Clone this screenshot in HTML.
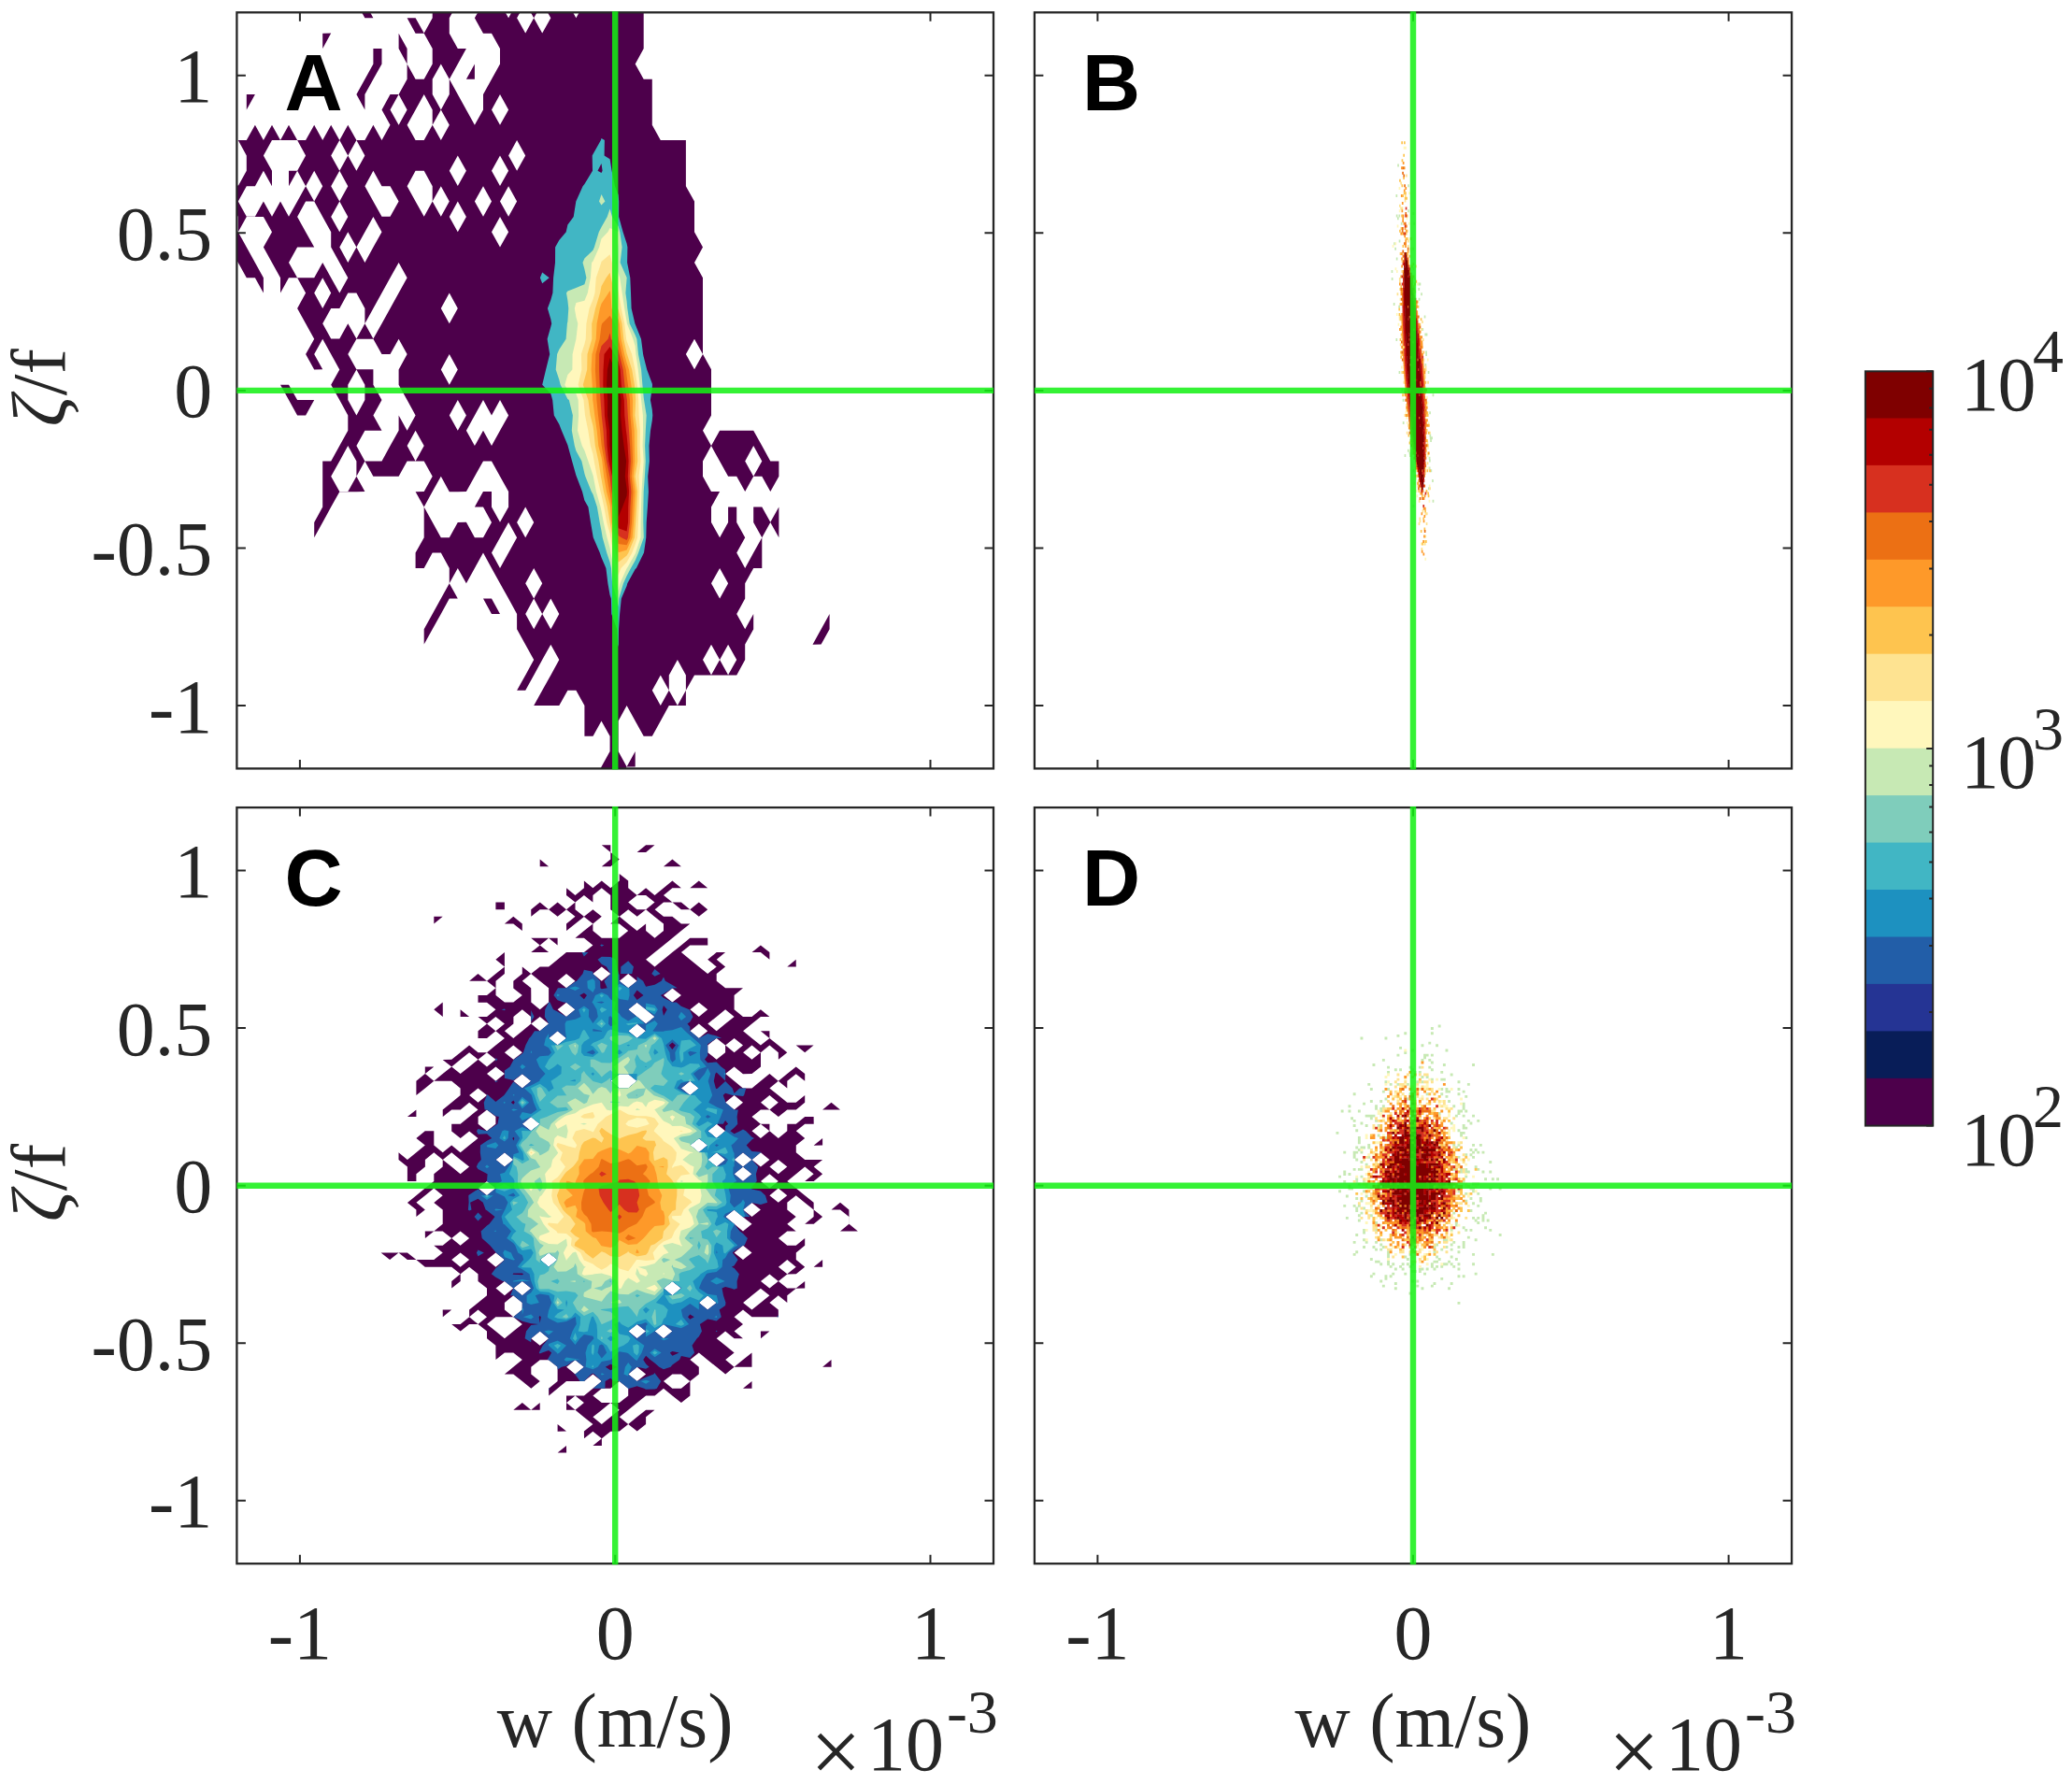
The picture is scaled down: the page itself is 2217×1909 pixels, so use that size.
<!DOCTYPE html>
<html lang="en"><head><meta charset="utf-8"><title>Joint PDF of vertical velocity and vorticity</title>
<style>html,body{margin:0;padding:0;background:#fff}body{width:2217px;height:1909px;overflow:hidden}svg{display:block}text{font-family:"Liberation Serif","DejaVu Serif",serif;fill:#262626}.lab{font-size:82px}.sup{font-size:66px}.pl{font-family:"Liberation Sans","DejaVu Sans",sans-serif;font-weight:bold;font-size:86px;fill:#000}</style></head><body>
<svg width="2217" height="1909" viewBox="0 0 2217 1909">
<rect width="2217" height="1909" fill="#fff"/>
<defs>
<clipPath id="clipA"><rect x="253.4" y="13.3" width="809.6" height="809.1"/></clipPath>
<clipPath id="clipB"><rect x="1106.9" y="13.3" width="810.2" height="809.1"/></clipPath>
<clipPath id="clipC"><rect x="253.4" y="864.1" width="809.6" height="809.1"/></clipPath>
<clipPath id="clipD"><rect x="1106.9" y="864.1" width="810.2" height="809.1"/></clipPath>
</defs>
<g id="panelA">
<g clip-path="url(#clipA)">
<path fill="#4d004b" fill-rule="evenodd" d="M381.4,2.9 390.4,2.9 399.4,19.3 390.4,19.3ZM462.7,-13.4 471.8,-13.4 480.8,-13.4 489.8,-13.4 498.9,-13.4 507.9,-13.4 517,-13.4 526,-13.4 535,-13.4 544.1,-13.4 553.1,-13.4 562.2,-13.4 571.2,-13.4 580.2,-13.4 589.3,2.9 598.3,-13.4 607.4,-13.4 616.4,-13.4 625.4,-13.4 634.5,-13.4 643.5,-13.4 652.6,-13.4 661.6,-13.4 670.6,-13.4 679.7,-13.4 688.7,2.9 688.7,19.3 688.7,35.7 688.7,52 679.7,68.4 688.7,84.7 697.8,84.7 697.8,101 697.8,117.4 697.8,133.8 706.8,150.1 715.8,150.1 724.9,150.1 733.9,150.1 733.9,166.5 733.9,182.8 733.9,199.2 743,215.5 743,231.9 743,248.2 752,264.5 743,280.9 752,297.2 752,313.6 752,330 752,346.3 752,362.7 752,379 761,395.3 761,411.7 761,428.1 761,444.4 752,460.8 761,477.1 770.1,460.8 779.1,460.7 788.2,460.7 797.2,460.7 806.2,460.7 815.3,477.1 824.3,493.4 833.4,493.4 833.4,509.8 824.3,526.1 815.3,509.8 806.2,509.8 797.2,526.1 788.2,509.8 779.1,509.8 770.1,493.5 761,477.1 752,493.5 752,509.8 761,526.1 770.1,526.1 761,542.5 761,558.9 770.1,575.2 779.1,558.9 779.1,542.5 788.2,542.5 788.2,558.9 797.2,575.2 788.2,591.5 797.2,607.9 806.2,591.5 815.3,575.2 806.2,558.9 806.2,542.5 815.3,542.5 824.3,558.8 833.4,542.5 833.4,558.9 833.4,575.2 824.3,558.9 815.3,575.2 815.3,591.5 815.3,607.9 806.2,607.9 797.2,624.2 797.2,640.6 788.2,657 797.2,673.3 806.2,657 806.2,673.3 797.2,689.6 797.2,706 788.2,722.4 779.1,722.4 770.1,722.4 761,722.4 752,722.4 743,722.4 733.9,738.7 733.9,755.1 724.9,755.1 715.8,755.1 706.8,771.4 697.8,787.8 688.7,787.8 679.7,771.4 670.6,755.1 661.6,771.4 661.6,787.8 661.6,804.1 670.6,820.4 679.7,804.1 679.7,820.5 670.6,820.5 661.6,836.8 652.6,853.1 643.5,836.8 634.5,836.8 643.5,820.5 652.6,804.1 652.6,787.8 643.5,771.4 634.5,787.8 625.4,787.8 625.4,771.4 625.4,755.1 616.4,738.7 607.4,738.7 598.3,755.1 589.3,755.1 580.2,755.1 571.2,755.1 580.2,738.7 589.3,722.4 598.3,706 589.3,689.7 580.2,706 571.2,722.4 562.2,738.7 553.1,738.7 562.2,722.4 571.2,706 562.2,689.7 553.1,673.3 553.1,657 544.1,640.6 535,624.3 526,607.9 517,591.6 507.9,607.9 498.9,624.2 489.8,607.9 480.8,624.2 489.8,640.6 480.8,640.6 471.8,657 462.7,673.3 453.7,689.6 453.7,673.3 462.7,657 471.8,640.6 480.8,624.2 480.8,607.9 471.8,591.6 462.7,591.6 453.7,607.9 444.6,607.9 444.6,591.5 453.7,575.2 453.7,558.9 453.7,542.5 444.6,526.2 453.7,526.1 462.7,509.8 453.7,493.5 444.6,493.5 435.6,493.5 426.6,509.8 417.5,509.8 408.5,509.8 399.4,509.8 390.4,493.5 381.4,509.8 390.4,526.1 381.4,526.2 372.3,526.2 363.3,526.2 354.2,542.5 345.2,558.9 336.2,575.2 336.2,558.9 345.2,542.5 345.2,526.1 345.2,509.8 345.2,493.5 354.2,493.4 363.3,477.1 372.3,460.8 372.3,444.4 363.3,428.1 354.2,411.7 363.3,395.4 354.2,379 345.2,362.7 336.2,379 345.2,395.3 336.2,395.4 327.1,379 336.2,362.7 327.1,346.3 318.1,330 327.1,313.6 318.1,297.3 309,297.3 300,313.6 300,297.3 291,280.9 281.9,264.6 291,248.2 281.9,231.9 272.9,231.9 263.8,231.9 254.8,248.2 263.8,264.5 272.9,280.9 281.9,297.2 281.9,313.6 272.9,297.3 263.8,297.3 254.8,280.9 245.8,264.6 254.8,248.2 254.8,231.9 245.8,215.5 236.7,231.9 236.7,215.5 236.7,199.2 245.8,182.8 254.8,199.1 263.8,182.8 263.8,166.5 254.8,150.1 245.8,150.1 236.7,166.5 236.7,150.1 245.8,150.1 254.8,150.1 263.8,150.1 272.9,133.8 281.9,150.1 291,133.8 300,150.1 309,133.8 318.1,150.1 327.1,150.1 336.2,133.8 345.2,150.1 354.2,133.8 363.3,150.1 372.3,133.8 381.4,150.1 390.4,150.1 399.4,133.8 408.5,150.1 417.5,133.8 408.5,117.4 417.5,101 426.6,101 435.6,84.7 435.6,68.4 426.6,52 426.6,35.7 435.6,52 435.6,68.4 444.6,84.7 453.7,84.7 462.7,68.4 462.7,52 453.7,35.7 444.6,35.7 435.6,19.3 444.6,19.3 453.7,35.6 462.7,19.3 462.7,2.9ZM471.8,68.4 462.7,84.7 462.7,101 471.8,117.4 480.8,101 480.8,84.7ZM480.8,313.6 471.8,330 480.8,346.3 489.8,330ZM507.9,-13.4 498.9,2.9 489.8,3 480.8,19.3 480.8,35.7 489.8,52 498.9,52 489.8,68.4 480.8,84.7 489.8,101 498.9,117.4 507.9,133.7 517,117.4 517,101 526,84.7 535,68.4 535,52 526,35.7 517,35.7 507.9,19.3 517,2.9ZM535,101.1 526,117.4 535,133.7 544.1,117.4ZM544.1,-13.4 535,2.9 544.1,19.3 553.1,2.9ZM553.1,150.1 544.1,166.5 553.1,182.8 562.2,166.5ZM562.2,3 553.1,19.3 562.2,35.6 571.2,19.3ZM571.2,607.9 562.2,624.2 571.2,640.6 580.2,624.2ZM580.2,3 571.2,19.3 580.2,35.6 589.3,19.3ZM589.3,640.6 580.2,657 589.3,673.3 598.3,657ZM616.4,-13.4 607.4,2.9 616.4,19.3 625.4,2.9ZM706.8,722.4 697.8,738.7 706.8,755 715.8,738.7ZM724.9,706 715.8,722.4 715.8,738.7 724.9,755 733.9,738.7 733.9,722.4ZM743,362.7 733.9,379 743,395.3 752,379ZM806.2,477.1 797.2,493.5 806.2,509.8 815.3,493.5ZM761,689.7 752,706 761,722.3 770.1,706ZM770.1,607.9 761,624.2 770.1,640.6 779.1,624.2ZM779.1,689.7 770.1,706 779.1,722.3 788.2,706ZM291,150.1 281.9,166.5 291,182.8 291,199.2 281.9,182.8 272.9,199.2 263.8,199.2 254.8,215.5 263.8,231.8 272.9,231.8 281.9,215.5 291,231.8 300,215.5 309,231.8 318.1,215.5 327.1,199.2 318.1,182.8 309,199.2 309,182.8 318.1,182.8 327.1,166.5 318.1,150.1 309,150.1 300,150.1ZM327.1,215.5 318.1,231.9 327.1,248.2 336.2,264.5 327.1,264.6 318.1,264.6 309,280.9 318.1,297.2 327.1,297.2 336.2,297.2 345.2,280.9 354.2,297.2 363.3,313.6 372.3,297.3 363.3,280.9 354.2,264.6 354.2,248.2 345.2,231.9 336.2,215.5ZM336.2,182.8 327.1,199.2 336.2,215.5 345.2,199.2ZM363.3,150.1 354.2,166.5 363.3,182.8 372.3,166.5ZM372.3,248.2 363.3,264.6 372.3,280.9 381.4,264.6ZM381.4,150.1 372.3,166.5 381.4,182.8 390.4,166.5ZM399.4,182.8 390.4,199.2 399.4,215.5 408.5,231.8 417.5,231.8 426.6,215.5 417.5,199.2 408.5,199.2ZM426.6,101.1 417.5,117.4 426.6,133.7 435.6,117.4ZM453.7,101.1 444.6,117.4 435.6,133.8 444.6,150.1 453.7,150.1 462.7,133.8 462.7,117.4ZM471.8,117.4 462.7,133.8 471.8,150.1 480.8,133.8ZM480.8,379 471.8,395.4 480.8,411.7 489.8,395.4ZM489.8,166.5 480.8,182.8 489.8,199.1 498.9,182.8ZM517,199.2 507.9,215.5 517,231.8 526,215.5ZM535,166.5 526,182.8 535,199.1 544.1,182.8ZM544.1,199.2 535,215.5 544.1,231.8 553.1,215.5ZM562.2,542.5 553.1,558.9 562.2,575.2 571.2,558.9ZM571.2,640.6 562.2,657 571.2,673.3 580.2,657ZM345.2,297.3 336.2,313.6 345.2,329.9 354.2,313.6ZM363.3,182.8 354.2,199.2 363.3,215.5 372.3,199.2ZM372.3,313.6 363.3,330 354.2,330 345.2,346.3 354.2,362.6 363.3,362.6 372.3,346.3 381.4,362.6 390.4,346.3 390.4,330 381.4,313.6ZM399.4,231.9 390.4,248.2 381.4,264.6 390.4,280.9 399.4,264.6 408.5,248.2ZM426.6,280.9 417.5,297.3 408.5,313.6 399.4,330 390.4,346.3 399.4,362.6 408.5,346.3 417.5,330 426.6,313.6 435.6,297.3ZM444.6,182.8 435.6,199.2 444.6,215.5 453.7,231.8 462.7,215.5 462.7,199.2 453.7,182.8ZM471.8,199.2 462.7,215.5 471.8,231.8 480.8,215.5ZM489.8,215.5 480.8,231.9 489.8,248.2 498.9,231.9ZM517,428.1 507.9,444.4 498.9,460.8 507.9,477.1 517,460.8 526,477.1 535,460.8 544.1,444.4 535,428.1 526,444.4ZM535,231.9 526,248.2 535,264.5 544.1,248.2ZM544.1,558.9 535,575.2 526,591.5 535,607.9 544.1,591.5 553.1,575.2ZM363.3,215.5 354.2,231.9 363.3,248.2 372.3,231.9ZM372.3,477.1 363.3,493.5 354.2,509.8 363.3,526.1 372.3,526.1 381.4,509.8 381.4,493.5ZM381.4,362.7 372.3,379 381.4,395.3 390.4,395.3 399.4,395.3 399.4,411.7 408.5,428 399.4,444.4 408.5,460.7 399.4,460.8 390.4,460.8 381.4,477.1 390.4,493.4 399.4,493.4 408.5,493.4 417.5,477.1 426.6,460.8 426.6,444.4 435.6,460.7 444.6,444.4 435.6,428.1 426.6,411.7 426.6,395.4 435.6,379 426.6,362.7 417.5,379 408.5,379 399.4,362.7 390.4,362.7ZM444.6,460.8 435.6,477.1 444.6,493.4 453.7,477.1ZM489.8,428.1 480.8,444.4 489.8,460.7 498.9,444.4ZM517,493.5 507.9,509.8 498.9,526.1 489.8,526.2 480.8,526.2 471.8,509.8 462.7,526.1 453.7,542.5 462.7,558.8 471.8,575.2 480.8,575.2 489.8,558.9 498.9,558.8 507.9,575.2 517,575.2 526,558.9 517,542.5 507.9,542.5 517,526.1 526,526.1 526,542.5 535,558.8 544.1,542.5 544.1,526.1 535,509.8 526,493.5ZM381.4,395.4 372.3,411.7 372.3,428.1 381.4,444.4 390.4,428.1 390.4,411.7ZM345.2,35.7 354.2,35.6 345.2,52ZM399.4,52 408.5,52 408.5,68.4 399.4,84.7 390.4,101 390.4,117.4 381.4,101.1 390.4,84.7 399.4,68.4ZM507.9,68.4 507.9,84.7 498.9,84.7ZM263.8,101 272.9,101 263.8,117.4ZM300,411.7 309,411.7 318.1,428 327.1,428 336.2,428 327.1,444.4 318.1,444.4 309,428.1ZM517,640.6 526,640.6 535,656.9 526,657ZM887.6,657 887.6,673.3 878.6,689.6 869.5,689.7 878.6,673.3Z"/>
<path fill="#41b6c4" fill-rule="evenodd" d="M642.9,150.1 643.5,147.9 646.9,150.1 646.6,166.5 652.6,170.2 654.6,182.8 658,199.2 661.6,208.4 662.2,215.5 662.1,231.9 666.6,248.2 670.6,260.6 671.4,264.6 671.1,280.9 674.3,297.3 675,313.6 675.6,330 679.4,346.3 679.7,346.9 686,362.7 688.1,379 688.7,381.7 692.2,395.4 697.8,410.5 698,411.7 697.8,415.1 695.9,428.1 697.8,438.3 698.3,444.4 697.8,449.9 696,460.8 694.5,477.1 694.9,493.5 693.2,509.8 693.9,526.1 692.9,542.5 691.7,558.9 691.3,575.2 689,591.5 688.7,592 680.9,607.9 679.7,608.9 671.3,624.2 670.6,627.1 664.8,640.6 663.1,657 662,673.3 661.7,689.6 661.6,692.3 661,689.6 660.2,673.3 654.3,657 653.9,640.6 652.6,636.7 650.4,624.2 648.4,607.9 643.5,596.5 641.8,591.5 634.8,575.2 634.5,573.8 632,558.9 629.4,542.5 625.4,535.5 623,526.1 616.8,509.8 616.4,508.8 612.1,493.5 607.6,477.1 607.4,476.3 600.9,460.8 598.3,454 592.8,444.4 591.2,428.1 589.3,421.2 580.2,411.8 580.2,411.7 580.2,411.7 584.1,395.4 588.2,379 585.6,362.7 589.3,349.8 590.2,346.3 589.3,341.4 585.9,330 589.3,321.1 591.4,313.6 592.1,297.3 594,280.9 594.1,264.6 598.3,257 605.7,248.2 607.4,240.6 613.7,231.9 616.3,215.5 616.4,215.3 623.6,199.2 625.4,197.1 634,182.8 633.7,166.5 634.5,165ZM643.5,174.9 639.5,182.8 643.5,184.9 644.6,182.8ZM577.9,297.3 580.2,291.4 587.7,297.3 580.2,303.2Z"/>
<path fill="#c7e9b4" fill-rule="evenodd" d="M641,215.5 643.5,208.1 647.4,215.5 643.5,219.5ZM649.7,231.9 652.6,223.4 655,231.9 661.6,241.9 663.3,248.2 665.6,264.6 663.6,280.9 670.6,297.1 670.7,297.3 670.6,298.1 669.4,313.6 670.6,322.3 671.3,330 673.7,346.3 679.7,358.5 681.4,362.7 683,379 686.1,395.4 687.4,411.7 688.7,424.9 689.1,428.1 691.7,444.4 690.8,460.8 690.1,477.1 690.8,493.5 689.9,509.8 688.7,525.9 688.7,526.1 688.4,542.5 688.3,558.9 688.7,571.6 688.8,575.2 688.7,575.5 683.1,591.5 679.7,599.8 675,607.9 670.6,616.2 667,624.2 662.2,640.6 661.6,649.5 660,640.6 655.1,624.2 654,607.9 652.6,601.6 649.2,591.5 644.7,575.2 643.5,568 641.7,558.9 638.9,542.5 634.5,529.1 632.8,526.1 626.3,509.8 625.4,506.8 622.4,493.5 616.4,482.6 614.8,477.1 611.8,460.8 612.9,444.4 608.8,428.1 607.4,427 599.7,411.7 598.3,406.2 594.7,395.4 596.1,379 598.3,373.9 605.6,362.7 606.9,346.3 607.4,344 608.3,330 607.4,321.5 606,313.6 607.4,311.6 616.4,308.1 625.4,304.2 627.4,297.3 625.4,287.9 623.5,280.9 625.4,276.4 634.5,267.7 635.9,264.5 640.8,248.2 643.5,243.1Z"/>
<path fill="#fff7bc" fill-rule="evenodd" d="M650.4,248.2 652.6,244.1 661.6,247.9 661.7,248.2 661.6,259 661.1,264.6 659.3,280.9 661.6,292.4 663.2,297.3 665.7,313.6 668.2,330 670.6,344.3 670.9,346.3 677.4,362.7 679.7,370.6 680.4,379 682.8,395.4 684.6,411.7 686.1,428.1 687.9,444.4 688.1,460.8 687.6,477.1 688.7,493.5 687.5,509.8 686.5,526.1 686,542.5 685.6,558.9 685.5,575.2 680.1,591.5 679.7,592.6 670.9,607.9 670.6,608.3 663.4,624.2 661.6,632.5 659.4,624.2 657.1,607.9 653.3,591.5 652.6,586.6 649.5,575.2 645.8,558.9 643.5,546.8 642.6,542.5 637.9,526.1 634.8,509.8 634.5,508.4 629.4,493.5 625.4,481.9 622.8,477.1 618,460.8 619.1,444.4 618.7,428.1 616.4,421.2 607.4,417.8 604.3,411.7 607.4,401 612.4,395.4 612.6,379 616.4,362.7 616.4,362.6 618.3,346.3 616.4,339.3 614.8,330 616.4,323.9 625.4,321.7 628.8,313.6 631.8,297.3 633.1,280.9 634.5,279.5 641.1,264.6 643.5,255.5Z"/>
<path fill="#fee391" fill-rule="evenodd" d="M643.3,280.9 643.5,280.1 652.6,272.3 654.8,280.9 658.1,297.3 661.6,312 661.9,313.6 664.7,330 668.2,346.3 670.1,362.7 670.6,364.9 676.1,379 679.4,395.4 679.7,396.9 681.8,411.7 683.2,428.1 683.6,444.4 684.9,460.8 684.6,477.1 685.5,493.5 683.6,509.8 684.3,526.1 683.6,542.5 682.9,558.9 682.1,575.2 679.7,582.5 676.3,591.5 670.6,601.4 664.4,607.9 661.6,615.4 660.3,607.9 656.1,591.5 653.4,575.2 652.6,570.8 649.2,558.9 646.3,542.5 643.5,529.7 642.5,526.1 638.8,509.8 635.7,493.5 634.5,486 631.8,477.1 629.3,460.8 626,444.4 625.4,438.2 624.5,428.1 618.6,411.7 622.4,395.4 621.9,379 625.4,368.2 626.7,362.7 627.4,346.3 630.6,330 634.5,320.6 636.5,313.6 637.8,297.3Z"/>
<path fill="#fec44f" fill-rule="evenodd" d="M648.6,297.3 652.6,291.8 653.7,297.3 657.6,313.6 660.8,330 661.6,331.2 665.5,346.3 667.3,362.7 670.6,378 671,379 676.2,395.4 678.9,411.7 679.7,420.6 680.2,428.1 679.7,439 679.4,444.4 679.7,446.4 681.7,460.8 681.7,477.1 682.3,493.5 679.7,509.3 679.6,509.8 679.7,510.2 682.1,526.1 681.2,542.5 680.2,558.9 679.7,565 679,575.2 672.4,591.5 670.6,594.6 661.6,601.8 658.9,591.5 655.6,575.2 652.6,558.9 652.6,558.8 649.9,542.5 645.9,526.1 643.5,512.6 642.9,509.8 640.4,493.5 636.8,477.1 635.2,460.8 634.5,455.8 631.6,444.4 629.4,428.1 625.4,416.3 623.8,411.7 625.4,406.1 628.2,395.4 628.5,379 633.3,362.7 633.2,346.3 634.5,341.6 637.1,330 642.1,313.6 643.5,306.3Z"/>
<path fill="#fe9929" fill-rule="evenodd" d="M651.1,313.6 652.6,310.9 653.2,313.6 654.5,330 661.6,341.7 662.8,346.3 664.5,362.7 668.1,379 670.6,388.2 673,395.4 675.4,411.7 677.1,428.1 676.9,444.4 678.7,460.8 678.9,477.1 679.3,493.5 677.7,509.8 679.7,524.9 679.9,526.1 679.7,529.3 678.9,542.5 678,558.9 676.6,575.2 670.6,588.6 661.6,591.3 657.8,575.2 654.4,558.9 653.1,542.5 652.6,539.6 649,526.1 646.1,509.8 644.3,493.5 643.5,489.3 640.3,477.1 638.7,460.8 636.3,444.4 634.5,429.7 634.2,428.1 633.7,411.7 632.6,395.4 633.4,379 634.5,375.6 637.7,362.7 638.6,346.3 641.9,330 643.5,324.9Z"/>
<path fill="#ec7014" fill-rule="evenodd" d="M644.2,346.3 652.6,337.7 657.8,346.3 661.6,361.8 661.7,362.7 665.3,379 669.8,395.4 670.6,402.5 671.9,411.7 674,428.1 674.4,444.4 675.8,460.8 676.5,477.1 677.1,493.5 675.7,509.8 677.6,526.2 676.7,542.5 676,558.9 674.3,575.2 670.6,583.3 661.6,581.9 660,575.2 656.3,558.9 655,542.5 652.6,528.1 652.1,526.1 649.3,509.8 646.6,493.5 643.7,477.1 643.5,475.3 642.1,460.8 640,444.4 638.4,428.1 637.9,411.7 636.9,395.4 637.4,379 641.7,362.7 643.5,348.4Z"/>
<path fill="#d7301f" fill-rule="evenodd" d="M650.6,362.7 652.6,356.2 653.8,362.6 661.6,374.7 662.6,379 666.7,395.4 668.4,411.7 670.6,425.8 670.9,428.1 671.8,444.4 673,460.8 674.1,477.1 674.8,493.5 673.8,509.8 675.4,526.2 674.4,542.5 674,558.9 671.9,575.2 670.6,578 664.8,575.2 661.6,573 658.2,558.9 657,542.5 654.5,526.1 652.6,510.6 652.4,509.8 649,493.5 646.6,477.1 645.5,460.8 643.7,444.4 643.5,441.1 642.5,428.1 641.6,411.7 641.1,395.4 641.2,379 643.5,370.3Z"/>
<path fill="#b30000" fill-rule="evenodd" d="M646.5,379 652.6,371.1 657.6,379 661.6,387.1 663.7,395.4 664.8,411.7 667.8,428.1 668.3,444.4 669.9,460.8 670.6,465.8 671.6,477.1 672.6,493.5 671.8,509.8 673.1,526.1 672.2,542.5 672,558.9 670.6,568.4 661.6,565.3 660,558.9 659,542.5 656.8,526.1 655,509.8 652.6,499.2 651.3,493.5 649.5,477.1 648.9,460.8 646.9,444.4 646.4,428.1 645.3,411.7 645.5,395.4Z"/>
<path fill="#7f0000" fill-rule="evenodd" d="M649.9,395.4 652.6,383 658.4,395.4 660.8,411.7 661.6,413.1 664.6,428.1 664.1,444.4 665.5,460.8 667.6,477.1 670.1,493.4 668.8,509.8 670.6,522.8 670.9,526.1 670.6,530.4 666.1,542.5 661.6,553.2 661,542.5 659.1,526.1 657.5,509.8 654.5,493.5 652.6,478.6 652.4,477.1 652.2,460.8 650,444.4 650.2,428.1 649.1,411.7Z"/>
</g>
<rect x="253.4" y="13.3" width="809.6" height="809.1" fill="none" stroke="#262626" stroke-width="2.3"/>
<path d="M320.9,13.3v9.5M320.9,822.4v-9.5M658.2,13.3v9.5M658.2,822.4v-9.5M995.5,13.3v9.5M995.5,822.4v-9.5M253.4,755h9.5M1063,755h-9.5M253.4,586.4h9.5M1063,586.4h-9.5M253.4,417.9h9.5M1063,417.9h-9.5M253.4,249.3h9.5M1063,249.3h-9.5M253.4,80.7h9.5M1063,80.7h-9.5" stroke="#262626" stroke-width="2" fill="none"/>
<g stroke="#14f014" stroke-width="6.4" opacity="0.86"><path d="M253.4,417.9H1063"/><path d="M658.2,12.3V823.4"/></g>
<text class="pl" x="304.4" y="118.3">A</text>
</g>
<g id="panelB">
<g clip-path="url(#clipB)">
<path fill="#c7e9b4" d="M1495.2,175.6h1.7v3h-1.7zM1506.2,197.2h1.7v3h-1.7zM1493.5,208h1.7v3h-1.7zM1506.2,224.2h1.7v3h-1.7zM1511.5,226.9h1.7v3h-1.7zM1493.8,229.6h1.7v3h-1.7zM1496.5,229.6h1.7v3h-1.7zM1495,232.3h1.7v3h-1.7zM1498.8,237.7h1.7v3h-1.7zM1512.3,237.7h1.7v3h-1.7zM1496.7,256.6h1.7v3h-1.7zM1491.2,259.3h1.7v3h-1.7zM1492.3,264.7h1.7v3h-1.7zM1511.2,264.7h1.7v3h-1.7zM1493.8,275.5h1.7v3h-1.7zM1488.6,289h1.7v3h-1.7zM1488.8,297.1h1.7v3h-1.7zM1517.3,302.5h1.7v3h-1.7zM1518.6,302.5h1.7v3h-1.7zM1517.4,307.9h1.7v3h-1.7zM1520.2,313.3h1.7v3h-1.7zM1517.7,318.7h1.7v3h-1.7zM1490.8,324.1h1.7v3h-1.7zM1496.3,326.8h1.7v3h-1.7zM1523.7,337.6h1.7v3h-1.7zM1521.4,351.1h1.7v3h-1.7zM1524.4,356.5h1.7v3h-1.7zM1525.7,356.5h1.7v3h-1.7zM1493.5,361.9h1.7v3h-1.7zM1525.2,375.4h1.7v3h-1.7zM1525.3,378.1h1.7v3h-1.7zM1524.5,388.9h1.7v3h-1.7zM1496.6,397h1.7v3h-1.7zM1527.7,397h1.7v3h-1.7zM1499.6,415.9h1.7v3h-1.7zM1532.6,421.3h1.7v3h-1.7zM1500.7,426.7h1.7v3h-1.7zM1529.2,440.2h1.7v3h-1.7zM1500.8,451h1.7v3h-1.7zM1529.5,464.5h1.7v3h-1.7zM1529.8,467.2h1.7v3h-1.7zM1531.2,467.2h1.7v3h-1.7zM1530.2,469.9h1.7v3h-1.7zM1506,480.7h1.7v3h-1.7zM1507.7,483.4h1.7v3h-1.7zM1502.6,486.1h1.7v3h-1.7zM1508,486.1h1.7v3h-1.7zM1528.7,488.8h1.7v3h-1.7zM1529,491.5h1.7v3h-1.7zM1528.8,499.6h1.7v3h-1.7zM1511.6,502.3h1.7v3h-1.7zM1530.5,502.3h1.7v3h-1.7zM1532.1,513.1h1.7v3h-1.7zM1527.9,521.2h1.7v3h-1.7zM1532.6,534.7h1.7v3h-1.7zM1511.6,540.1h1.7v3h-1.7z"/>
<path fill="#fff7bc" d="M1501.7,156.7h1.7v3h-1.7zM1503.1,156.7h1.7v3h-1.7zM1496.6,199.9h1.7v3h-1.7zM1507.2,205.3h1.7v3h-1.7zM1496.8,224.2h1.7v3h-1.7zM1504.5,232.3h1.7v3h-1.7zM1506.9,237.7h1.7v3h-1.7zM1494.7,240.4h1.7v3h-1.7zM1507.6,253.9h1.7v3h-1.7zM1492.5,259.3h1.7v3h-1.7zM1489.7,262h1.7v3h-1.7zM1508.5,267.4h1.7v3h-1.7zM1499.2,278.2h1.7v3h-1.7zM1492.6,286.3h1.7v3h-1.7zM1494,289h1.7v3h-1.7zM1515.9,302.5h1.7v3h-1.7zM1497.4,318.7h1.7v3h-1.7zM1493.9,334.9h1.7v3h-1.7zM1495.6,345.7h1.7v3h-1.7zM1498.3,378.1h1.7v3h-1.7zM1522.9,383.5h1.7v3h-1.7zM1526.9,383.5h1.7v3h-1.7zM1499,391.6h1.7v3h-1.7zM1501.5,421.3h1.7v3h-1.7zM1526.1,424h1.7v3h-1.7zM1526.7,429.4h1.7v3h-1.7zM1503.6,440.2h1.7v3h-1.7zM1504.2,445.6h1.7v3h-1.7zM1504.9,451h1.7v3h-1.7zM1527.8,451h1.7v3h-1.7zM1527.2,478h1.7v3h-1.7zM1509.4,486.1h1.7v3h-1.7zM1526.9,486.1h1.7v3h-1.7zM1524.8,499.6h1.7v3h-1.7zM1527.5,499.6h1.7v3h-1.7zM1514.2,510.4h1.7v3h-1.7zM1512.2,515.8h1.7v3h-1.7zM1528.8,518.5h1.7v3h-1.7zM1514.8,523.9h1.7v3h-1.7zM1515.6,529.3h1.7v3h-1.7zM1528.6,534.7h1.7v3h-1.7zM1519.9,580.6h1.7v3h-1.7zM1522.6,580.6h1.7v3h-1.7zM1524.4,596.8h1.7v3h-1.7z"/>
<path fill="#fee391" d="M1504.1,186.4h1.7v3h-1.7zM1498.3,194.5h1.7v3h-1.7zM1503,208h1.7v3h-1.7zM1502.7,213.4h1.7v3h-1.7zM1497,218.8h1.7v3h-1.7zM1498.3,221.5h1.7v3h-1.7zM1499.6,221.5h1.7v3h-1.7zM1505.2,245.8h1.7v3h-1.7zM1506.1,256.6h1.7v3h-1.7zM1505.9,262h1.7v3h-1.7zM1508.5,264.7h1.7v3h-1.7zM1505.8,270.1h1.7v3h-1.7zM1514.2,283.6h1.7v3h-1.7zM1511.5,286.3h1.7v3h-1.7zM1499.4,289h1.7v3h-1.7zM1496.9,297.1h1.7v3h-1.7zM1513.1,297.1h1.7v3h-1.7zM1497,299.8h1.7v3h-1.7zM1497.2,307.9h1.7v3h-1.7zM1494.6,313.3h1.7v3h-1.7zM1516.4,321.4h1.7v3h-1.7zM1496.7,337.6h1.7v3h-1.7zM1496.8,340.3h1.7v3h-1.7zM1521.1,343h1.7v3h-1.7zM1520.1,351.1h1.7v3h-1.7zM1498.8,359.2h1.7v3h-1.7zM1521.9,361.9h1.7v3h-1.7zM1497.8,367.3h1.7v3h-1.7zM1500.6,370h1.7v3h-1.7zM1524.7,391.6h1.7v3h-1.7zM1524.8,394.3h1.7v3h-1.7zM1499.3,397h1.7v3h-1.7zM1523.8,399.7h1.7v3h-1.7zM1524,402.4h1.7v3h-1.7zM1501.5,407.8h1.7v3h-1.7zM1527.2,407.8h1.7v3h-1.7zM1504,432.1h1.7v3h-1.7zM1525.6,432.1h1.7v3h-1.7zM1502.5,442.9h1.7v3h-1.7zM1524.5,445.6h1.7v3h-1.7zM1526.1,459.1h1.7v3h-1.7zM1504.8,461.8h1.7v3h-1.7zM1529.1,461.8h1.7v3h-1.7zM1526.5,472.6h1.7v3h-1.7zM1508.7,480.7h1.7v3h-1.7zM1510.4,483.4h1.7v3h-1.7zM1526.6,483.4h1.7v3h-1.7zM1526.7,494.2h1.7v3h-1.7zM1524.2,505h1.7v3h-1.7zM1515.1,507.7h1.7v3h-1.7zM1529.2,521.2h1.7v3h-1.7zM1517.8,534.7h1.7v3h-1.7zM1521.6,545.5h1.7v3h-1.7zM1524.6,548.2h1.7v3h-1.7zM1525.9,548.2h1.7v3h-1.7zM1518.4,553.6h1.7v3h-1.7zM1518.6,556.3h1.7v3h-1.7zM1517.6,559h1.7v3h-1.7zM1525.7,559h1.7v3h-1.7zM1524.4,572.5h1.7v3h-1.7zM1523.6,577.9h1.7v3h-1.7zM1523.9,580.6h1.7v3h-1.7zM1520.5,586h1.7v3h-1.7z"/>
<path fill="#fec44f" d="M1499.3,151.3h1.7v3h-1.7zM1502,151.3h1.7v3h-1.7zM1501.3,164.8h1.7v3h-1.7zM1499.6,170.2h1.7v3h-1.7zM1501.2,189.1h1.7v3h-1.7zM1497.1,191.8h1.7v3h-1.7zM1499.5,197.2h1.7v3h-1.7zM1501.8,205.3h1.7v3h-1.7zM1503.1,205.3h1.7v3h-1.7zM1500.3,208h1.7v3h-1.7zM1502.8,210.7h1.7v3h-1.7zM1504.2,210.7h1.7v3h-1.7zM1499.2,229.6h1.7v3h-1.7zM1498.6,243.1h1.7v3h-1.7zM1497.1,245.8h1.7v3h-1.7zM1499.7,248.5h1.7v3h-1.7zM1503.8,248.5h1.7v3h-1.7zM1503.5,253.9h1.7v3h-1.7zM1504.9,253.9h1.7v3h-1.7zM1508.9,253.9h1.7v3h-1.7zM1500.5,262h1.7v3h-1.7zM1497.7,270.1h1.7v3h-1.7zM1507.2,272.8h1.7v3h-1.7zM1511.4,280.9h1.7v3h-1.7zM1507.4,283.6h1.7v3h-1.7zM1510.1,283.6h1.7v3h-1.7zM1498.2,294.4h1.7v3h-1.7zM1514.5,299.8h1.7v3h-1.7zM1498.4,305.2h1.7v3h-1.7zM1513.4,310.6h1.7v3h-1.7zM1497.6,324.1h1.7v3h-1.7zM1515.1,324.1h1.7v3h-1.7zM1516.6,326.8h1.7v3h-1.7zM1496.4,329.5h1.7v3h-1.7zM1496.6,334.9h1.7v3h-1.7zM1498,337.6h1.7v3h-1.7zM1498.1,340.3h1.7v3h-1.7zM1519.7,340.3h1.7v3h-1.7zM1518.5,345.7h1.7v3h-1.7zM1498.5,351.1h1.7v3h-1.7zM1498.7,356.5h1.7v3h-1.7zM1497.6,361.9h1.7v3h-1.7zM1502,370h1.7v3h-1.7zM1498.2,375.4h1.7v3h-1.7zM1522.5,375.4h1.7v3h-1.7zM1499.6,378.1h1.7v3h-1.7zM1498.4,380.8h1.7v3h-1.7zM1523.5,394.3h1.7v3h-1.7zM1500.7,397h1.7v3h-1.7zM1524.5,407.8h1.7v3h-1.7zM1500.2,421.3h1.7v3h-1.7zM1504.6,437.5h1.7v3h-1.7zM1526.5,440.2h1.7v3h-1.7zM1505.2,442.9h1.7v3h-1.7zM1525.5,442.9h1.7v3h-1.7zM1526.8,442.9h1.7v3h-1.7zM1506.5,453.7h1.7v3h-1.7zM1528.1,453.7h1.7v3h-1.7zM1527.8,461.8h1.7v3h-1.7zM1506.5,464.5h1.7v3h-1.7zM1508.6,469.9h1.7v3h-1.7zM1526.1,469.9h1.7v3h-1.7zM1507.6,472.6h1.7v3h-1.7zM1526.8,475.3h1.7v3h-1.7zM1514,499.6h1.7v3h-1.7zM1526.5,502.3h1.7v3h-1.7zM1529.2,502.3h1.7v3h-1.7zM1513.8,507.7h1.7v3h-1.7zM1517.2,513.1h1.7v3h-1.7zM1516.7,518.5h1.7v3h-1.7zM1517.5,523.9h1.7v3h-1.7zM1525.6,523.9h1.7v3h-1.7zM1519.2,526.6h1.7v3h-1.7zM1527.3,526.6h1.7v3h-1.7zM1521,529.3h1.7v3h-1.7zM1527.7,529.3h1.7v3h-1.7zM1524.3,545.5h1.7v3h-1.7zM1522.4,553.6h1.7v3h-1.7zM1523.5,564.4h1.7v3h-1.7zM1519.8,567.1h1.7v3h-1.7zM1525,577.9h1.7v3h-1.7zM1521.2,580.6h1.7v3h-1.7z"/>
<path fill="#fe9929" d="M1500.8,172.9h1.7v3h-1.7zM1499.1,178.3h1.7v3h-1.7zM1501.8,178.3h1.7v3h-1.7zM1503.4,199.9h1.7v3h-1.7zM1501.9,202.6h1.7v3h-1.7zM1498.9,208h1.7v3h-1.7zM1499.9,216.1h1.7v3h-1.7zM1499.5,224.2h1.7v3h-1.7zM1500.6,229.6h1.7v3h-1.7zM1504.6,229.6h1.7v3h-1.7zM1500.4,232.3h1.7v3h-1.7zM1500.3,235h1.7v3h-1.7zM1501.5,237.7h1.7v3h-1.7zM1504.1,240.4h1.7v3h-1.7zM1502.7,243.1h1.7v3h-1.7zM1503.9,245.8h1.7v3h-1.7zM1498.4,248.5h1.7v3h-1.7zM1502.3,251.2h1.7v3h-1.7zM1503.4,256.6h1.7v3h-1.7zM1503.3,259.3h1.7v3h-1.7zM1503.2,262h1.7v3h-1.7zM1505.8,267.4h1.7v3h-1.7zM1499.1,270.1h1.7v3h-1.7zM1504.5,270.1h1.7v3h-1.7zM1500.5,272.8h1.7v3h-1.7zM1499.2,275.5h1.7v3h-1.7zM1505.9,275.5h1.7v3h-1.7zM1506,278.2h1.7v3h-1.7zM1506,280.9h1.7v3h-1.7zM1499.3,283.6h1.7v3h-1.7zM1500.8,289h1.7v3h-1.7zM1510.3,294.4h1.7v3h-1.7zM1511.7,294.4h1.7v3h-1.7zM1497,302.5h1.7v3h-1.7zM1510.5,302.5h1.7v3h-1.7zM1513.2,302.5h1.7v3h-1.7zM1510.6,305.2h1.7v3h-1.7zM1511.9,305.2h1.7v3h-1.7zM1499.9,307.9h1.7v3h-1.7zM1498.6,310.6h1.7v3h-1.7zM1499.9,310.6h1.7v3h-1.7zM1512.1,310.6h1.7v3h-1.7zM1498.6,313.3h1.7v3h-1.7zM1512.1,313.3h1.7v3h-1.7zM1513.7,321.4h1.7v3h-1.7zM1498.9,324.1h1.7v3h-1.7zM1515.2,326.8h1.7v3h-1.7zM1515.4,332.2h1.7v3h-1.7zM1499.3,334.9h1.7v3h-1.7zM1515.5,334.9h1.7v3h-1.7zM1499.4,337.6h1.7v3h-1.7zM1499.5,340.3h1.7v3h-1.7zM1499.5,343h1.7v3h-1.7zM1499.6,345.7h1.7v3h-1.7zM1517.2,345.7h1.7v3h-1.7zM1498.4,348.4h1.7v3h-1.7zM1499.7,348.4h1.7v3h-1.7zM1517.3,348.4h1.7v3h-1.7zM1497.1,351.1h1.7v3h-1.7zM1499.8,351.1h1.7v3h-1.7zM1499.9,353.8h1.7v3h-1.7zM1518.8,353.8h1.7v3h-1.7zM1500.1,356.5h1.7v3h-1.7zM1500.2,359.2h1.7v3h-1.7zM1519.1,359.2h1.7v3h-1.7zM1520.4,359.2h1.7v3h-1.7zM1500.3,361.9h1.7v3h-1.7zM1519.2,361.9h1.7v3h-1.7zM1500.4,364.6h1.7v3h-1.7zM1519.3,364.6h1.7v3h-1.7zM1520.6,364.6h1.7v3h-1.7zM1500.5,367.3h1.7v3h-1.7zM1519.4,367.3h1.7v3h-1.7zM1520.7,367.3h1.7v3h-1.7zM1499.3,370h1.7v3h-1.7zM1518.2,370h1.7v3h-1.7zM1520.9,370h1.7v3h-1.7zM1500.7,372.7h1.7v3h-1.7zM1500.9,375.4h1.7v3h-1.7zM1501,378.1h1.7v3h-1.7zM1521.2,378.1h1.7v3h-1.7zM1501.1,380.8h1.7v3h-1.7zM1501.3,383.5h1.7v3h-1.7zM1501.4,386.2h1.7v3h-1.7zM1521.7,386.2h1.7v3h-1.7zM1501.6,388.9h1.7v3h-1.7zM1521.8,388.9h1.7v3h-1.7zM1501.7,391.6h1.7v3h-1.7zM1522,391.6h1.7v3h-1.7zM1501.9,394.3h1.7v3h-1.7zM1522.1,394.3h1.7v3h-1.7zM1502,397h1.7v3h-1.7zM1522.3,397h1.7v3h-1.7zM1523.6,397h1.7v3h-1.7zM1502.2,399.7h1.7v3h-1.7zM1522.5,399.7h1.7v3h-1.7zM1502.4,402.4h1.7v3h-1.7zM1522.7,402.4h1.7v3h-1.7zM1502.6,405.1h1.7v3h-1.7zM1522.9,405.1h1.7v3h-1.7zM1502.9,407.8h1.7v3h-1.7zM1523.1,407.8h1.7v3h-1.7zM1503.1,410.5h1.7v3h-1.7zM1523.4,410.5h1.7v3h-1.7zM1503.4,413.2h1.7v3h-1.7zM1523.6,413.2h1.7v3h-1.7zM1502.3,415.9h1.7v3h-1.7zM1524.2,418.6h1.7v3h-1.7zM1502.9,421.3h1.7v3h-1.7zM1504.2,421.3h1.7v3h-1.7zM1524,429.4h1.7v3h-1.7zM1525.3,429.4h1.7v3h-1.7zM1524.3,432.1h1.7v3h-1.7zM1504.3,434.8h1.7v3h-1.7zM1524.6,434.8h1.7v3h-1.7zM1525.9,434.8h1.7v3h-1.7zM1525.2,440.2h1.7v3h-1.7zM1503.9,442.9h1.7v3h-1.7zM1524.8,448.3h1.7v3h-1.7zM1526.1,448.3h1.7v3h-1.7zM1525.1,451h1.7v3h-1.7zM1525.4,453.7h1.7v3h-1.7zM1526.8,453.7h1.7v3h-1.7zM1506.9,456.4h1.7v3h-1.7zM1524.8,459.1h1.7v3h-1.7zM1525.1,461.8h1.7v3h-1.7zM1509.6,467.2h1.7v3h-1.7zM1509.9,469.9h1.7v3h-1.7zM1524.8,469.9h1.7v3h-1.7zM1510.3,472.6h1.7v3h-1.7zM1510.6,475.3h1.7v3h-1.7zM1511,478h1.7v3h-1.7zM1511.4,480.7h1.7v3h-1.7zM1524.9,480.7h1.7v3h-1.7zM1527.9,483.4h1.7v3h-1.7zM1515.7,502.3h1.7v3h-1.7zM1523.8,502.3h1.7v3h-1.7zM1516.5,507.7h1.7v3h-1.7zM1516.3,515.8h1.7v3h-1.7zM1519.8,521.2h1.7v3h-1.7zM1523.7,529.3h1.7v3h-1.7zM1522.7,532h1.7v3h-1.7zM1522.7,542.8h1.7v3h-1.7zM1524,542.8h1.7v3h-1.7zM1520.5,548.2h1.7v3h-1.7zM1523.5,550.9h1.7v3h-1.7zM1522.7,556.3h1.7v3h-1.7zM1523.1,572.5h1.7v3h-1.7zM1522.3,577.9h1.7v3h-1.7zM1520.8,588.7h1.7v3h-1.7zM1522.5,591.4h1.7v3h-1.7z"/>
<path fill="#ec7014" d="M1500.5,178.3h1.7v3h-1.7zM1500.2,183.7h1.7v3h-1.7zM1501.4,186.4h1.7v3h-1.7zM1502.2,197.2h1.7v3h-1.7zM1503.4,226.9h1.7v3h-1.7zM1502.9,237.7h1.7v3h-1.7zM1500,243.1h1.7v3h-1.7zM1499.8,245.8h1.7v3h-1.7zM1501.1,248.5h1.7v3h-1.7zM1502,259.3h1.7v3h-1.7zM1505.8,264.7h1.7v3h-1.7zM1500.4,267.4h1.7v3h-1.7zM1501.8,270.1h1.7v3h-1.7zM1504.5,272.8h1.7v3h-1.7zM1501.9,275.5h1.7v3h-1.7zM1500.6,278.2h1.7v3h-1.7zM1507.5,289h1.7v3h-1.7zM1500.8,291.7h1.7v3h-1.7zM1500.9,294.4h1.7v3h-1.7zM1509,294.4h1.7v3h-1.7zM1509.1,297.1h1.7v3h-1.7zM1510.4,297.1h1.7v3h-1.7zM1510.5,299.8h1.7v3h-1.7zM1498.5,307.9h1.7v3h-1.7zM1512,307.9h1.7v3h-1.7zM1500,313.3h1.7v3h-1.7zM1500.1,316h1.7v3h-1.7zM1512.2,316h1.7v3h-1.7zM1498.8,318.7h1.7v3h-1.7zM1500.1,318.7h1.7v3h-1.7zM1500.2,321.4h1.7v3h-1.7zM1515.1,321.4h1.7v3h-1.7zM1500.3,324.1h1.7v3h-1.7zM1513.8,324.1h1.7v3h-1.7zM1505.8,326.8h1.7v3h-1.7zM1513.9,326.8h1.7v3h-1.7zM1507.5,337.6h1.7v3h-1.7zM1515.6,337.6h1.7v3h-1.7zM1516.9,337.6h1.7v3h-1.7zM1515.7,340.3h1.7v3h-1.7zM1518.6,348.4h1.7v3h-1.7zM1512,351.1h1.7v3h-1.7zM1517.4,351.1h1.7v3h-1.7zM1517.5,353.8h1.7v3h-1.7zM1517.6,356.5h1.7v3h-1.7zM1517.7,359.2h1.7v3h-1.7zM1499,364.6h1.7v3h-1.7zM1519.5,370h1.7v3h-1.7zM1519.6,372.7h1.7v3h-1.7zM1499.5,375.4h1.7v3h-1.7zM1519.8,375.4h1.7v3h-1.7zM1519.9,378.1h1.7v3h-1.7zM1509.2,380.8h1.7v3h-1.7zM1520,380.8h1.7v3h-1.7zM1499.9,383.5h1.7v3h-1.7zM1516.1,383.5h1.7v3h-1.7zM1520.2,383.5h1.7v3h-1.7zM1521.5,383.5h1.7v3h-1.7zM1520.3,386.2h1.7v3h-1.7zM1508.3,388.9h1.7v3h-1.7zM1519.1,407.8h1.7v3h-1.7zM1519.3,410.5h1.7v3h-1.7zM1522.3,413.2h1.7v3h-1.7zM1503.7,415.9h1.7v3h-1.7zM1522.6,415.9h1.7v3h-1.7zM1525.3,415.9h1.7v3h-1.7zM1503.9,418.6h1.7v3h-1.7zM1522.8,418.6h1.7v3h-1.7zM1523.1,421.3h1.7v3h-1.7zM1504.5,424h1.7v3h-1.7zM1523.4,424h1.7v3h-1.7zM1503.4,426.7h1.7v3h-1.7zM1504.8,426.7h1.7v3h-1.7zM1523.7,426.7h1.7v3h-1.7zM1525,426.7h1.7v3h-1.7zM1505.1,429.4h1.7v3h-1.7zM1505.4,432.1h1.7v3h-1.7zM1505.7,434.8h1.7v3h-1.7zM1506,437.5h1.7v3h-1.7zM1523.5,437.5h1.7v3h-1.7zM1524.9,437.5h1.7v3h-1.7zM1506.3,440.2h1.7v3h-1.7zM1523.8,440.2h1.7v3h-1.7zM1506.6,442.9h1.7v3h-1.7zM1524.1,442.9h1.7v3h-1.7zM1506.9,445.6h1.7v3h-1.7zM1517.7,445.6h1.7v3h-1.7zM1507.2,448.3h1.7v3h-1.7zM1507.6,451h1.7v3h-1.7zM1507.9,453.7h1.7v3h-1.7zM1524.1,453.7h1.7v3h-1.7zM1508.2,456.4h1.7v3h-1.7zM1524.4,456.4h1.7v3h-1.7zM1508.6,459.1h1.7v3h-1.7zM1507.5,461.8h1.7v3h-1.7zM1508.9,461.8h1.7v3h-1.7zM1509.2,464.5h1.7v3h-1.7zM1524.1,464.5h1.7v3h-1.7zM1524.4,467.2h1.7v3h-1.7zM1509.3,475.3h1.7v3h-1.7zM1524.1,475.3h1.7v3h-1.7zM1525.5,475.3h1.7v3h-1.7zM1524.5,478h1.7v3h-1.7zM1512.7,480.7h1.7v3h-1.7zM1511.7,483.4h1.7v3h-1.7zM1524.2,486.1h1.7v3h-1.7zM1512.5,488.8h1.7v3h-1.7zM1524.6,488.8h1.7v3h-1.7zM1514.6,494.2h1.7v3h-1.7zM1524,494.2h1.7v3h-1.7zM1514.9,496.9h1.7v3h-1.7zM1524.4,496.9h1.7v3h-1.7zM1515.3,499.6h1.7v3h-1.7zM1523.4,499.6h1.7v3h-1.7zM1521.1,502.3h1.7v3h-1.7zM1523.2,507.7h1.7v3h-1.7zM1518,518.5h1.7v3h-1.7zM1523.4,518.5h1.7v3h-1.7zM1517.1,521.2h1.7v3h-1.7zM1521.5,523.9h1.7v3h-1.7zM1520.6,526.6h1.7v3h-1.7zM1518.7,532h1.7v3h-1.7zM1521.4,532h1.7v3h-1.7zM1523.8,567.1h1.7v3h-1.7z"/>
<path fill="#d7301f" d="M1503.7,221.5h1.7v3h-1.7zM1503.3,229.6h1.7v3h-1.7zM1502.8,240.4h1.7v3h-1.7zM1502.4,248.5h1.7v3h-1.7zM1501.8,272.8h1.7v3h-1.7zM1504.6,275.5h1.7v3h-1.7zM1501.9,278.2h1.7v3h-1.7zM1500.6,280.9h1.7v3h-1.7zM1506.1,283.6h1.7v3h-1.7zM1507.5,286.3h1.7v3h-1.7zM1507.6,291.7h1.7v3h-1.7zM1508.9,291.7h1.7v3h-1.7zM1499.5,294.4h1.7v3h-1.7zM1501,297.1h1.7v3h-1.7zM1501,299.8h1.7v3h-1.7zM1509.1,299.8h1.7v3h-1.7zM1499.7,302.5h1.7v3h-1.7zM1501.1,302.5h1.7v3h-1.7zM1501.1,305.2h1.7v3h-1.7zM1510.7,307.9h1.7v3h-1.7zM1510.7,310.6h1.7v3h-1.7zM1509.5,316h1.7v3h-1.7zM1512.3,318.7h1.7v3h-1.7zM1513.6,318.7h1.7v3h-1.7zM1512.4,321.4h1.7v3h-1.7zM1512.4,324.1h1.7v3h-1.7zM1500.4,326.8h1.7v3h-1.7zM1500.5,329.5h1.7v3h-1.7zM1514,329.5h1.7v3h-1.7zM1500.5,332.2h1.7v3h-1.7zM1514,332.2h1.7v3h-1.7zM1500.6,334.9h1.7v3h-1.7zM1514.1,334.9h1.7v3h-1.7zM1500.7,337.6h1.7v3h-1.7zM1514.2,337.6h1.7v3h-1.7zM1500.8,340.3h1.7v3h-1.7zM1500.9,343h1.7v3h-1.7zM1515.7,343h1.7v3h-1.7zM1501,345.7h1.7v3h-1.7zM1515.8,345.7h1.7v3h-1.7zM1501.1,348.4h1.7v3h-1.7zM1515.9,348.4h1.7v3h-1.7zM1501.2,351.1h1.7v3h-1.7zM1516,351.1h1.7v3h-1.7zM1501.3,353.8h1.7v3h-1.7zM1516.1,353.8h1.7v3h-1.7zM1501.4,356.5h1.7v3h-1.7zM1501.5,359.2h1.7v3h-1.7zM1501.6,361.9h1.7v3h-1.7zM1507,361.9h1.7v3h-1.7zM1517.8,361.9h1.7v3h-1.7zM1501.7,364.6h1.7v3h-1.7zM1511.2,364.6h1.7v3h-1.7zM1517.9,364.6h1.7v3h-1.7zM1501.8,367.3h1.7v3h-1.7zM1505.9,367.3h1.7v3h-1.7zM1518,367.3h1.7v3h-1.7zM1502.1,372.7h1.7v3h-1.7zM1518.3,372.7h1.7v3h-1.7zM1502.2,375.4h1.7v3h-1.7zM1518.4,375.4h1.7v3h-1.7zM1502.3,378.1h1.7v3h-1.7zM1518.5,378.1h1.7v3h-1.7zM1502.5,380.8h1.7v3h-1.7zM1518.7,380.8h1.7v3h-1.7zM1521.4,380.8h1.7v3h-1.7zM1502.6,383.5h1.7v3h-1.7zM1502.8,386.2h1.7v3h-1.7zM1502.9,388.9h1.7v3h-1.7zM1520.5,388.9h1.7v3h-1.7zM1503.1,391.6h1.7v3h-1.7zM1520.6,391.6h1.7v3h-1.7zM1503.2,394.3h1.7v3h-1.7zM1516.7,394.3h1.7v3h-1.7zM1520.8,394.3h1.7v3h-1.7zM1503.4,397h1.7v3h-1.7zM1520.9,397h1.7v3h-1.7zM1503.6,399.7h1.7v3h-1.7zM1521.1,399.7h1.7v3h-1.7zM1503.8,402.4h1.7v3h-1.7zM1521.3,402.4h1.7v3h-1.7zM1504,405.1h1.7v3h-1.7zM1513.4,405.1h1.7v3h-1.7zM1521.5,405.1h1.7v3h-1.7zM1504.2,407.8h1.7v3h-1.7zM1521.8,407.8h1.7v3h-1.7zM1504.5,410.5h1.7v3h-1.7zM1522,410.5h1.7v3h-1.7zM1504.7,413.2h1.7v3h-1.7zM1505,415.9h1.7v3h-1.7zM1507.7,415.9h1.7v3h-1.7zM1523.9,415.9h1.7v3h-1.7zM1502.6,418.6h1.7v3h-1.7zM1505.3,418.6h1.7v3h-1.7zM1521.5,418.6h1.7v3h-1.7zM1505.6,421.3h1.7v3h-1.7zM1517.7,421.3h1.7v3h-1.7zM1521.8,421.3h1.7v3h-1.7zM1505.8,424h1.7v3h-1.7zM1522,424h1.7v3h-1.7zM1506.1,426.7h1.7v3h-1.7zM1522.3,426.7h1.7v3h-1.7zM1506.4,429.4h1.7v3h-1.7zM1522.6,429.4h1.7v3h-1.7zM1506.7,432.1h1.7v3h-1.7zM1522.9,432.1h1.7v3h-1.7zM1507,434.8h1.7v3h-1.7zM1523.2,434.8h1.7v3h-1.7zM1507.3,437.5h1.7v3h-1.7zM1507.6,440.2h1.7v3h-1.7zM1522.5,440.2h1.7v3h-1.7zM1507.9,442.9h1.7v3h-1.7zM1513.3,442.9h1.7v3h-1.7zM1522.8,442.9h1.7v3h-1.7zM1508.3,445.6h1.7v3h-1.7zM1523.1,445.6h1.7v3h-1.7zM1508.6,448.3h1.7v3h-1.7zM1523.4,448.3h1.7v3h-1.7zM1508.9,451h1.7v3h-1.7zM1523.8,451h1.7v3h-1.7zM1509.2,453.7h1.7v3h-1.7zM1509.6,456.4h1.7v3h-1.7zM1523.1,456.4h1.7v3h-1.7zM1509.9,459.1h1.7v3h-1.7zM1523.4,459.1h1.7v3h-1.7zM1510.2,461.8h1.7v3h-1.7zM1523.7,461.8h1.7v3h-1.7zM1510.6,464.5h1.7v3h-1.7zM1510.9,467.2h1.7v3h-1.7zM1511.3,469.9h1.7v3h-1.7zM1523.4,469.9h1.7v3h-1.7zM1511.6,472.6h1.7v3h-1.7zM1522.4,472.6h1.7v3h-1.7zM1523.8,472.6h1.7v3h-1.7zM1512,475.3h1.7v3h-1.7zM1512.3,478h1.7v3h-1.7zM1521.8,478h1.7v3h-1.7zM1523.5,480.7h1.7v3h-1.7zM1513.1,483.4h1.7v3h-1.7zM1514.4,483.4h1.7v3h-1.7zM1523.9,483.4h1.7v3h-1.7zM1513.4,486.1h1.7v3h-1.7zM1513.8,488.8h1.7v3h-1.7zM1523.3,488.8h1.7v3h-1.7zM1514.2,491.5h1.7v3h-1.7zM1523.6,491.5h1.7v3h-1.7zM1523,496.9h1.7v3h-1.7zM1521.5,505h1.7v3h-1.7zM1522.8,505h1.7v3h-1.7zM1522.6,513.1h1.7v3h-1.7zM1519,515.8h1.7v3h-1.7zM1519.4,518.5h1.7v3h-1.7zM1520.2,523.9h1.7v3h-1.7zM1524.6,526.6h1.7v3h-1.7zM1522.4,540.1h1.7v3h-1.7z"/>
<path fill="#b30000" d="M1502,280.9h1.7v3h-1.7zM1502,283.6h1.7v3h-1.7zM1506.1,286.3h1.7v3h-1.7zM1506.3,294.4h1.7v3h-1.7zM1507.6,294.4h1.7v3h-1.7zM1509.2,302.5h1.7v3h-1.7zM1509.2,305.2h1.7v3h-1.7zM1501.2,307.9h1.7v3h-1.7zM1509.3,307.9h1.7v3h-1.7zM1501.3,310.6h1.7v3h-1.7zM1501.3,313.3h1.7v3h-1.7zM1510.8,313.3h1.7v3h-1.7zM1501.4,316h1.7v3h-1.7zM1510.9,316h1.7v3h-1.7zM1501.5,318.7h1.7v3h-1.7zM1510.9,318.7h1.7v3h-1.7zM1501.6,321.4h1.7v3h-1.7zM1501.6,324.1h1.7v3h-1.7zM1501.7,326.8h1.7v3h-1.7zM1512.5,326.8h1.7v3h-1.7zM1501.8,329.5h1.7v3h-1.7zM1512.6,329.5h1.7v3h-1.7zM1501.9,332.2h1.7v3h-1.7zM1512.7,332.2h1.7v3h-1.7zM1502,334.9h1.7v3h-1.7zM1512.8,334.9h1.7v3h-1.7zM1502.1,337.6h1.7v3h-1.7zM1502.2,340.3h1.7v3h-1.7zM1506.2,340.3h1.7v3h-1.7zM1514.3,340.3h1.7v3h-1.7zM1502.2,343h1.7v3h-1.7zM1514.4,343h1.7v3h-1.7zM1502.3,345.7h1.7v3h-1.7zM1514.5,345.7h1.7v3h-1.7zM1502.4,348.4h1.7v3h-1.7zM1514.6,348.4h1.7v3h-1.7zM1502.5,351.1h1.7v3h-1.7zM1514.7,351.1h1.7v3h-1.7zM1502.6,353.8h1.7v3h-1.7zM1502.8,356.5h1.7v3h-1.7zM1506.8,356.5h1.7v3h-1.7zM1516.3,356.5h1.7v3h-1.7zM1502.9,359.2h1.7v3h-1.7zM1516.4,359.2h1.7v3h-1.7zM1503,361.9h1.7v3h-1.7zM1516.5,361.9h1.7v3h-1.7zM1503.1,364.6h1.7v3h-1.7zM1516.6,364.6h1.7v3h-1.7zM1503.2,367.3h1.7v3h-1.7zM1516.7,367.3h1.7v3h-1.7zM1503.3,370h1.7v3h-1.7zM1516.8,370h1.7v3h-1.7zM1503.4,372.7h1.7v3h-1.7zM1516.9,372.7h1.7v3h-1.7zM1503.6,375.4h1.7v3h-1.7zM1517.1,375.4h1.7v3h-1.7zM1503.7,378.1h1.7v3h-1.7zM1517.2,378.1h1.7v3h-1.7zM1503.8,380.8h1.7v3h-1.7zM1507.9,380.8h1.7v3h-1.7zM1517.3,380.8h1.7v3h-1.7zM1504,383.5h1.7v3h-1.7zM1518.8,383.5h1.7v3h-1.7zM1504.1,386.2h1.7v3h-1.7zM1519,386.2h1.7v3h-1.7zM1504.3,388.9h1.7v3h-1.7zM1519.1,388.9h1.7v3h-1.7zM1504.4,391.6h1.7v3h-1.7zM1519.3,391.6h1.7v3h-1.7zM1504.6,394.3h1.7v3h-1.7zM1519.4,394.3h1.7v3h-1.7zM1504.7,397h1.7v3h-1.7zM1519.6,397h1.7v3h-1.7zM1504.9,399.7h1.7v3h-1.7zM1519.8,399.7h1.7v3h-1.7zM1505.1,402.4h1.7v3h-1.7zM1520,402.4h1.7v3h-1.7zM1505.3,405.1h1.7v3h-1.7zM1514.8,405.1h1.7v3h-1.7zM1520.2,405.1h1.7v3h-1.7zM1505.6,407.8h1.7v3h-1.7zM1520.4,407.8h1.7v3h-1.7zM1505.8,410.5h1.7v3h-1.7zM1520.7,410.5h1.7v3h-1.7zM1506.1,413.2h1.7v3h-1.7zM1508.8,413.2h1.7v3h-1.7zM1520.9,413.2h1.7v3h-1.7zM1506.4,415.9h1.7v3h-1.7zM1521.2,415.9h1.7v3h-1.7zM1506.6,418.6h1.7v3h-1.7zM1520.1,418.6h1.7v3h-1.7zM1506.9,421.3h1.7v3h-1.7zM1520.4,421.3h1.7v3h-1.7zM1507.2,424h1.7v3h-1.7zM1520.7,424h1.7v3h-1.7zM1507.5,426.7h1.7v3h-1.7zM1521,426.7h1.7v3h-1.7zM1507.8,429.4h1.7v3h-1.7zM1521.3,429.4h1.7v3h-1.7zM1508.1,432.1h1.7v3h-1.7zM1521.6,432.1h1.7v3h-1.7zM1508.4,434.8h1.7v3h-1.7zM1521.9,434.8h1.7v3h-1.7zM1508.7,437.5h1.7v3h-1.7zM1522.2,437.5h1.7v3h-1.7zM1509,440.2h1.7v3h-1.7zM1509.3,442.9h1.7v3h-1.7zM1521.4,442.9h1.7v3h-1.7zM1509.6,445.6h1.7v3h-1.7zM1521.8,445.6h1.7v3h-1.7zM1509.9,448.3h1.7v3h-1.7zM1522.1,448.3h1.7v3h-1.7zM1510.3,451h1.7v3h-1.7zM1522.4,451h1.7v3h-1.7zM1510.6,453.7h1.7v3h-1.7zM1518.7,453.7h1.7v3h-1.7zM1522.7,453.7h1.7v3h-1.7zM1522.1,459.1h1.7v3h-1.7zM1522.4,461.8h1.7v3h-1.7zM1522.7,464.5h1.7v3h-1.7zM1523.1,467.2h1.7v3h-1.7zM1522.8,475.3h1.7v3h-1.7zM1523.1,478h1.7v3h-1.7zM1522.5,483.4h1.7v3h-1.7zM1516.1,486.1h1.7v3h-1.7zM1522.9,486.1h1.7v3h-1.7zM1522.7,494.2h1.7v3h-1.7zM1516.7,499.6h1.7v3h-1.7zM1517,502.3h1.7v3h-1.7zM1522.4,502.3h1.7v3h-1.7zM1517.4,505h1.7v3h-1.7zM1517.8,507.7h1.7v3h-1.7zM1518.2,510.4h1.7v3h-1.7zM1522.3,510.4h1.7v3h-1.7zM1518.6,513.1h1.7v3h-1.7zM1522.1,518.5h1.7v3h-1.7z"/>
<path fill="#7f0000" d="M1503.1,270.1h1.7v3h-1.7zM1503.2,272.8h1.7v3h-1.7zM1503.2,275.5h1.7v3h-1.7zM1503.3,278.2h1.7v3h-1.7zM1504.6,278.2h1.7v3h-1.7zM1503.3,280.9h1.7v3h-1.7zM1504.7,280.9h1.7v3h-1.7zM1503.4,283.6h1.7v3h-1.7zM1504.7,283.6h1.7v3h-1.7zM1502.1,286.3h1.7v3h-1.7zM1503.4,286.3h1.7v3h-1.7zM1504.8,286.3h1.7v3h-1.7zM1502.1,289h1.7v3h-1.7zM1503.5,289h1.7v3h-1.7zM1504.8,289h1.7v3h-1.7zM1506.2,289h1.7v3h-1.7zM1502.2,291.7h1.7v3h-1.7zM1503.5,291.7h1.7v3h-1.7zM1504.9,291.7h1.7v3h-1.7zM1506.2,291.7h1.7v3h-1.7zM1502.2,294.4h1.7v3h-1.7zM1503.6,294.4h1.7v3h-1.7zM1504.9,294.4h1.7v3h-1.7zM1502.3,297.1h1.7v3h-1.7zM1503.7,297.1h1.7v3h-1.7zM1505,297.1h1.7v3h-1.7zM1506.4,297.1h1.7v3h-1.7zM1507.7,297.1h1.7v3h-1.7zM1502.4,299.8h1.7v3h-1.7zM1503.7,299.8h1.7v3h-1.7zM1505.1,299.8h1.7v3h-1.7zM1506.4,299.8h1.7v3h-1.7zM1507.8,299.8h1.7v3h-1.7zM1502.4,302.5h1.7v3h-1.7zM1503.8,302.5h1.7v3h-1.7zM1505.1,302.5h1.7v3h-1.7zM1506.5,302.5h1.7v3h-1.7zM1507.8,302.5h1.7v3h-1.7zM1502.5,305.2h1.7v3h-1.7zM1503.8,305.2h1.7v3h-1.7zM1505.2,305.2h1.7v3h-1.7zM1506.5,305.2h1.7v3h-1.7zM1507.9,305.2h1.7v3h-1.7zM1502.6,307.9h1.7v3h-1.7zM1503.9,307.9h1.7v3h-1.7zM1505.3,307.9h1.7v3h-1.7zM1506.6,307.9h1.7v3h-1.7zM1508,307.9h1.7v3h-1.7zM1502.6,310.6h1.7v3h-1.7zM1504,310.6h1.7v3h-1.7zM1505.3,310.6h1.7v3h-1.7zM1506.7,310.6h1.7v3h-1.7zM1508,310.6h1.7v3h-1.7zM1509.4,310.6h1.7v3h-1.7zM1502.7,313.3h1.7v3h-1.7zM1504,313.3h1.7v3h-1.7zM1505.4,313.3h1.7v3h-1.7zM1506.7,313.3h1.7v3h-1.7zM1508.1,313.3h1.7v3h-1.7zM1509.4,313.3h1.7v3h-1.7zM1502.8,316h1.7v3h-1.7zM1504.1,316h1.7v3h-1.7zM1505.5,316h1.7v3h-1.7zM1506.8,316h1.7v3h-1.7zM1508.2,316h1.7v3h-1.7zM1502.8,318.7h1.7v3h-1.7zM1504.2,318.7h1.7v3h-1.7zM1505.5,318.7h1.7v3h-1.7zM1506.9,318.7h1.7v3h-1.7zM1508.2,318.7h1.7v3h-1.7zM1509.6,318.7h1.7v3h-1.7zM1502.9,321.4h1.7v3h-1.7zM1504.3,321.4h1.7v3h-1.7zM1505.6,321.4h1.7v3h-1.7zM1507,321.4h1.7v3h-1.7zM1508.3,321.4h1.7v3h-1.7zM1509.7,321.4h1.7v3h-1.7zM1511,321.4h1.7v3h-1.7zM1503,324.1h1.7v3h-1.7zM1504.3,324.1h1.7v3h-1.7zM1505.7,324.1h1.7v3h-1.7zM1507,324.1h1.7v3h-1.7zM1508.4,324.1h1.7v3h-1.7zM1509.7,324.1h1.7v3h-1.7zM1511.1,324.1h1.7v3h-1.7zM1503.1,326.8h1.7v3h-1.7zM1504.4,326.8h1.7v3h-1.7zM1507.1,326.8h1.7v3h-1.7zM1508.5,326.8h1.7v3h-1.7zM1509.8,326.8h1.7v3h-1.7zM1511.2,326.8h1.7v3h-1.7zM1503.2,329.5h1.7v3h-1.7zM1504.5,329.5h1.7v3h-1.7zM1505.9,329.5h1.7v3h-1.7zM1507.2,329.5h1.7v3h-1.7zM1508.6,329.5h1.7v3h-1.7zM1509.9,329.5h1.7v3h-1.7zM1511.3,329.5h1.7v3h-1.7zM1503.2,332.2h1.7v3h-1.7zM1504.6,332.2h1.7v3h-1.7zM1505.9,332.2h1.7v3h-1.7zM1507.3,332.2h1.7v3h-1.7zM1508.6,332.2h1.7v3h-1.7zM1510,332.2h1.7v3h-1.7zM1511.3,332.2h1.7v3h-1.7zM1503.3,334.9h1.7v3h-1.7zM1504.7,334.9h1.7v3h-1.7zM1506,334.9h1.7v3h-1.7zM1507.4,334.9h1.7v3h-1.7zM1508.7,334.9h1.7v3h-1.7zM1510.1,334.9h1.7v3h-1.7zM1511.4,334.9h1.7v3h-1.7zM1503.4,337.6h1.7v3h-1.7zM1504.8,337.6h1.7v3h-1.7zM1506.1,337.6h1.7v3h-1.7zM1508.8,337.6h1.7v3h-1.7zM1510.2,337.6h1.7v3h-1.7zM1511.5,337.6h1.7v3h-1.7zM1512.9,337.6h1.7v3h-1.7zM1503.5,340.3h1.7v3h-1.7zM1504.9,340.3h1.7v3h-1.7zM1507.6,340.3h1.7v3h-1.7zM1508.9,340.3h1.7v3h-1.7zM1510.3,340.3h1.7v3h-1.7zM1511.6,340.3h1.7v3h-1.7zM1513,340.3h1.7v3h-1.7zM1503.6,343h1.7v3h-1.7zM1504.9,343h1.7v3h-1.7zM1506.3,343h1.7v3h-1.7zM1507.6,343h1.7v3h-1.7zM1509,343h1.7v3h-1.7zM1510.3,343h1.7v3h-1.7zM1511.7,343h1.7v3h-1.7zM1513,343h1.7v3h-1.7zM1503.7,345.7h1.7v3h-1.7zM1505,345.7h1.7v3h-1.7zM1506.4,345.7h1.7v3h-1.7zM1507.7,345.7h1.7v3h-1.7zM1509.1,345.7h1.7v3h-1.7zM1510.4,345.7h1.7v3h-1.7zM1511.8,345.7h1.7v3h-1.7zM1513.1,345.7h1.7v3h-1.7zM1503.8,348.4h1.7v3h-1.7zM1505.1,348.4h1.7v3h-1.7zM1506.5,348.4h1.7v3h-1.7zM1507.8,348.4h1.7v3h-1.7zM1509.2,348.4h1.7v3h-1.7zM1510.5,348.4h1.7v3h-1.7zM1511.9,348.4h1.7v3h-1.7zM1513.2,348.4h1.7v3h-1.7zM1503.9,351.1h1.7v3h-1.7zM1505.2,351.1h1.7v3h-1.7zM1506.6,351.1h1.7v3h-1.7zM1507.9,351.1h1.7v3h-1.7zM1509.3,351.1h1.7v3h-1.7zM1510.6,351.1h1.7v3h-1.7zM1513.3,351.1h1.7v3h-1.7zM1504,353.8h1.7v3h-1.7zM1505.3,353.8h1.7v3h-1.7zM1506.7,353.8h1.7v3h-1.7zM1508,353.8h1.7v3h-1.7zM1509.4,353.8h1.7v3h-1.7zM1510.7,353.8h1.7v3h-1.7zM1512.1,353.8h1.7v3h-1.7zM1513.4,353.8h1.7v3h-1.7zM1514.8,353.8h1.7v3h-1.7zM1504.1,356.5h1.7v3h-1.7zM1505.5,356.5h1.7v3h-1.7zM1508.2,356.5h1.7v3h-1.7zM1509.5,356.5h1.7v3h-1.7zM1510.9,356.5h1.7v3h-1.7zM1512.2,356.5h1.7v3h-1.7zM1513.6,356.5h1.7v3h-1.7zM1514.9,356.5h1.7v3h-1.7zM1504.2,359.2h1.7v3h-1.7zM1505.6,359.2h1.7v3h-1.7zM1506.9,359.2h1.7v3h-1.7zM1508.3,359.2h1.7v3h-1.7zM1509.6,359.2h1.7v3h-1.7zM1511,359.2h1.7v3h-1.7zM1512.3,359.2h1.7v3h-1.7zM1513.7,359.2h1.7v3h-1.7zM1515,359.2h1.7v3h-1.7zM1504.3,361.9h1.7v3h-1.7zM1505.7,361.9h1.7v3h-1.7zM1508.4,361.9h1.7v3h-1.7zM1509.7,361.9h1.7v3h-1.7zM1511.1,361.9h1.7v3h-1.7zM1512.4,361.9h1.7v3h-1.7zM1513.8,361.9h1.7v3h-1.7zM1515.1,361.9h1.7v3h-1.7zM1504.4,364.6h1.7v3h-1.7zM1505.8,364.6h1.7v3h-1.7zM1507.1,364.6h1.7v3h-1.7zM1508.5,364.6h1.7v3h-1.7zM1509.8,364.6h1.7v3h-1.7zM1512.5,364.6h1.7v3h-1.7zM1513.9,364.6h1.7v3h-1.7zM1515.2,364.6h1.7v3h-1.7zM1504.5,367.3h1.7v3h-1.7zM1507.2,367.3h1.7v3h-1.7zM1508.6,367.3h1.7v3h-1.7zM1509.9,367.3h1.7v3h-1.7zM1511.3,367.3h1.7v3h-1.7zM1512.6,367.3h1.7v3h-1.7zM1514,367.3h1.7v3h-1.7zM1515.3,367.3h1.7v3h-1.7zM1504.7,370h1.7v3h-1.7zM1506,370h1.7v3h-1.7zM1507.4,370h1.7v3h-1.7zM1508.7,370h1.7v3h-1.7zM1510.1,370h1.7v3h-1.7zM1511.4,370h1.7v3h-1.7zM1512.8,370h1.7v3h-1.7zM1514.1,370h1.7v3h-1.7zM1515.5,370h1.7v3h-1.7zM1504.8,372.7h1.7v3h-1.7zM1506.1,372.7h1.7v3h-1.7zM1507.5,372.7h1.7v3h-1.7zM1508.8,372.7h1.7v3h-1.7zM1510.2,372.7h1.7v3h-1.7zM1511.5,372.7h1.7v3h-1.7zM1512.9,372.7h1.7v3h-1.7zM1514.2,372.7h1.7v3h-1.7zM1515.6,372.7h1.7v3h-1.7zM1504.9,375.4h1.7v3h-1.7zM1506.3,375.4h1.7v3h-1.7zM1507.6,375.4h1.7v3h-1.7zM1509,375.4h1.7v3h-1.7zM1510.3,375.4h1.7v3h-1.7zM1511.7,375.4h1.7v3h-1.7zM1513,375.4h1.7v3h-1.7zM1514.4,375.4h1.7v3h-1.7zM1515.7,375.4h1.7v3h-1.7zM1505,378.1h1.7v3h-1.7zM1506.4,378.1h1.7v3h-1.7zM1507.7,378.1h1.7v3h-1.7zM1509.1,378.1h1.7v3h-1.7zM1510.4,378.1h1.7v3h-1.7zM1511.8,378.1h1.7v3h-1.7zM1513.1,378.1h1.7v3h-1.7zM1514.5,378.1h1.7v3h-1.7zM1515.8,378.1h1.7v3h-1.7zM1505.2,380.8h1.7v3h-1.7zM1506.5,380.8h1.7v3h-1.7zM1510.6,380.8h1.7v3h-1.7zM1511.9,380.8h1.7v3h-1.7zM1513.3,380.8h1.7v3h-1.7zM1514.6,380.8h1.7v3h-1.7zM1516,380.8h1.7v3h-1.7zM1505.3,383.5h1.7v3h-1.7zM1506.7,383.5h1.7v3h-1.7zM1508,383.5h1.7v3h-1.7zM1509.4,383.5h1.7v3h-1.7zM1510.7,383.5h1.7v3h-1.7zM1512.1,383.5h1.7v3h-1.7zM1513.4,383.5h1.7v3h-1.7zM1514.8,383.5h1.7v3h-1.7zM1517.5,383.5h1.7v3h-1.7zM1505.5,386.2h1.7v3h-1.7zM1506.8,386.2h1.7v3h-1.7zM1508.2,386.2h1.7v3h-1.7zM1509.5,386.2h1.7v3h-1.7zM1510.9,386.2h1.7v3h-1.7zM1512.2,386.2h1.7v3h-1.7zM1513.6,386.2h1.7v3h-1.7zM1514.9,386.2h1.7v3h-1.7zM1516.3,386.2h1.7v3h-1.7zM1517.6,386.2h1.7v3h-1.7zM1505.6,388.9h1.7v3h-1.7zM1507,388.9h1.7v3h-1.7zM1509.7,388.9h1.7v3h-1.7zM1511,388.9h1.7v3h-1.7zM1512.4,388.9h1.7v3h-1.7zM1513.7,388.9h1.7v3h-1.7zM1515.1,388.9h1.7v3h-1.7zM1516.4,388.9h1.7v3h-1.7zM1517.8,388.9h1.7v3h-1.7zM1505.8,391.6h1.7v3h-1.7zM1507.1,391.6h1.7v3h-1.7zM1508.5,391.6h1.7v3h-1.7zM1509.8,391.6h1.7v3h-1.7zM1511.2,391.6h1.7v3h-1.7zM1512.5,391.6h1.7v3h-1.7zM1513.9,391.6h1.7v3h-1.7zM1515.2,391.6h1.7v3h-1.7zM1516.6,391.6h1.7v3h-1.7zM1517.9,391.6h1.7v3h-1.7zM1505.9,394.3h1.7v3h-1.7zM1507.3,394.3h1.7v3h-1.7zM1508.6,394.3h1.7v3h-1.7zM1510,394.3h1.7v3h-1.7zM1511.3,394.3h1.7v3h-1.7zM1512.7,394.3h1.7v3h-1.7zM1514,394.3h1.7v3h-1.7zM1515.4,394.3h1.7v3h-1.7zM1518.1,394.3h1.7v3h-1.7zM1506.1,397h1.7v3h-1.7zM1507.4,397h1.7v3h-1.7zM1508.8,397h1.7v3h-1.7zM1510.1,397h1.7v3h-1.7zM1511.5,397h1.7v3h-1.7zM1512.8,397h1.7v3h-1.7zM1514.2,397h1.7v3h-1.7zM1515.5,397h1.7v3h-1.7zM1516.9,397h1.7v3h-1.7zM1518.2,397h1.7v3h-1.7zM1506.3,399.7h1.7v3h-1.7zM1507.6,399.7h1.7v3h-1.7zM1509,399.7h1.7v3h-1.7zM1510.3,399.7h1.7v3h-1.7zM1511.7,399.7h1.7v3h-1.7zM1513,399.7h1.7v3h-1.7zM1514.4,399.7h1.7v3h-1.7zM1515.7,399.7h1.7v3h-1.7zM1517.1,399.7h1.7v3h-1.7zM1518.4,399.7h1.7v3h-1.7zM1506.5,402.4h1.7v3h-1.7zM1507.8,402.4h1.7v3h-1.7zM1509.2,402.4h1.7v3h-1.7zM1510.5,402.4h1.7v3h-1.7zM1511.9,402.4h1.7v3h-1.7zM1513.2,402.4h1.7v3h-1.7zM1514.6,402.4h1.7v3h-1.7zM1515.9,402.4h1.7v3h-1.7zM1517.3,402.4h1.7v3h-1.7zM1518.6,402.4h1.7v3h-1.7zM1506.7,405.1h1.7v3h-1.7zM1508,405.1h1.7v3h-1.7zM1509.4,405.1h1.7v3h-1.7zM1510.7,405.1h1.7v3h-1.7zM1512.1,405.1h1.7v3h-1.7zM1516.1,405.1h1.7v3h-1.7zM1517.5,405.1h1.7v3h-1.7zM1518.8,405.1h1.7v3h-1.7zM1506.9,407.8h1.7v3h-1.7zM1508.3,407.8h1.7v3h-1.7zM1509.6,407.8h1.7v3h-1.7zM1511,407.8h1.7v3h-1.7zM1512.3,407.8h1.7v3h-1.7zM1513.7,407.8h1.7v3h-1.7zM1515,407.8h1.7v3h-1.7zM1516.4,407.8h1.7v3h-1.7zM1517.7,407.8h1.7v3h-1.7zM1507.2,410.5h1.7v3h-1.7zM1508.5,410.5h1.7v3h-1.7zM1509.9,410.5h1.7v3h-1.7zM1511.2,410.5h1.7v3h-1.7zM1512.6,410.5h1.7v3h-1.7zM1513.9,410.5h1.7v3h-1.7zM1515.3,410.5h1.7v3h-1.7zM1516.6,410.5h1.7v3h-1.7zM1518,410.5h1.7v3h-1.7zM1507.4,413.2h1.7v3h-1.7zM1510.1,413.2h1.7v3h-1.7zM1511.5,413.2h1.7v3h-1.7zM1512.8,413.2h1.7v3h-1.7zM1514.2,413.2h1.7v3h-1.7zM1515.5,413.2h1.7v3h-1.7zM1516.9,413.2h1.7v3h-1.7zM1518.2,413.2h1.7v3h-1.7zM1519.6,413.2h1.7v3h-1.7zM1509.1,415.9h1.7v3h-1.7zM1510.4,415.9h1.7v3h-1.7zM1511.8,415.9h1.7v3h-1.7zM1513.1,415.9h1.7v3h-1.7zM1514.5,415.9h1.7v3h-1.7zM1515.8,415.9h1.7v3h-1.7zM1517.2,415.9h1.7v3h-1.7zM1518.5,415.9h1.7v3h-1.7zM1519.9,415.9h1.7v3h-1.7zM1508,418.6h1.7v3h-1.7zM1509.3,418.6h1.7v3h-1.7zM1510.7,418.6h1.7v3h-1.7zM1512,418.6h1.7v3h-1.7zM1513.4,418.6h1.7v3h-1.7zM1514.7,418.6h1.7v3h-1.7zM1516.1,418.6h1.7v3h-1.7zM1517.4,418.6h1.7v3h-1.7zM1518.8,418.6h1.7v3h-1.7zM1508.3,421.3h1.7v3h-1.7zM1509.6,421.3h1.7v3h-1.7zM1511,421.3h1.7v3h-1.7zM1512.3,421.3h1.7v3h-1.7zM1513.7,421.3h1.7v3h-1.7zM1515,421.3h1.7v3h-1.7zM1516.4,421.3h1.7v3h-1.7zM1519.1,421.3h1.7v3h-1.7zM1508.5,424h1.7v3h-1.7zM1509.9,424h1.7v3h-1.7zM1511.2,424h1.7v3h-1.7zM1512.6,424h1.7v3h-1.7zM1513.9,424h1.7v3h-1.7zM1515.3,424h1.7v3h-1.7zM1516.6,424h1.7v3h-1.7zM1518,424h1.7v3h-1.7zM1519.3,424h1.7v3h-1.7zM1508.8,426.7h1.7v3h-1.7zM1510.2,426.7h1.7v3h-1.7zM1511.5,426.7h1.7v3h-1.7zM1512.9,426.7h1.7v3h-1.7zM1514.2,426.7h1.7v3h-1.7zM1515.6,426.7h1.7v3h-1.7zM1516.9,426.7h1.7v3h-1.7zM1518.3,426.7h1.7v3h-1.7zM1519.6,426.7h1.7v3h-1.7zM1509.1,429.4h1.7v3h-1.7zM1510.5,429.4h1.7v3h-1.7zM1511.8,429.4h1.7v3h-1.7zM1513.2,429.4h1.7v3h-1.7zM1514.5,429.4h1.7v3h-1.7zM1515.9,429.4h1.7v3h-1.7zM1517.2,429.4h1.7v3h-1.7zM1518.6,429.4h1.7v3h-1.7zM1519.9,429.4h1.7v3h-1.7zM1509.4,432.1h1.7v3h-1.7zM1510.8,432.1h1.7v3h-1.7zM1512.1,432.1h1.7v3h-1.7zM1513.5,432.1h1.7v3h-1.7zM1514.8,432.1h1.7v3h-1.7zM1516.2,432.1h1.7v3h-1.7zM1517.5,432.1h1.7v3h-1.7zM1518.9,432.1h1.7v3h-1.7zM1520.2,432.1h1.7v3h-1.7zM1509.7,434.8h1.7v3h-1.7zM1511.1,434.8h1.7v3h-1.7zM1512.4,434.8h1.7v3h-1.7zM1513.8,434.8h1.7v3h-1.7zM1515.1,434.8h1.7v3h-1.7zM1516.5,434.8h1.7v3h-1.7zM1517.8,434.8h1.7v3h-1.7zM1519.2,434.8h1.7v3h-1.7zM1520.5,434.8h1.7v3h-1.7zM1510,437.5h1.7v3h-1.7zM1511.4,437.5h1.7v3h-1.7zM1512.7,437.5h1.7v3h-1.7zM1514.1,437.5h1.7v3h-1.7zM1515.4,437.5h1.7v3h-1.7zM1516.8,437.5h1.7v3h-1.7zM1518.1,437.5h1.7v3h-1.7zM1519.5,437.5h1.7v3h-1.7zM1520.8,437.5h1.7v3h-1.7zM1510.3,440.2h1.7v3h-1.7zM1511.7,440.2h1.7v3h-1.7zM1513,440.2h1.7v3h-1.7zM1514.4,440.2h1.7v3h-1.7zM1515.7,440.2h1.7v3h-1.7zM1517.1,440.2h1.7v3h-1.7zM1518.4,440.2h1.7v3h-1.7zM1519.8,440.2h1.7v3h-1.7zM1521.1,440.2h1.7v3h-1.7zM1510.6,442.9h1.7v3h-1.7zM1512,442.9h1.7v3h-1.7zM1514.7,442.9h1.7v3h-1.7zM1516,442.9h1.7v3h-1.7zM1517.4,442.9h1.7v3h-1.7zM1518.7,442.9h1.7v3h-1.7zM1520.1,442.9h1.7v3h-1.7zM1511,445.6h1.7v3h-1.7zM1512.3,445.6h1.7v3h-1.7zM1513.7,445.6h1.7v3h-1.7zM1515,445.6h1.7v3h-1.7zM1516.4,445.6h1.7v3h-1.7zM1519.1,445.6h1.7v3h-1.7zM1520.4,445.6h1.7v3h-1.7zM1511.3,448.3h1.7v3h-1.7zM1512.6,448.3h1.7v3h-1.7zM1514,448.3h1.7v3h-1.7zM1515.3,448.3h1.7v3h-1.7zM1516.7,448.3h1.7v3h-1.7zM1518,448.3h1.7v3h-1.7zM1519.4,448.3h1.7v3h-1.7zM1520.7,448.3h1.7v3h-1.7zM1511.6,451h1.7v3h-1.7zM1513,451h1.7v3h-1.7zM1514.3,451h1.7v3h-1.7zM1515.7,451h1.7v3h-1.7zM1517,451h1.7v3h-1.7zM1518.4,451h1.7v3h-1.7zM1519.7,451h1.7v3h-1.7zM1521.1,451h1.7v3h-1.7zM1511.9,453.7h1.7v3h-1.7zM1513.3,453.7h1.7v3h-1.7zM1514.6,453.7h1.7v3h-1.7zM1516,453.7h1.7v3h-1.7zM1517.3,453.7h1.7v3h-1.7zM1520,453.7h1.7v3h-1.7zM1521.4,453.7h1.7v3h-1.7zM1510.9,456.4h1.7v3h-1.7zM1512.3,456.4h1.7v3h-1.7zM1513.6,456.4h1.7v3h-1.7zM1515,456.4h1.7v3h-1.7zM1516.3,456.4h1.7v3h-1.7zM1517.7,456.4h1.7v3h-1.7zM1519,456.4h1.7v3h-1.7zM1520.4,456.4h1.7v3h-1.7zM1521.7,456.4h1.7v3h-1.7zM1511.3,459.1h1.7v3h-1.7zM1512.6,459.1h1.7v3h-1.7zM1514,459.1h1.7v3h-1.7zM1515.3,459.1h1.7v3h-1.7zM1516.7,459.1h1.7v3h-1.7zM1518,459.1h1.7v3h-1.7zM1519.4,459.1h1.7v3h-1.7zM1520.7,459.1h1.7v3h-1.7zM1511.6,461.8h1.7v3h-1.7zM1512.9,461.8h1.7v3h-1.7zM1514.3,461.8h1.7v3h-1.7zM1515.6,461.8h1.7v3h-1.7zM1517,461.8h1.7v3h-1.7zM1518.3,461.8h1.7v3h-1.7zM1519.7,461.8h1.7v3h-1.7zM1521,461.8h1.7v3h-1.7zM1511.9,464.5h1.7v3h-1.7zM1513.3,464.5h1.7v3h-1.7zM1514.6,464.5h1.7v3h-1.7zM1516,464.5h1.7v3h-1.7zM1517.3,464.5h1.7v3h-1.7zM1518.7,464.5h1.7v3h-1.7zM1520,464.5h1.7v3h-1.7zM1521.4,464.5h1.7v3h-1.7zM1512.3,467.2h1.7v3h-1.7zM1513.6,467.2h1.7v3h-1.7zM1515,467.2h1.7v3h-1.7zM1516.3,467.2h1.7v3h-1.7zM1517.7,467.2h1.7v3h-1.7zM1519,467.2h1.7v3h-1.7zM1520.4,467.2h1.7v3h-1.7zM1521.7,467.2h1.7v3h-1.7zM1512.6,469.9h1.7v3h-1.7zM1514,469.9h1.7v3h-1.7zM1515.3,469.9h1.7v3h-1.7zM1516.7,469.9h1.7v3h-1.7zM1518,469.9h1.7v3h-1.7zM1519.4,469.9h1.7v3h-1.7zM1520.7,469.9h1.7v3h-1.7zM1522.1,469.9h1.7v3h-1.7zM1513,472.6h1.7v3h-1.7zM1514.3,472.6h1.7v3h-1.7zM1515.7,472.6h1.7v3h-1.7zM1517,472.6h1.7v3h-1.7zM1518.4,472.6h1.7v3h-1.7zM1519.7,472.6h1.7v3h-1.7zM1521.1,472.6h1.7v3h-1.7zM1513.3,475.3h1.7v3h-1.7zM1514.7,475.3h1.7v3h-1.7zM1516,475.3h1.7v3h-1.7zM1517.4,475.3h1.7v3h-1.7zM1518.7,475.3h1.7v3h-1.7zM1520.1,475.3h1.7v3h-1.7zM1521.4,475.3h1.7v3h-1.7zM1513.7,478h1.7v3h-1.7zM1515,478h1.7v3h-1.7zM1516.4,478h1.7v3h-1.7zM1517.7,478h1.7v3h-1.7zM1519.1,478h1.7v3h-1.7zM1520.4,478h1.7v3h-1.7zM1514.1,480.7h1.7v3h-1.7zM1515.4,480.7h1.7v3h-1.7zM1516.8,480.7h1.7v3h-1.7zM1518.1,480.7h1.7v3h-1.7zM1519.5,480.7h1.7v3h-1.7zM1520.8,480.7h1.7v3h-1.7zM1522.2,480.7h1.7v3h-1.7zM1515.8,483.4h1.7v3h-1.7zM1517.1,483.4h1.7v3h-1.7zM1518.5,483.4h1.7v3h-1.7zM1519.8,483.4h1.7v3h-1.7zM1521.2,483.4h1.7v3h-1.7zM1514.8,486.1h1.7v3h-1.7zM1517.5,486.1h1.7v3h-1.7zM1518.8,486.1h1.7v3h-1.7zM1520.2,486.1h1.7v3h-1.7zM1521.5,486.1h1.7v3h-1.7zM1515.2,488.8h1.7v3h-1.7zM1516.5,488.8h1.7v3h-1.7zM1517.9,488.8h1.7v3h-1.7zM1519.2,488.8h1.7v3h-1.7zM1520.6,488.8h1.7v3h-1.7zM1521.9,488.8h1.7v3h-1.7zM1515.5,491.5h1.7v3h-1.7zM1516.9,491.5h1.7v3h-1.7zM1518.2,491.5h1.7v3h-1.7zM1519.6,491.5h1.7v3h-1.7zM1520.9,491.5h1.7v3h-1.7zM1522.3,491.5h1.7v3h-1.7zM1515.9,494.2h1.7v3h-1.7zM1517.3,494.2h1.7v3h-1.7zM1518.6,494.2h1.7v3h-1.7zM1520,494.2h1.7v3h-1.7zM1521.3,494.2h1.7v3h-1.7zM1516.3,496.9h1.7v3h-1.7zM1517.6,496.9h1.7v3h-1.7zM1519,496.9h1.7v3h-1.7zM1520.3,496.9h1.7v3h-1.7zM1521.7,496.9h1.7v3h-1.7zM1518,499.6h1.7v3h-1.7zM1519.4,499.6h1.7v3h-1.7zM1520.7,499.6h1.7v3h-1.7zM1522.1,499.6h1.7v3h-1.7zM1518.4,502.3h1.7v3h-1.7zM1519.7,502.3h1.7v3h-1.7zM1518.8,505h1.7v3h-1.7zM1520.1,505h1.7v3h-1.7zM1519.2,507.7h1.7v3h-1.7zM1520.5,507.7h1.7v3h-1.7zM1521.9,507.7h1.7v3h-1.7zM1519.6,510.4h1.7v3h-1.7zM1520.9,510.4h1.7v3h-1.7zM1519.9,513.1h1.7v3h-1.7zM1521.3,513.1h1.7v3h-1.7zM1520.3,515.8h1.7v3h-1.7zM1521.7,515.8h1.7v3h-1.7zM1520.7,518.5h1.7v3h-1.7zM1521.1,521.2h1.7v3h-1.7z"/>
</g>
<rect x="1106.9" y="13.3" width="810.2" height="809.1" fill="none" stroke="#262626" stroke-width="2.3"/>
<path d="M1174.4,13.3v9.5M1174.4,822.4v-9.5M1512,13.3v9.5M1512,822.4v-9.5M1849.6,13.3v9.5M1849.6,822.4v-9.5M1106.9,755h9.5M1917.1,755h-9.5M1106.9,586.4h9.5M1917.1,586.4h-9.5M1106.9,417.9h9.5M1917.1,417.9h-9.5M1106.9,249.3h9.5M1917.1,249.3h-9.5M1106.9,80.7h9.5M1917.1,80.7h-9.5" stroke="#262626" stroke-width="2" fill="none"/>
<g stroke="#14f014" stroke-width="6.4" opacity="0.86"><path d="M1106.9,417.9H1917.1"/><path d="M1512,12.3V823.4"/></g>
<text class="pl" x="1157.9" y="118.3">B</text>
</g>
<g id="panelC">
<g clip-path="url(#clipC)">
<path fill="#4d004b" fill-rule="evenodd" d="M643.8,904.3 653.3,904.3 653.3,912 662.7,919.6 653.3,927.3 643.8,927.3 653.3,919.6 653.3,912ZM691.1,904.3 700.5,904.3 691.1,912 681.6,912ZM577.7,919.6 587.1,927.3 577.7,927.3ZM719.4,919.6 728.9,927.3 719.4,927.3 710,927.3ZM606.1,950.2 615.5,957.9 624.9,950.2 624.9,942.6 634.4,950.2 643.8,942.6 653.3,950.2 662.7,942.6 662.7,934.9 672.2,942.6 672.2,950.2 681.6,957.9 691.1,950.2 700.5,957.9 710,950.2 719.4,942.6 728.9,950.2 738.3,950.2 747.8,942.6 757.2,950.2 747.8,950.3 738.3,950.3 728.9,950.3 719.4,950.3 710,957.9 719.4,965.5 728.9,965.5 738.3,973.2 747.8,965.5 757.2,973.2 747.8,980.8 738.3,973.2 728.9,973.2 719.4,965.6 710,965.6 700.6,973.2 710,980.8 719.4,980.8 728.9,988.5 738.3,988.5 728.9,996.1 719.5,1003.8 710,1011.4 700.6,1019.1 691.1,1026.7 700.5,1034.4 710,1026.7 719.4,1019.1 728.9,1011.4 738.3,1003.8 747.8,1003.8 757.2,1003.8 757.3,1011.4 747.8,1011.5 738.3,1011.5 728.9,1019.1 738.3,1026.7 747.8,1034.4 757.2,1042 766.7,1034.4 757.2,1026.8 766.7,1019.1 776.1,1019.1 766.7,1026.7 776.1,1034.4 766.7,1042 766.7,1049.7 776.1,1057.3 785.6,1057.3 795,1057.3 785.6,1065 785.6,1072.6 785.6,1080.3 795,1087.9 804.5,1087.9 813.9,1080.3 823.4,1087.9 813.9,1088 804.5,1095.6 795.1,1103.2 804.5,1110.9 813.9,1118.5 823.4,1110.9 813.9,1103.3 823.4,1103.2 823.4,1110.9 832.8,1118.5 842.3,1126.2 832.9,1133.8 832.8,1126.2 823.4,1118.6 814,1126.2 814,1133.8 814,1141.5 804.5,1149.1 795,1149.2 785.6,1141.5 776.2,1149.1 785.6,1156.8 795,1164.4 804.5,1164.4 813.9,1156.8 823.4,1149.1 832.8,1156.8 842.3,1149.1 851.7,1141.5 861.2,1149.1 861.2,1156.8 851.7,1149.2 842.3,1156.8 842.3,1164.4 832.8,1156.8 823.4,1164.4 832.8,1172.1 842.3,1179.7 851.7,1179.7 861.2,1172.1 861.2,1179.7 851.8,1187.4 842.3,1187.4 832.9,1195 823.4,1187.4 813.9,1187.4 804.5,1195 813.9,1202.7 823.4,1202.7 823.4,1210.3 832.8,1218 842.3,1210.3 842.3,1202.7 851.7,1202.7 861.2,1195 870.6,1195 870.7,1202.7 861.2,1202.7 851.8,1210.3 861.2,1218 851.8,1225.6 851.8,1233.3 861.2,1240.9 870.6,1240.9 880.1,1240.9 870.7,1248.6 880.1,1256.2 870.7,1263.9 861.2,1263.9 870.6,1256.2 861.2,1248.6 851.8,1256.2 842.3,1263.9 851.7,1271.5 861.2,1279.2 870.6,1286.8 870.7,1294.5 880.1,1302.1 870.7,1309.8 861.2,1309.8 870.6,1302.1 870.6,1294.5 861.2,1286.9 851.7,1279.2 842.3,1286.8 842.3,1294.5 851.7,1302.1 842.3,1309.8 851.7,1317.4 842.3,1317.5 832.9,1325.1 842.3,1332.7 851.7,1332.7 861.2,1325.1 861.2,1332.7 851.8,1340.4 851.8,1348 861.2,1355.7 870.6,1355.7 880.1,1348 880.1,1355.7 870.6,1355.7 861.2,1355.7 851.8,1363.3 842.3,1363.4 832.9,1371 842.3,1378.6 851.7,1378.6 861.2,1371 861.2,1378.6 851.7,1378.7 842.3,1386.3 842.3,1393.9 832.8,1386.3 823.4,1393.9 832.8,1401.6 832.9,1409.2 823.4,1409.3 813.9,1409.3 804.5,1409.3 795,1401.6 785.6,1409.2 795,1416.9 785.6,1424.5 795,1432.2 785.6,1432.2 776.1,1424.6 766.7,1432.2 776.1,1439.8 785.6,1447.5 776.2,1455.1 785.6,1462.8 795,1455.1 804.5,1447.5 804.5,1455.1 804.5,1462.8 795,1462.8 785.6,1462.8 776.2,1470.4 766.7,1462.8 757.2,1455.2 747.8,1447.5 738.4,1455.1 747.8,1462.8 747.8,1470.4 738.4,1478.1 738.4,1485.7 738.4,1493.4 728.9,1501 719.4,1493.4 710,1485.8 700.6,1493.4 691.1,1493.4 681.7,1501 672.2,1508.7 662.8,1516.3 672.2,1524 681.6,1516.3 691.1,1508.7 700.5,1508.7 691.1,1516.3 691.1,1524 681.7,1531.6 672.2,1524 662.8,1531.6 653.3,1531.7 643.9,1539.3 643.9,1546.9 634.4,1547 643.8,1539.3 634.4,1531.7 625,1539.3 624.9,1531.6 634.4,1524 624.9,1516.4 615.5,1508.7 606,1508.7 606,1501 606,1493.4 615.5,1493.4 624.9,1493.4 634.4,1485.7 643.8,1478.1 634.4,1470.5 625,1478.1 615.5,1478.1 606,1478.1 596.6,1485.7 587.2,1493.4 587.1,1485.7 596.6,1478.1 596.6,1470.4 596.6,1462.8 587.1,1455.2 577.7,1455.2 568.3,1462.8 568.3,1470.4 577.7,1478.1 568.3,1485.7 558.8,1478.1 549.3,1470.5 539.9,1470.5 549.3,1462.8 558.8,1455.1 549.3,1447.5 539.9,1447.5 530.5,1455.1 530.4,1447.5 530.4,1439.8 521,1432.2 521,1424.5 511.5,1416.9 502.1,1416.9 492.7,1424.5 483.2,1416.9 492.6,1416.9 502.1,1409.2 502.1,1401.6 511.5,1393.9 521,1386.3 521,1378.6 511.5,1371 511.5,1363.3 502.1,1355.7 492.7,1363.3 492.7,1371 483.2,1378.6 483.2,1371 492.6,1363.3 483.2,1355.7 473.7,1355.7 464.3,1355.7 454.8,1355.7 445.4,1348.1 435.9,1348.1 426.5,1340.4 417.1,1348 407.6,1340.4 417,1340.4 426.5,1340.4 435.9,1340.4 445.4,1348 454.8,1348 464.3,1348 473.7,1340.4 464.3,1332.8 473.7,1332.7 483.2,1325.1 473.7,1317.5 464.3,1317.5 454.9,1325.1 454.8,1317.4 464.3,1317.4 473.7,1309.8 473.7,1302.1 473.7,1294.5 464.3,1286.9 473.7,1279.2 464.3,1271.6 454.9,1279.2 445.4,1286.8 454.8,1294.5 445.4,1302.1 445.4,1294.5 435.9,1286.9 445.4,1279.2 454.8,1271.5 464.3,1263.9 464.3,1256.2 473.7,1248.6 473.7,1240.9 464.3,1233.3 454.9,1240.9 454.9,1248.6 445.4,1256.2 445.4,1263.9 435.9,1263.9 435.9,1256.2 435.9,1248.6 426.5,1241 426.5,1233.3 435.9,1240.9 445.4,1233.3 454.8,1225.6 445.4,1218 454.8,1210.3 464.3,1210.3 464.3,1218 464.3,1225.6 473.7,1233.3 483.2,1225.6 492.6,1233.3 502.1,1225.6 511.5,1218 502.1,1210.4 492.7,1218 483.2,1210.4 483.2,1202.7 492.6,1202.7 502.1,1195 511.5,1187.4 502.1,1179.8 492.7,1187.4 483.2,1187.4 473.8,1195 473.7,1187.4 483.2,1179.7 492.6,1172.1 492.6,1164.4 483.2,1156.8 473.7,1156.8 464.3,1156.8 454.9,1164.4 445.4,1172.1 445.4,1179.7 445.4,1187.4 445.4,1195 435.9,1195.1 445.4,1187.4 445.4,1179.7 445.4,1172.1 445.4,1164.4 445.4,1156.8 454.8,1149.1 454.8,1141.5 464.3,1141.5 454.9,1149.1 464.3,1156.8 473.7,1149.1 483.2,1141.5 473.7,1133.9 483.2,1133.8 492.6,1126.2 502.1,1118.5 511.5,1126.2 521,1126.2 530.4,1118.5 539.9,1110.9 530.4,1103.3 521,1110.9 511.5,1110.9 511.5,1103.2 521,1095.6 511.5,1088 502.1,1088 492.6,1088 492.6,1080.3 502.1,1087.9 511.5,1087.9 521,1087.9 530.4,1080.3 521,1072.7 511.5,1072.7 511.5,1065 521,1065 530.4,1057.3 521,1049.7 511.5,1049.7 502.1,1049.7 511.5,1042 521,1049.7 530.4,1042 539.9,1034.4 530.4,1026.8 539.9,1019.1 539.9,1026.7 539.9,1034.4 539.9,1042 530.5,1049.7 530.5,1057.3 530.5,1065 539.9,1072.6 549.3,1072.6 558.8,1065 549.3,1057.4 549.3,1049.7 558.8,1042 558.8,1034.4 568.2,1042 577.7,1034.4 587.1,1034.4 596.6,1026.7 606,1019.1 615.5,1019.1 624.9,1019.1 634.4,1011.4 624.9,1003.8 615.5,1003.8 624.9,996.1 634.4,988.5 624.9,980.9 615.5,988.5 606.1,996.1 606,988.5 615.5,980.8 606,973.2 596.6,980.8 587.1,973.2 577.7,973.2 568.3,980.8 568.2,973.2 577.7,965.5 587.1,973.2 596.6,965.5 606,973.2 615.5,965.5 606,957.9ZM624.9,957.9 615.5,965.5 615.5,973.2 624.9,980.8 634.4,973.2 634.4,965.5ZM643.8,950.3 634.4,957.9 634.4,965.5 634.4,973.2 643.8,980.8 634.4,988.5 634.4,996.1 643.8,1003.8 653.3,1003.8 662.7,1003.8 672.2,996.1 662.7,988.5 653.3,988.5 662.7,980.8 653.3,973.2 653.3,965.5 653.3,957.9ZM672.2,973.2 662.8,980.8 672.2,988.5 681.6,996.1 691.1,988.5 691.1,996.1 700.5,1003.8 710,996.1 710,988.5 700.5,980.9 691.1,973.2 681.7,980.8ZM681.6,957.9 672.2,965.5 681.6,973.2 691.1,973.2 700.5,965.5 691.1,957.9ZM710,1416.9 700.6,1424.5 710,1432.2 719.4,1424.5ZM719.4,1057.4 710,1065 719.4,1072.6 728.9,1065ZM738.3,1156.8 728.9,1164.4 738.3,1172.1 747.8,1164.4ZM747.8,1072.7 738.4,1080.3 747.8,1087.9 757.2,1080.3ZM757.2,1386.3 747.8,1393.9 757.2,1401.6 766.7,1393.9ZM776.1,1080.3 766.7,1087.9 757.3,1095.6 766.7,1103.2 776.1,1095.6 785.6,1087.9ZM785.6,1110.9 776.2,1118.5 785.6,1126.2 795,1118.5ZM804.5,1118.6 795.1,1126.2 804.5,1133.8 813.9,1126.2ZM785.6,1172.1 776.2,1179.7 785.6,1187.4 795,1179.7ZM795,1233.3 785.6,1240.9 795,1248.6 804.5,1240.9ZM804.5,1286.9 795.1,1294.5 804.5,1302.1 813.9,1294.5ZM823.4,1172.1 814,1179.7 823.4,1187.4 832.8,1179.7ZM813.9,1202.7 804.5,1210.3 813.9,1218 823.4,1210.3ZM823.4,1256.3 814,1263.9 823.4,1271.5 832.8,1263.9ZM832.8,1241 823.4,1248.6 832.8,1256.2 842.3,1248.6ZM842.3,1348.1 832.9,1355.7 842.3,1363.3 851.7,1355.7ZM615.5,1493.4 606.1,1501 615.5,1508.7 624.9,1501ZM511.5,1401.6 502.1,1409.2 511.5,1416.9 521,1409.2ZM483.2,1233.3 473.8,1240.9 483.2,1248.6 492.6,1256.2 502.1,1248.6 492.6,1241ZM502.1,1126.2 492.7,1133.8 483.2,1141.5 492.6,1149.1 502.1,1141.5 511.5,1133.8ZM511.5,1164.5 502.1,1172.1 511.5,1179.7 521,1172.1ZM521,1126.2 511.6,1133.8 521,1141.5 530.4,1133.8ZM530.4,1141.5 521,1149.1 530.4,1156.8 539.9,1149.1ZM530.4,1088 521,1095.6 530.4,1103.2 539.9,1095.6ZM539.9,1233.3 530.5,1240.9 539.9,1248.6 549.3,1240.9ZM558.8,1080.3 549.4,1087.9 549.4,1095.6 539.9,1103.2 549.3,1110.9 558.8,1103.2 568.2,1095.6 568.2,1087.9ZM568.2,1042.1 558.8,1049.7 568.2,1057.3 568.3,1065 568.3,1072.6 577.7,1080.3 587.1,1072.6 587.1,1065 587.1,1057.3 577.7,1049.7ZM587.1,1340.4 577.7,1348 587.1,1355.7 596.6,1348ZM596.6,1103.3 587.2,1110.9 596.6,1118.5 606,1110.9ZM606,1042.1 596.6,1049.7 606,1057.3 615.5,1049.7ZM615.5,1455.2 606.1,1462.8 615.5,1470.4 624.9,1462.8ZM643.8,1034.4 634.4,1042 643.8,1049.7 653.3,1042ZM662.7,1149.2 653.3,1156.8 662.7,1164.4 672.2,1164.4 681.6,1156.8 672.2,1149.2ZM672.2,1042.1 662.8,1049.7 672.2,1057.3 681.6,1049.7ZM681.6,1072.7 672.2,1080.3 681.6,1087.9 691.1,1095.6 700.5,1087.9 691.1,1080.3ZM719.4,1371 710,1378.6 719.4,1386.3 728.9,1378.6ZM747.8,1095.6 738.4,1103.2 747.8,1110.9 757.2,1103.2ZM766.7,1110.9 757.3,1118.5 757.3,1126.2 766.7,1133.8 776.1,1126.2 776.1,1118.5ZM785.6,1294.5 776.2,1302.1 785.6,1309.8 795,1317.4 804.5,1309.8 795,1302.2ZM795,1248.6 785.6,1256.2 795,1263.9 804.5,1256.2ZM813.9,1233.3 804.5,1240.9 813.9,1248.6 823.4,1240.9ZM823.4,1363.4 814,1371 823.4,1378.6 832.8,1371ZM832.8,1271.6 823.4,1279.2 832.8,1286.8 842.3,1279.2ZM492.6,1317.5 483.2,1325.1 492.6,1332.7 502.1,1325.1ZM521,1187.4 511.6,1195 511.6,1202.7 521,1210.3 530.4,1202.7 530.4,1195ZM530.4,1340.4 521,1348 530.4,1355.7 539.9,1348ZM539.9,1371 530.5,1378.6 539.9,1386.3 549.3,1378.6ZM549.3,1118.6 539.9,1126.2 549.3,1133.8 558.8,1126.2ZM558.8,1149.2 549.4,1156.8 558.8,1164.4 568.2,1156.8ZM568.2,1195.1 558.8,1202.7 568.2,1210.3 577.7,1202.7ZM577.7,1088 568.3,1095.6 577.7,1103.2 587.1,1095.6ZM606,1072.7 596.6,1080.3 606,1087.9 615.5,1080.3ZM662.7,1478.1 653.3,1485.7 643.8,1485.8 634.4,1493.4 643.8,1501 653.3,1501 662.7,1501 672.2,1493.4 672.2,1485.7ZM681.6,1095.6 672.2,1103.2 681.6,1110.9 691.1,1103.2ZM719.4,1470.5 710,1478.1 719.4,1485.7 728.9,1485.7 738.3,1478.1 728.9,1470.5ZM747.8,1218 738.4,1225.6 747.8,1233.3 757.2,1225.6ZM766.7,1202.7 757.3,1210.3 766.7,1218 776.1,1210.3ZM795,1332.8 785.6,1340.4 795,1348 804.5,1340.4ZM813.9,1378.7 804.5,1386.3 795.1,1393.9 804.5,1401.6 813.9,1393.9 823.4,1386.3ZM492.6,1340.4 483.2,1348 492.6,1355.7 502.1,1348ZM521,1263.9 511.6,1271.5 521,1279.2 530.4,1271.5ZM530.4,1409.3 521,1416.9 530.4,1424.5 539.9,1432.2 549.3,1424.5 558.8,1416.9 549.3,1409.3 539.9,1409.3ZM549.3,1386.3 539.9,1393.9 539.9,1401.6 549.3,1409.2 558.8,1401.6 558.8,1393.9ZM558.8,1371 549.4,1378.6 558.8,1386.3 568.2,1378.6ZM577.7,1424.6 568.3,1432.2 577.7,1439.8 587.1,1432.2ZM653.3,1501.1 643.9,1508.7 634.4,1516.3 643.8,1524 653.3,1516.3 662.7,1508.7ZM681.6,1416.9 672.2,1424.5 681.6,1432.2 691.1,1424.5ZM766.7,1233.3 757.3,1240.9 766.7,1248.6 776.1,1240.9ZM681.6,1462.8 672.2,1470.4 681.6,1478.1 691.1,1470.4ZM530.4,965.5 539.9,965.5 539.9,973.2 530.4,973.2ZM464.3,980.8 473.7,980.8 464.3,988.5ZM549.3,980.8 558.8,988.5 558.8,996.1 549.3,988.5 539.9,988.5ZM568.2,1003.8 577.7,1003.8 587.1,1003.8 596.6,1003.8 596.6,1011.4 587.1,1003.8 577.7,1011.4 587.1,1019.1 577.7,1019.1 568.2,1019.1 577.7,1011.4ZM813.9,1011.4 823.4,1019.1 823.4,1026.7 813.9,1019.1 804.5,1019.1ZM851.7,1026.7 851.8,1034.4 842.3,1034.4ZM473.7,1072.6 473.8,1080.3 473.8,1087.9 464.3,1080.3ZM851.7,1118.5 861.2,1118.5 870.6,1118.5 861.2,1126.2ZM889.5,1179.7 899,1187.4 889.5,1187.4 880.1,1187.4ZM880.1,1218 880.1,1225.6 870.6,1225.7ZM899,1286.8 908.4,1294.5 908.5,1302.1 908.5,1309.8 917.9,1317.4 908.4,1317.5 899,1317.5 908.4,1309.8 908.4,1302.1 899,1294.5 889.5,1294.5ZM473.7,1401.6 483.2,1401.6 473.8,1409.2ZM813.9,1424.5 823.4,1424.5 814,1432.2ZM889.5,1455.1 889.6,1462.8 880.1,1462.8ZM804.5,1478.1 804.5,1485.7 795,1485.8ZM558.8,1501 568.2,1508.7 577.7,1501 577.7,1508.7 568.2,1508.7 558.8,1508.7 549.3,1508.7ZM596.6,1524 606,1531.6 596.6,1531.7ZM606,1546.9 606.1,1554.6 596.6,1554.6Z"/>
<path fill="#225ea8" fill-rule="evenodd" d="M642.1,1011.4 643.8,1010.4 646.3,1011.4 643.8,1012.8ZM622.6,1019.1 624.9,1019.1 629.5,1019.1 624.9,1023.5ZM639.5,1026.7 643.8,1023.7 653.3,1023.9 658.9,1026.7 660.1,1034.4 661.9,1042 662.7,1043.1 662.8,1049.7 672.2,1057.3 681.6,1049.7 681.6,1045.1 688.1,1049.7 691.1,1055.7 700.5,1053.8 707.6,1049.7 710,1045.6 711.9,1049.7 719.4,1054.1 724.7,1057.3 719.4,1057.4 710,1063.6 706.9,1065 710,1067.7 719.4,1072.6 723.8,1072.6 728.9,1076.7 737.4,1080.3 738.3,1081.2 741.5,1087.9 738.3,1093.4 735.5,1095.6 738.3,1098.7 738.4,1103.2 747.8,1110.9 757.2,1106.1 766.7,1108.6 772.1,1110.9 766.7,1110.9 757.2,1117.3 757,1118.5 757.2,1119 757.3,1126.2 757.2,1129.4 754,1133.8 757.2,1137.2 766.7,1136.5 771.6,1141.5 776.1,1144.7 776.2,1149.1 776.1,1156.6 768.2,1149.1 766.7,1147.6 765.4,1149.1 763.8,1156.8 765.9,1164.4 766.7,1165.3 768,1164.4 776.1,1157.1 783.7,1164.4 785.6,1170 791.4,1164.4 795,1164.4 798.3,1164.4 796.1,1172.1 795,1173.1 785.6,1172.1 783.8,1172.1 776.1,1169.8 773.7,1172.1 776.1,1178.2 776.2,1179.7 785.6,1187.4 789.8,1187.4 788.6,1195 789.3,1202.7 785.6,1206.7 781.4,1210.3 785.6,1213.2 792,1210.3 795,1208.6 798.1,1210.3 804.5,1216.8 807,1218 804.5,1219.6 798.6,1225.6 804.5,1231.9 813.9,1232.8 815.4,1233.3 813.9,1233.3 804.5,1240.9 811.2,1248.6 808.9,1256.2 809.8,1263.9 804.5,1270.1 803.5,1271.5 804.5,1272.6 813.9,1274.6 819,1279.2 821.2,1286.8 813.9,1289 804.5,1286.9 795.1,1294.5 802.4,1302.1 795,1302.2 785.6,1294.5 776.2,1302.1 785.6,1309.8 791.6,1317.4 795,1319.9 799.9,1325.1 796.6,1332.7 795,1332.8 785.6,1338.8 783.7,1340.4 785.6,1342.8 789.6,1348 785.6,1354.2 782.9,1355.7 785.6,1357.1 790.9,1363.3 788.6,1371 788.8,1378.6 785.6,1379.8 782.1,1378.6 776.1,1377 772.5,1378.6 774,1386.3 776.1,1392.8 776.5,1393.9 776.1,1396.9 769.7,1401.6 771.8,1409.2 766.7,1413.4 757.2,1411.5 748.9,1416.9 751,1424.5 747.8,1430.2 745.7,1432.2 740.5,1439.8 743.1,1447.5 738.3,1453 728.9,1451.1 727.1,1455.1 719.4,1460.6 717.6,1462.8 710,1465.2 705.3,1462.8 700.5,1458.4 695.8,1455.1 691.1,1450.7 688.3,1455.1 691.1,1459.4 694.6,1462.8 691.1,1464.7 681.6,1462.8 672.2,1470.4 681.6,1478.1 691.1,1473.7 699.4,1470.4 700.5,1469 701.4,1470.4 707.3,1478.1 702.8,1485.7 700.5,1486.6 691.1,1486.7 689.2,1485.7 681.6,1483.2 673.3,1485.7 672.2,1486.6 672.2,1485.7 662.7,1478.1 656.6,1478.1 653.3,1474.8 647.6,1478.1 647.4,1485.7 643.8,1485.8 634.6,1485.7 643.8,1478.1 636,1470.4 634.4,1469.5 632.5,1470.4 625,1478.1 620.6,1478.1 615.5,1471.1 613.5,1470.4 615.5,1470.4 624.9,1462.8 615.5,1455.2 606,1461.5 601,1462.8 596.6,1465.5 596.6,1462.8 587.1,1455.2 585.6,1455.1 587.1,1452.7 590.1,1447.5 587.1,1445 579.9,1447.5 577.7,1448.4 576.8,1447.5 577.7,1445.6 580.7,1439.8 587.1,1432.2 577.7,1424.6 568.3,1432.2 568.2,1436.2 561.6,1432.2 563,1424.5 568.2,1418 576.1,1416.9 568.2,1416.2 558.8,1413.7 549.3,1409.3 558.8,1401.6 558.8,1393.9 549.3,1386.3 546,1386.3 549.3,1378.6 539.9,1371 538,1371 530.4,1366.7 525.8,1363.3 530.4,1356.9 532,1355.7 539.9,1348 530.9,1340.4 530.4,1340 524.3,1332.7 521,1329.8 515.7,1325.1 514.6,1317.4 521,1311.4 523.5,1309.8 529.5,1302.1 521,1295.2 519.6,1294.5 516.8,1286.8 511.5,1282.8 503.1,1286.8 504.5,1294.5 502.1,1295.6 500.9,1294.5 501.6,1286.8 501.3,1279.2 502.1,1278.5 511.5,1272.4 521,1279.2 530.4,1271.5 521,1263.9 521.6,1256.2 521,1255.9 511.5,1251.1 509.8,1248.6 511.5,1244.7 514.8,1240.9 513.8,1233.3 514,1225.6 521,1220.8 526.2,1218 521,1213.2 511.5,1213.8 510,1210.3 511.5,1208 521,1210.3 530.4,1203.9 532.4,1202.7 533.9,1195 530.4,1194.3 521,1187.4 518.6,1187.4 517.7,1179.7 521,1172.1 521,1171.1 522.4,1172.1 530.4,1178.9 539.3,1172.1 539.9,1171.2 544.7,1164.4 549.3,1157.5 558.8,1164.4 568.2,1156.8 558.8,1149.2 549.3,1156.1 539.9,1153.7 539.9,1149.1 539.9,1145.6 545.6,1141.5 549.3,1134.5 549.9,1133.8 558.8,1127.4 559.9,1126.2 562.4,1118.5 566.2,1110.9 568.2,1109 572,1103.2 577.7,1103.2 587.1,1095.6 582.8,1087.9 583.2,1080.3 587.1,1072.6 587.1,1072.2 588.4,1072.6 592,1080.3 596.6,1082.5 606,1087.9 615.5,1080.3 606,1072.7 602.9,1072.6 596.6,1070.3 592.4,1065 596.6,1057.7 597.3,1057.3 606,1057.3 615.5,1050.5 617,1049.7 623.5,1042 624.9,1037.8 634.4,1039.8 634.4,1042 642.2,1049.7 642.4,1057.3 643.8,1058.3 649.7,1057.3 646.4,1049.7 653.3,1042 648.9,1034.4 643.8,1031.7ZM653.3,1459.7 647.8,1462.8 653.3,1466.3 660.8,1462.8ZM662.7,1149.2 653.3,1156.8 662.7,1164.4 672.2,1164.4 681.6,1156.8 672.2,1149.2ZM681.6,1059.4 677.9,1065 681.6,1070 688.5,1065ZM710,1076 708.6,1080.3 710,1087 713.7,1080.3ZM719.4,1115.4 715.8,1118.5 719.4,1123.1 722.9,1118.5ZM738.3,1156.8 728.9,1164.4 738.3,1172.1 747.8,1164.4ZM757.2,1386.3 747.8,1393.9 757.2,1401.6 766.7,1393.9ZM776.1,1199 773.7,1202.7 766.7,1202.7 757.3,1210.3 766.7,1218 776.1,1210.3 776.1,1204.9 779.1,1202.7ZM795,1233.3 785.6,1240.9 795,1248.6 804.5,1240.9ZM539.9,1233.3 530.5,1240.9 539.9,1248.6 549.3,1240.9ZM549.3,1177.6 546.8,1179.7 549.3,1181.7 550.8,1179.7ZM568.2,1195.1 558.8,1202.7 568.2,1210.3 577.7,1202.7ZM577.7,1408.1 576.7,1409.2 577.7,1415.7 578.8,1409.2ZM587.1,1340.4 577.7,1348 587.1,1355.7 596.6,1348ZM596.6,1103.3 587.2,1110.9 596.6,1118.5 606,1110.9ZM624.9,1062.5 620.3,1065 624.9,1069.2 628,1065ZM681.6,1072.7 672.2,1080.3 681.6,1087.9 691.1,1095.6 700.5,1087.9 691.1,1080.3ZM710,1416.9 700.6,1424.5 710,1432.2 719.4,1424.5ZM719.4,1371 710,1378.6 719.4,1386.3 728.9,1378.6ZM738.3,1406.6 736,1409.2 738.3,1411.8 742.8,1409.2ZM747.8,1218 738.4,1225.6 747.8,1233.3 757.2,1225.6ZM766.7,1233.3 757.3,1240.9 766.7,1248.6 776.1,1240.9ZM795,1248.6 785.6,1256.2 795,1263.9 804.5,1256.2ZM681.6,1095.6 672.2,1103.2 681.6,1110.9 691.1,1103.2ZM719.4,1445.9 716.8,1447.5 719.4,1450.7 726.7,1447.5ZM549.3,1216.7 548.4,1218 549.3,1220.4 550.4,1218ZM681.6,1416.9 672.2,1424.5 681.6,1432.2 691.1,1424.5ZM549.3,1362.6 548.5,1363.3 549.3,1363.7 558.8,1364.3 560.1,1363.3 558.8,1362.5ZM558.8,1371 549.4,1378.6 558.8,1386.3 568.2,1378.6ZM664.3,1034.4 672.2,1028.3 678,1034.4 676.2,1042 672.2,1042.1 664.2,1042ZM697.3,1042 700.5,1037.1 706.6,1042 700.5,1044.7ZM536.6,1080.3 539.9,1079.4 540.8,1080.3 539.9,1081.2ZM568.2,1087.9 568.2,1081 571.5,1087.9 568.2,1093.2ZM530.4,1133.8 530.4,1131.9 532.4,1133.8 530.4,1135.7ZM529,1156.8 530.4,1156.8 533.4,1156.8 530.4,1158ZM507.5,1302.1 511.5,1297.6 515.9,1302.1 511.5,1306.4ZM509.9,1340.4 511.5,1337.4 517.8,1340.4 511.5,1344.2ZM831.3,1409.2 832.8,1407.6 832.9,1409.2ZM765.7,1424.5 766.7,1423.7 767.6,1424.5 766.7,1425.2ZM587.1,1485.7 588.4,1485.7 587.1,1487.6Z"/>
<path fill="#1d91c0" fill-rule="evenodd" d="M628.3,1049.7 634.4,1047.2 636.6,1049.7 636.9,1057.3 634.4,1062 628.8,1057.3ZM608.9,1057.3 615.5,1055.5 620.5,1057.3 615.5,1060.1ZM658.5,1057.3 662.7,1052.5 672.2,1057.3 673.4,1057.3 673.6,1065 672.2,1070.5 662.7,1069.1 658.9,1065ZM595.6,1065 596.6,1063.4 599,1065 596.6,1066.2ZM637,1065 643.8,1062.1 650.2,1065 653.3,1069.2 658.9,1072.6 657.2,1080.3 662.7,1084.7 665,1087.9 672.2,1092.5 679.8,1087.9 681.6,1087.9 689.8,1095.6 681.6,1095.6 672.2,1103.2 681.6,1110.9 691.1,1103.2 691.1,1096.9 693.5,1095.6 700.5,1092 703.8,1095.6 700.5,1100.6 698.3,1103.2 700.5,1103.8 710,1103.7 710.8,1103.2 719.4,1102.3 728.9,1099 733.1,1103.2 738.3,1108 741.8,1110.9 747.8,1116.2 749.9,1118.5 748.8,1126.2 749.3,1133.8 755.9,1141.5 747.8,1144.3 741.8,1149.1 747.8,1156.6 754,1149.1 757.2,1142.7 760.2,1149.1 757.7,1156.8 759.9,1164.4 762.2,1172.1 758.2,1179.7 766.7,1184.5 773.9,1187.4 771.1,1195 767.7,1202.7 766.7,1202.7 757.3,1210.3 766.7,1218 776.1,1210.3 776.1,1210.1 776.4,1210.3 785.6,1216.6 790,1218 785.6,1223.1 782.4,1225.6 785,1233.3 785.6,1233.7 785.6,1240.9 785.6,1248.4 784.5,1248.6 784.3,1256.2 785.6,1259.5 788.3,1263.9 785.6,1264.9 779.6,1271.5 781.8,1279.2 781,1286.8 785.6,1292.3 793,1286.8 795,1283.6 797.1,1286.8 795.1,1294.5 797.4,1302.1 795,1302.2 785.6,1294.5 776.1,1298.8 774,1302.1 776.1,1303.6 785.6,1309.8 785.6,1310.5 781.9,1317.4 781.3,1325.1 785.6,1329.3 789.4,1332.7 785.6,1334.8 779.1,1340.4 776.1,1346 773.3,1348 772.6,1355.7 766.7,1360.9 757.2,1362.5 755.8,1363.3 750.9,1371 747.9,1378.6 757.2,1384.8 766.7,1386 766.9,1386.3 768.6,1393.9 766.7,1395.4 766.7,1393.9 757.2,1386.3 747.8,1393.9 747.8,1401.4 738.3,1395 728.9,1401.5 728.7,1401.6 728.9,1401.7 730.5,1409.2 737.1,1416.9 728.9,1421.3 719.4,1419.1 710,1416.9 700.5,1424.3 700.2,1424.5 691.1,1430.5 691.1,1424.5 691.1,1418.8 693,1416.9 691.1,1415 685.8,1416.9 681.6,1416.9 672.2,1424.5 679.3,1432.2 681.6,1434.2 689.4,1439.8 686.6,1447.5 682.1,1455.1 681.6,1455.9 679.7,1455.1 672.2,1448.2 670.3,1447.5 662.7,1446.3 660.6,1447.5 653.6,1455.1 653.3,1455.2 643.8,1457 639.5,1462.8 634.4,1465.3 626.6,1462.8 627.4,1455.1 626.5,1447.5 628.8,1439.8 634.4,1433.5 635.4,1432.2 634.4,1429.7 624.9,1428 620.4,1432.2 615.5,1438.9 609.8,1432.2 612.5,1424.5 615.5,1419.1 616.8,1416.9 615.8,1409.2 615.5,1409 615.3,1409.2 606,1413.9 596.6,1415.4 587.1,1410.8 585.7,1409.2 587.1,1402 587.4,1401.6 590.3,1393.9 587.4,1386.3 587.1,1386.1 577.7,1384.6 572.8,1386.3 576.8,1393.9 568.2,1395.9 563.6,1393.9 563.6,1386.3 568.2,1383.3 571.1,1378.6 568.3,1371 568.2,1370.9 566.5,1363.3 558.8,1358.3 553.8,1355.7 558.8,1349.4 560.3,1348 558.8,1343.2 554.2,1340.4 551.3,1332.7 549.3,1330.3 542.2,1325.1 547,1317.4 539.9,1310.3 538.5,1309.8 536.5,1302.1 539.9,1294.9 540.3,1294.5 543.5,1286.8 539.9,1280.4 537.4,1279.2 530.4,1276.1 530.4,1271.5 530.4,1268.1 536.9,1263.9 535,1256.2 539.9,1254.8 544.2,1248.6 549.3,1240.9 549.3,1235.3 555.4,1233.3 552.1,1225.6 556.2,1218 550.7,1210.3 558.8,1206 568.2,1210.3 577.7,1202.7 568.2,1195.1 558.8,1199 555.9,1195 558.8,1190 568.2,1192.1 574.4,1187.4 571,1179.7 568.9,1172.1 568.2,1170.9 560.9,1164.4 568.2,1161.4 577.3,1156.8 577.7,1155.2 583.5,1149.1 577.7,1142.4 577,1141.5 573.8,1133.8 577.7,1130.3 587.1,1129.5 590,1126.2 587.1,1121.2 582.1,1118.5 583.8,1110.9 587.1,1106 587.2,1110.9 596.6,1118.5 606,1110.9 604.9,1103.2 604.5,1095.6 606,1092.5 615.5,1090.8 621.5,1087.9 619.1,1080.3 624.9,1076.4 630.2,1080.3 629.9,1087.9 634.4,1095.1 639.8,1087.9 638.4,1080.3 634.4,1073.6 633.4,1072.6 634.4,1071ZM643.8,1071.5 638,1072.6 643.8,1073.7 646.6,1072.6ZM653.3,1087.3 651.5,1087.9 650.9,1095.6 653.3,1098.3 659.8,1095.6 654.1,1087.9ZM662.7,1149.2 653.3,1156.8 662.7,1164.4 672.2,1164.4 681.6,1156.8 672.2,1149.2ZM719.4,1112.2 712.2,1118.5 716.5,1126.2 717.3,1133.8 719.4,1136.7 722.8,1133.8 722.3,1126.2 726.3,1118.5ZM728.9,1158.8 724.5,1164.4 728.9,1167.1 738.3,1172.1 747.8,1164.4 738.3,1156.8ZM738.3,1124.8 736.1,1126.2 738.3,1130.3 745.9,1126.2ZM747.8,1218 738.4,1225.6 747.8,1233.3 757.2,1225.6ZM757.2,1192.9 754.9,1195 757.2,1196.7 760.5,1195ZM766.7,1224.3 765,1225.6 766.7,1227.1 769.1,1225.6ZM549.3,1276.4 543.3,1279.2 549.3,1280.5 551.6,1279.2ZM587.1,1340.4 577.7,1348 587.1,1355.7 596.6,1348ZM634.4,1100.9 634.3,1103.2 634.4,1103.4 643.8,1103.8 644.2,1103.2 643.8,1103.1ZM719.4,1371 710,1378.6 719.4,1386.3 728.9,1378.6ZM766.7,1233.3 757.3,1240.9 766.7,1248.6 776.1,1245.8 779,1240.9 776.1,1238.5ZM634.4,1123.2 627.4,1126.2 634.4,1128.4 637.1,1126.2ZM643.8,1438.5 641.2,1439.8 639.5,1447.5 643.8,1453.4 649.2,1447.5 645.7,1439.8ZM766.7,1338.1 766.4,1340.4 766.7,1341.2 767.6,1340.4ZM691.1,1080.3 691.1,1073.6 700.5,1075.6 703.9,1080.3 700.5,1085.8ZM725.8,1087.9 728.9,1082.7 734.1,1087.9 728.9,1092ZM567.7,1126.2 568.2,1124.3 569.3,1126.2 568.2,1126.9ZM556.5,1141.5 558.8,1138.7 562.4,1141.5 558.8,1144.2ZM774.4,1149.1 776.1,1148.1 776.2,1149.1 776.1,1150.8ZM548.6,1172.1 549.3,1171 551,1172.1 549.3,1172.5ZM538.6,1179.7 539.9,1178.8 540.7,1179.7 539.9,1180.9ZM554.1,1179.7 558.8,1173.7 566.2,1179.7 558.8,1186.3ZM547.2,1187.4 549.3,1186.4 554,1187.4 549.3,1188.8ZM537.4,1210.3 539.9,1209.2 544.3,1210.3 543.6,1218 539.9,1221.5 534.3,1218ZM520.7,1225.6 521,1225.4 530.4,1222.3 533.3,1225.6 530.4,1228.9 521,1227.3ZM519,1248.6 521,1246.6 523.5,1248.6 521,1249.9ZM514.7,1279.2 521,1279.2 527.7,1279.2 521,1284.1ZM529.3,1294.5 530.4,1293.5 538.4,1294.5 530.4,1295.5ZM528.6,1317.4 530.4,1316.6 531,1317.4 530.4,1318ZM538.2,1340.4 539.9,1337.4 546.9,1340.4 549.3,1346.1 551,1348 549.3,1348.4 547.7,1348 539.9,1345.3ZM548.6,1371 549.3,1370.5 558.8,1369.1 568.1,1371 558.8,1371 549.3,1371.5ZM760.1,1371 766.7,1366.7 775.7,1371 766.7,1374.4ZM558.8,1401.6 558.8,1399 560.3,1401.6 558.8,1407.2ZM559.8,1409.2 568.2,1406.4 571,1409.2 568.2,1411.5ZM764.3,1409.2 766.7,1408.1 767.5,1409.2 766.7,1409.9ZM582.4,1424.5 587.1,1423.5 592.1,1424.5 587.1,1428.2ZM706.4,1432.2 710,1432.2 716,1432.2 710,1434.2ZM586.8,1439.8 587.1,1437.9 596.6,1434.6 606,1439.8 598.6,1447.5 596.6,1448.7 595.7,1447.5 587.1,1440.1ZM695.2,1447.5 700.5,1443.2 707.6,1447.5 700.5,1452.2ZM603.5,1455.1 606,1452.5 615.5,1454.1 621.1,1455.1 615.5,1455.2 606,1456.8ZM668.9,1462.8 672.2,1458.1 675.9,1462.8 672.2,1470.4 672.2,1472.5 667.5,1470.4ZM643.1,1470.4 643.8,1469.2 646.9,1470.4 643.8,1471.5ZM662.3,1478.1 662.7,1476.2 663.8,1478.1 662.7,1478.1ZM685.7,1478.1 691.1,1476.7 695.5,1478.1 691.1,1480.7Z"/>
<path fill="#41b6c4" fill-rule="evenodd" d="M661.6,1057.3 662.7,1056.1 665.6,1057.3 662.7,1060.6ZM641.4,1065 643.8,1063.9 646.1,1065 643.8,1067.4ZM623,1080.3 624.9,1079 626.6,1080.3 624.9,1083.5ZM641.7,1080.3 643.8,1077.7 649.4,1080.3 643.8,1083.8ZM691.1,1080.3 691.1,1077.3 700.5,1078.8 701.6,1080.3 700.5,1082ZM638.1,1095.6 643.8,1090.6 648.1,1095.6 643.8,1100.1ZM669.7,1095.6 672.2,1095 681.6,1094.2 682.6,1095.6 681.6,1095.6 672.2,1097ZM623.2,1103.2 624.9,1101.7 626.3,1103.2 630.9,1110.9 624.9,1114.8 622.3,1118.5 622,1126.2 624.9,1129.8 634.4,1131 640.5,1126.2 634.4,1119.6 632,1118.5 634.4,1115.9 643.8,1112 645.7,1110.9 650.2,1103.2 653.3,1101.6 658.3,1103.2 662.7,1104.7 672.2,1105.7 681.6,1110.9 681.6,1111 691.1,1111.8 692,1110.9 700.5,1105.7 707.9,1110.9 710,1117 710.3,1118.5 711.8,1126.2 714,1133.8 719.4,1140.9 722.8,1141.5 728.9,1142.6 731.8,1141.5 738.3,1138 747.8,1138.4 749.4,1141.5 747.8,1142 739.1,1149.1 743.9,1156.8 738.3,1156.8 731.5,1156.8 728.9,1154.8 724.4,1156.8 721.3,1164.4 728.9,1169.1 738.3,1172.1 743.6,1172.1 747.8,1177.1 751.1,1179.7 747.8,1182.2 742,1187.4 747.8,1192.1 750.4,1195 747.8,1198.2 744.6,1202.7 747.8,1205.2 752.6,1202.7 757.2,1200.1 762.4,1202.7 757.2,1206.2 753.8,1210.3 757.2,1216.4 766.7,1218 770.8,1218 766.7,1219.6 759.4,1225.6 757.2,1231.2 757.2,1225.6 747.8,1218 738.4,1225.6 747.8,1233.3 756.8,1233.3 757.2,1234.1 757.3,1240.9 766.7,1248.6 773.7,1248.6 776.1,1255.3 776.8,1256.2 776.1,1261 772.9,1263.9 774.8,1271.5 776.1,1277.6 776.4,1279.2 777.5,1286.8 776.1,1289.9 766.7,1294.2 757.2,1293.9 756.4,1294.5 757.2,1295.7 766.7,1296.9 768,1302.1 766.7,1304 764.7,1309.8 766.7,1312 772.1,1309.8 776.1,1307.8 779.4,1309.8 778,1317.4 778,1325.1 785.6,1332.6 785.8,1332.7 785.6,1332.9 776.8,1340.4 776.1,1341.6 774.3,1340.4 773.3,1332.7 766.7,1329.4 764.5,1332.7 763.8,1340.4 766.7,1347.5 767.3,1348 768.8,1355.7 766.7,1357.6 757.2,1358.8 749.7,1363.3 747.8,1365.4 741.4,1371 744.2,1378.6 747.8,1382.8 752.9,1386.3 747.8,1391.4 738.3,1387.8 728.9,1393.5 725.3,1393.9 719.4,1395.8 716,1393.9 711.2,1386.3 719.4,1386.3 728.9,1379.1 729.4,1378.6 728.9,1377.8 719.4,1371 710,1378.6 710,1385.1 708.8,1386.3 701.9,1393.9 710,1396.7 714.7,1401.6 712.5,1409.2 710,1411.6 708,1416.9 700.5,1421.1 696.2,1416.9 691.1,1411.6 681.6,1414.2 678,1416.9 672.2,1420.8 664.9,1416.9 662.7,1414.2 657,1416.9 660.7,1424.5 662.7,1427.6 672.2,1429.4 674.5,1432.2 672.2,1436.3 667.1,1439.8 662.7,1441.5 653.3,1446.4 649.4,1439.8 643.8,1435.7 639.1,1432.2 639.1,1424.5 638.4,1416.9 635,1409.2 634.4,1408.6 632.9,1409.2 630.4,1416.9 629,1424.5 624.9,1425.5 618.7,1424.5 620.8,1416.9 621.1,1409.2 615.5,1404.6 611.8,1409.2 606,1412.1 596.6,1410.8 593.1,1409.2 596.6,1405.5 603.9,1401.6 596.6,1400.7 592.1,1393.9 593.5,1386.3 587.1,1382.7 577.7,1382.1 573.8,1378.6 571.8,1371 571.5,1363.3 568.2,1356.4 558.8,1356.2 557.8,1355.7 558.8,1354.5 566,1348 568.2,1345.6 570.7,1340.4 568.2,1336.4 558.8,1338.1 553.9,1332.7 549.3,1327 546.7,1325.1 549.3,1320.3 552.5,1317.4 549.3,1314.6 545.4,1309.8 540,1302.1 548,1294.5 545.8,1286.8 549.3,1283 556.2,1279.2 549.9,1271.5 550.5,1263.9 549.3,1261.1 544.9,1256.2 547.8,1248.6 549.3,1240.9 549.3,1237.2 557.4,1240.9 558.8,1242 560.7,1240.9 559.6,1233.3 558.8,1231.9 554.4,1225.6 558.8,1218.3 559.2,1218 558.8,1214.6 558.1,1210.3 558.8,1210 568.2,1210.3 577.7,1202.7 568.2,1195.1 566.1,1195 568.2,1195 577.7,1188.5 579.5,1187.4 577.7,1186.5 574.5,1179.7 571.9,1172.1 568.2,1164.9 567.7,1164.4 568.2,1164.2 577.7,1159.7 584.4,1164.4 587.1,1168.2 592.5,1164.4 589.5,1156.8 596.6,1152.1 600.5,1149.1 600.8,1141.5 596.6,1138.6 593.2,1141.5 587.1,1145.2 583,1141.5 587.1,1133.9 587.2,1133.8 593.9,1126.2 589.6,1118.5 596.6,1118.5 606,1114.7 615.5,1112.9 619.9,1110.9ZM634.4,1147.5 632.5,1149.1 634.4,1151 636,1149.1ZM653.3,1429.6 649.9,1432.2 653.3,1435.2 658.5,1432.2ZM662.7,1123 658.6,1126.2 662.7,1128.5 666,1126.2ZM672.2,1117.8 670.5,1118.5 672.2,1119.6 674.3,1118.5ZM681.6,1148.7 681.4,1149.1 672.2,1149.2 662.7,1149.2 653.3,1156.8 662.7,1164.4 672.2,1164.4 681.6,1156.8 681.6,1149.3 681.9,1149.1ZM691.1,1141 689.8,1141.5 691.1,1142 691.9,1141.5ZM700.5,1122.2 699.2,1126.2 700.5,1128.8 704.6,1126.2ZM587.1,1340.4 577.7,1348 587.1,1355.7 596.6,1348ZM606,1390.7 605.3,1393.9 606,1399 607.2,1393.9ZM615.5,1155 609.8,1156.8 615.5,1157.3 616,1156.8ZM691.1,1398.7 688,1401.6 691.1,1405.5 695,1401.6ZM728,1118.5 728.9,1113.6 738.3,1112.5 745,1118.5 738.3,1121.7 731.1,1126.2 731.4,1133.8 728.9,1137.5 727.8,1133.8 726.9,1126.2ZM555.7,1179.7 558.8,1175.8 563.6,1179.7 558.8,1184ZM754.9,1187.4 757.2,1185.3 766.7,1187.1 767.3,1187.4 766.7,1192.4 757.2,1188.7ZM538,1218 539.9,1215.1 541.1,1218 539.9,1219.2ZM760.6,1233.3 766.7,1232 776.1,1227.6 778.9,1233.3 776.1,1234.9 766.7,1233.3ZM783.2,1240.9 785.6,1238.3 785.6,1240.9 785.6,1243.7ZM530.4,1271.5 530.4,1271.2 539.9,1267 547.8,1271.5 539.9,1274.8 530.4,1272ZM518,1279.2 521,1279.2 524.3,1279.2 521,1281.6ZM722.8,1416.9 728.9,1412.1 732.3,1416.9 728.9,1418.7ZM691.1,1424.5 691.1,1422.2 694.8,1424.5 691.1,1427ZM613,1432.2 615.5,1426.1 617.6,1432.2 615.5,1435.1ZM592.8,1439.8 596.6,1437.9 600.1,1439.8 596.6,1443.5ZM633.2,1439.8 634.4,1438.5 635.9,1439.8 635.5,1447.5 634.4,1450.2 632.8,1447.5ZM677,1439.8 681.6,1438.3 683.8,1439.8 683.4,1447.5 681.6,1450.5 678.2,1447.5ZM698.1,1447.5 700.5,1445.5 703.7,1447.5 700.5,1449.6ZM633.1,1462.8 634.4,1460.5 635.2,1462.8 634.4,1463.2Z"/>
<path fill="#7fcdbb" fill-rule="evenodd" d="M642,1095.6 643.8,1093.9 645.3,1095.6 643.8,1097.1ZM652.3,1110.9 653.3,1109 662.7,1107.9 672.2,1108.2 677.1,1110.9 672.2,1114.5 662.7,1118.5 653.3,1113.1ZM695.2,1110.9 700.5,1107.6 705.2,1110.9 700.5,1116.2 697,1118.5 694.1,1126.2 697.3,1133.8 691.1,1137.3 685.1,1133.8 681.6,1127.9 679.1,1133.8 680.8,1141.5 677,1149.1 672.2,1149.2 662.7,1149.2 656.8,1149.1 653.3,1145.1 647.7,1149.1 643.8,1152.5 640.9,1149.1 634.4,1142.3 631.8,1141.5 631.7,1133.8 634.4,1133.6 636.1,1133.8 643.8,1137.3 653.3,1137.4 658,1133.8 662.7,1131.7 670.5,1126.2 672.2,1124.4 681.6,1123.1 683,1118.5 691.1,1114.8ZM593.7,1118.5 596.6,1118.5 602.9,1118.5 596.6,1123.9ZM608.2,1118.5 615.5,1115.4 619.2,1118.5 617.8,1126.2 615.5,1129.5 612,1126.2ZM639.1,1118.5 643.8,1115.8 650,1118.5 646.2,1126.2 643.8,1126.7 643.8,1126.2ZM707.1,1133.8 710,1131.9 710.7,1133.8 710,1140.1 709.4,1141.5 707.4,1149.1 710,1152.5 714.8,1156.8 710,1162 700.5,1160.7 695.9,1164.4 700.5,1168.3 708.4,1172.1 710,1172.6 719.4,1178.8 725,1172.1 728.9,1171 738.3,1172.1 738.6,1172.1 738.3,1172.5 731.5,1179.7 728.9,1183.7 726.3,1187.4 728.9,1188.9 738.3,1191.2 743.1,1195 740.6,1202.7 747.8,1208.4 750.2,1210.3 750.3,1218 747.8,1218 738.4,1225.6 747.8,1233.3 753.7,1233.3 757.2,1239.4 757.3,1240.9 757.2,1242.9 754.1,1248.6 757.2,1252 762.3,1248.6 766.7,1248.6 769.6,1248.6 766.7,1252 762.3,1256.2 762.3,1263.9 766.7,1271.5 766.8,1271.5 766.7,1271.7 764.8,1279.2 766.7,1281.3 772.8,1286.8 766.7,1290.8 757.2,1290.5 752.1,1294.5 756.3,1302.1 757.2,1302.3 761.4,1309.8 757.2,1314.4 750.1,1317.4 751.4,1325.1 757.2,1326.5 761.3,1332.7 761.1,1340.4 758.7,1348 757.2,1352 754.7,1348 747.8,1342.9 738.3,1346.6 737,1348 738.3,1348.9 743.9,1355.7 738.3,1358.9 728.9,1361.5 726.5,1363.3 727.2,1371 719.4,1371 710,1378.6 710,1380.9 704.5,1386.3 700.5,1390.1 693,1393.9 691.1,1394.9 683.9,1401.6 681.6,1409.1 676,1401.6 672.2,1397.8 662.7,1398.4 653.3,1399.9 643.8,1401 642.6,1401.6 643.8,1402.1 653.3,1403.7 658.8,1409.2 653.3,1412.9 644.2,1416.9 643.8,1417.3 643.7,1416.9 639.6,1409.2 634.4,1403.8 624.9,1408.1 617.1,1401.6 615.5,1398.4 612.9,1393.9 615.5,1390.4 618.5,1386.3 615.5,1383 606,1381.5 596.6,1382.2 587.1,1379.2 577.7,1379.6 576.6,1378.6 575.3,1371 577.7,1364.6 582.6,1363.3 587.1,1360.1 587.9,1355.7 596.6,1348 587.1,1340.4 577.7,1348 577.7,1351.2 573.7,1348 573.5,1340.4 571.5,1332.7 570.9,1325.1 568.2,1321.8 560.6,1317.4 562.4,1309.8 558.8,1308.2 552.4,1302.1 558.8,1298.1 561.3,1294.5 565.1,1286.8 561.1,1279.2 558.8,1276.5 555,1271.5 553.9,1263.9 554.2,1256.2 552.7,1248.6 549.3,1245.8 549.3,1240.9 549.3,1239.1 553.4,1240.9 558.8,1245.2 566.4,1240.9 561.6,1233.3 558.8,1228.6 556.7,1225.6 558.8,1222.2 563.6,1218 568.2,1211.9 569.3,1210.3 577.7,1202.7 577.7,1197.5 585.2,1195 587.1,1193.9 596.6,1190.1 606,1188.6 608.3,1187.4 606,1184.8 596.6,1185.5 588.3,1179.7 596.6,1172.4 606,1172.3 606.6,1172.1 606,1171.9 601,1164.4 606,1161.4 615.5,1161.8 621.4,1156.8 622.2,1149.1 624.9,1146.1 626.6,1149.1 634.3,1156.8 634.4,1156.9 643.8,1159.4 648.6,1156.8 653.3,1153.2 653.3,1156.8 662.7,1164.4 672.2,1164.4 681.6,1156.8 681.6,1152.3 686.5,1149.1 691.1,1145.6 697,1141.5 700.5,1137ZM738.3,1324.1 737.6,1325.1 738.3,1325.8 742.8,1325.1ZM568.2,1223.9 565.8,1225.6 568.2,1226.3 571.7,1225.6ZM596.6,1368.4 589.4,1371 596.6,1374.1 598.7,1371ZM624.9,1370.6 623.9,1371 624.9,1372 625.9,1371ZM653.3,1370.3 652.1,1371 653.3,1372.2 654.1,1371ZM681.6,1171.4 680.2,1172.1 681.6,1172.4 682.3,1172.1ZM747.8,1327.7 746.2,1332.7 747.8,1337.5 749.8,1332.7ZM681.6,1385.1 679.6,1386.3 681.6,1388.3 684.9,1386.3ZM609.8,1141.5 615.5,1137.8 621.5,1141.5 615.5,1145.4ZM726,1149.1 728.9,1147.2 732.3,1149.1 728.9,1150.8ZM736.7,1156.8 738.3,1154.5 739.7,1156.8 738.3,1156.8ZM574.5,1164.4 577.7,1162.9 579.8,1164.4 584.4,1172.1 577.7,1178.9 575,1172.1ZM557.4,1179.7 558.8,1177.9 561,1179.7 558.8,1181.7ZM548.2,1286.8 549.3,1285.5 554.3,1286.8 549.3,1289.8ZM762.9,1317.4 766.7,1315.5 771.6,1317.4 766.7,1323.9ZM556.4,1332.7 558.8,1327.5 566.6,1332.7 558.8,1335.3ZM734.9,1378.6 738.3,1374.8 740.6,1378.6 738.3,1382.1ZM715.3,1386.3 719.4,1386.3 728.9,1383.9 732.6,1386.3 728.9,1388.7 719.4,1390.5ZM593.9,1393.9 596.6,1388.2 601.8,1393.9 596.6,1398ZM700.3,1401.6 700.5,1401.2 701.4,1401.6 701.9,1409.2 702.3,1416.9 700.5,1417.9 699.5,1416.9 697.4,1409.2ZM601.4,1409.2 606,1406.1 608.3,1409.2 606,1410.4ZM649.2,1424.5 653.3,1422.1 655.4,1424.5 653.3,1426ZM642.9,1432.2 643.8,1429.7 645.1,1432.2 643.8,1432.9Z"/>
<path fill="#c7e9b4" fill-rule="evenodd" d="M698.3,1110.9 700.5,1109.5 702.5,1110.9 700.5,1113.1ZM614.2,1118.5 615.5,1118 616.2,1118.5 615.5,1121.1ZM689.6,1118.5 691.1,1117.8 692.2,1118.5 691.1,1121.3ZM667.1,1133.8 672.2,1130.8 674.2,1133.8 672.2,1137.4 667.5,1141.5 672.2,1147.9 672.6,1149.1 672.2,1149.2 662.7,1149.2 661,1149.1 656.5,1141.5 662.7,1137.1ZM681.6,1156.8 681.6,1155.3 684.8,1156.8 691,1164.4 681.6,1165.3 672.2,1170.1 670.1,1172.1 672.2,1175.5 681.6,1175.5 688.5,1172.1 691.1,1164.5 699.4,1172.1 700.5,1172.4 710,1175.5 715.9,1179.7 710,1186.6 708.5,1187.4 710,1189.9 719.4,1187.8 728.9,1193.3 732.8,1195 734.3,1202.7 738.3,1204.4 746,1210.3 738.3,1215 728.9,1216.6 726.2,1218 728.9,1221.2 738.3,1223.7 738.4,1225.6 747.8,1233.3 750.5,1233.3 751.3,1240.9 750.3,1248.6 747.8,1251.5 744.5,1256.2 747.8,1259.5 757.2,1256.2 757.2,1256.2 757.3,1256.2 757.4,1263.9 757.2,1264.3 754.7,1271.5 757.2,1274.6 760.4,1279.2 766.7,1286.1 767.5,1286.8 766.7,1287.4 757.2,1287.1 747.8,1294.3 747.4,1294.5 744.9,1302.1 747.8,1309.8 738.7,1317.4 738.3,1317.6 732.5,1325.1 738.3,1329.9 741.5,1332.7 738.3,1336.5 734,1340.4 728.9,1344.9 721.7,1348 728.9,1351.2 734.8,1355.7 728.9,1358.3 720.3,1355.7 719.4,1353.3 718.6,1355.7 719.4,1356.5 722.3,1363.3 719.4,1369.9 710,1367.4 702.4,1371 708.1,1378.6 700.5,1386.1 691.1,1383.5 681.6,1380 672.2,1385.2 662.7,1384.7 653.3,1381.4 648.6,1386.3 643.8,1392.8 634.4,1390.3 624.9,1387.7 624.3,1386.3 624.9,1383.1 632.5,1378.6 633.3,1371 624.9,1367.7 617.8,1363.3 617.2,1355.7 615.5,1351.7 613.8,1355.7 606,1360.4 596.6,1360.8 592.4,1355.7 596.6,1348 596.6,1347.3 598.3,1340.4 596.6,1338.1 594.1,1340.4 587.1,1340.4 577.7,1344 576.3,1340.4 577.7,1337 581.8,1332.7 577.7,1330.5 573.6,1325.1 568.2,1318.3 566.8,1317.4 568.2,1315.5 576,1309.8 568.2,1303.6 564.6,1302.1 565.1,1294.5 568.2,1290.5 571.2,1286.8 568.2,1281.4 566.5,1279.2 560.2,1271.5 558.8,1268.9 557.2,1263.9 558.8,1260.7 563.6,1256.2 568.2,1252.6 577.7,1249.3 578.2,1248.6 577.7,1248.2 572.9,1240.9 568.2,1239.3 563.5,1233.3 568.2,1228.3 576.2,1233.3 577.7,1236.4 583.9,1233.3 587.1,1231 589,1225.6 587.1,1221.9 580,1218 577.7,1216.9 573.3,1210.3 577.7,1204 587.1,1209.1 589.6,1202.7 596.6,1196.5 598.6,1195 606,1191.2 613,1187.4 606.9,1179.7 615.5,1175.2 622.6,1179.7 624.9,1181.2 628,1179.7 630.9,1172.1 624.9,1170.6 618.4,1164.4 624.9,1158.7 630.5,1164.4 634.4,1170.7 640.1,1164.4 643.8,1162.9 648.5,1164.4 653.3,1170.2 656.5,1164.4 662.7,1164.4 672.2,1164.4ZM710,1346.1 707.9,1348 710,1351.2 717.2,1348ZM577.7,1259.7 571.8,1263.9 574.6,1271.5 577.7,1274.9 580.6,1271.5 579.8,1263.9ZM653.3,1178.6 653.1,1179.7 653.3,1180 662.7,1180 663.8,1179.7 662.7,1179.4ZM653.3,1367.8 647.3,1371 643.8,1376.3 635.4,1378.6 643.8,1380.9 647.9,1378.6 653.3,1376.7 657.1,1371ZM747.8,1309.8 757.2,1308.1 758.2,1309.8 757.2,1310.8ZM755.7,1332.7 757.2,1331.4 758.1,1332.7 758.5,1340.4 757.2,1343.2 753.6,1340.4ZM609.5,1371 615.5,1370.3 615.9,1371 615.5,1372.1ZM595.7,1393.9 596.6,1392 598.3,1393.9 596.6,1395.3ZM653,1393.9 653.3,1393.9 662.7,1390.7 665.1,1393.9 662.7,1394.7 653.3,1394ZM621.9,1401.6 624.9,1397.2 630,1401.6 624.9,1404.1Z"/>
<path fill="#fff7bc" fill-rule="evenodd" d="M660.3,1172.1 662.7,1166.1 664.4,1172.1 662.7,1173.8ZM677.8,1179.7 681.6,1178.6 687.2,1179.7 691.1,1184.8 693.7,1179.7 700.5,1176.8 710,1178.4 711.9,1179.7 710,1181.9 700.5,1187.2 699.4,1187.4 700.5,1187.6 706.1,1195 710,1199.4 716.8,1202.7 719.4,1204.9 728.9,1204.7 738.3,1208.3 741,1210.3 738.3,1212 728.9,1213.7 720.8,1218 726.4,1225.6 728.9,1229.2 738.3,1232.4 742,1233.3 738.3,1234.2 730.4,1240.9 738.3,1246.4 742.5,1248.6 741.4,1256.2 747.8,1262.5 750.9,1263.9 749.3,1271.5 750.7,1279.2 749.1,1286.8 747.8,1287.8 738.3,1292.8 736.5,1294.5 738.3,1297.4 740.8,1302.1 742.7,1309.8 738.3,1313.4 728.9,1316.8 728.4,1317.4 726.7,1325.1 728.9,1331.8 729.9,1332.7 728.9,1334.1 728.2,1332.7 719.4,1330.1 710,1332.2 709.4,1332.7 710,1334.1 715.4,1340.4 710,1342.6 704.3,1348 700.5,1352 691.1,1354.8 682.8,1355.7 691.1,1358.4 693.4,1363.3 691.1,1366.1 684.6,1363.3 681.6,1356.8 680.1,1363.3 681.6,1365.7 685,1371 681.6,1373.1 678.4,1371 672.2,1367.5 668.6,1371 664.8,1378.6 662.7,1378.9 662,1378.6 660.2,1371 653.3,1365.2 645.9,1363.3 643.8,1362.6 636.1,1363.3 634.4,1363.7 624.9,1364.8 622.6,1363.3 624.9,1357 626.9,1355.7 624.9,1355 619.7,1348 616.7,1340.4 615.5,1339.5 612.8,1340.4 606.4,1348 606,1349.6 605.7,1348 602.8,1340.4 606,1334.6 607,1332.7 606,1325.5 596.6,1331.5 587.1,1331 577.7,1326.8 576.4,1325.1 577.7,1322.2 587.1,1318.7 588.1,1317.4 587.1,1316.8 581.5,1309.8 577.7,1302.6 577.2,1302.1 577.7,1301.3 579.9,1302.1 587.1,1303 590.3,1302.1 587.1,1300.3 582,1294.5 577.7,1291.7 574.9,1286.8 577.7,1280.2 579.4,1279.2 584.8,1271.5 584.3,1263.9 583.1,1256.2 587.1,1251 589.6,1248.6 591.2,1240.9 596.6,1234.5 597.2,1233.3 596.6,1232.7 592.1,1225.6 593.4,1218 596.6,1215.1 605.2,1218 606,1218.2 606.2,1218 607.7,1210.3 606,1202.9 596.6,1207.9 593.7,1202.7 596.6,1200.1 603.6,1195 606,1193.8 615.5,1191.2 620.6,1187.4 624.9,1185.7 634.4,1181.8 643.8,1179.8 649.1,1187.4 653.3,1188.4 655.1,1187.4 662.7,1183.6 672.2,1184.3ZM681.6,1186 679.9,1187.4 681.6,1187.9 685.2,1187.4ZM728.9,1262.9 728.1,1263.9 728.9,1265 731.3,1263.9ZM624.9,1201.7 620.9,1202.7 624.9,1203.6 628.1,1202.7ZM716.6,1195 719.4,1193.5 722.3,1195 719.4,1199.6ZM565.5,1233.3 568.2,1230.4 572.9,1233.3 568.2,1236.8ZM565.8,1271.5 568.2,1268.7 570.2,1271.5 568.2,1274.5ZM709.5,1363.3 710,1362 711.1,1363.3 710,1363.5ZM691.2,1378.6 700.5,1374.8 703.9,1378.6 700.5,1382Z"/>
<path fill="#fee391" fill-rule="evenodd" d="M662.6,1187.4 662.7,1187.3 663.1,1187.4 672.2,1192.5 681.6,1194.3 691.1,1194.3 695.6,1195 700.5,1196.5 704.9,1202.7 700.5,1208.6 699.6,1210.3 700.5,1211.3 707.9,1218 710,1221 716.7,1225.6 719.4,1227.4 723.9,1233.3 723.1,1240.9 719.4,1247.8 719.2,1248.6 719.4,1250 721.3,1248.6 728.9,1246.8 731.4,1248.6 738.3,1256.2 738.3,1256.3 728.9,1257.7 723.9,1263.9 728.9,1270.4 732.7,1271.5 731.1,1279.2 738.3,1284.1 740.4,1286.8 738.3,1288 731.4,1294.5 728.9,1300.7 719.4,1301.3 718.9,1302.1 719.4,1303.9 727.6,1309.8 721.8,1317.4 719.4,1323.2 718.4,1325.1 710,1328.6 704.7,1332.7 700.5,1338.1 698.6,1340.4 700.5,1347.8 700.6,1348 700.5,1348.1 691.1,1349.1 683.6,1348 681.6,1347.9 681.1,1348 675.7,1355.7 672.2,1360.3 662.7,1357.6 661,1355.7 653.3,1352.3 649.4,1355.7 643.8,1358.7 638.5,1355.7 634.4,1352.5 624.9,1348.4 624.7,1348 621.1,1340.4 615.5,1336.5 610.8,1332.7 611.7,1325.1 606,1320 596.6,1319.4 595.5,1317.4 587.1,1311.3 585.9,1309.8 587.1,1308.4 596.6,1309.6 603.3,1302.1 597.8,1294.5 596.6,1292.5 591.8,1286.8 590.2,1279.2 591.1,1271.5 590.5,1263.9 596.6,1259.8 599.5,1256.2 605,1248.6 599.3,1240.9 601.9,1233.3 596.6,1227.7 595.3,1225.6 596.6,1223.1 605.3,1225.6 606,1226 615.5,1228.4 617.3,1225.6 615.5,1222.5 612.4,1218 615.5,1211.1 616.3,1210.3 624.9,1207.9 632.1,1210.3 634.4,1211.5 635.5,1210.3 639.6,1202.7 643.8,1199.2 648.3,1195 653.3,1192.5ZM672.2,1199.3 669.3,1202.7 672.2,1205 681.6,1206.8 691.1,1204.2 694.7,1202.7 691.1,1197 681.6,1195.9ZM621.1,1195 624.9,1192.2 634.4,1190.1 636.5,1195 634.4,1196.7 624.9,1196.8ZM727,1210.3 728.9,1209.7 731,1210.3 728.9,1210.8ZM567.4,1233.3 568.2,1232.4 569.7,1233.3 568.2,1234.4Z"/>
<path fill="#fec44f" fill-rule="evenodd" d="M641.2,1210.3 643.8,1206.7 648.3,1210.3 653.3,1213.6 662.5,1218 662.7,1219.9 663.4,1218 672.2,1214.7 681.6,1212.6 686.9,1210.3 691.1,1209.6 692.1,1210.3 691.1,1212.9 687.4,1218 691.1,1220.4 700.5,1220.7 702.1,1225.6 700.5,1227.4 698.9,1233.3 699.8,1240.9 700.5,1241.9 703.1,1240.9 710,1238.3 714.3,1240.9 714.7,1248.6 713.1,1256.2 719.4,1263.1 719.8,1263.9 724.4,1271.5 724.3,1279.2 723.3,1286.8 723.1,1294.5 719.4,1296.1 715.1,1302.1 716.8,1309.8 710,1317.4 710,1317.4 708.9,1325.1 700.5,1331.2 696.3,1332.7 693.1,1340.4 691.1,1342.8 681.6,1344.5 673.4,1340.4 672.2,1339.1 670.8,1340.4 662.7,1345.1 653.3,1344.2 647.4,1340.4 643.8,1339.3 642.1,1340.4 634.4,1346.7 626.2,1340.4 624.9,1338.4 615.5,1333.5 614.6,1332.7 615.5,1329.6 620.1,1325.1 615.5,1322.5 610.2,1317.4 615.5,1310 615.7,1309.8 615.5,1309.6 610.2,1302.1 606,1298.6 602.3,1294.5 598.1,1286.8 596.6,1281.5 595.9,1279.2 596.6,1277.4 599,1271.5 598.7,1263.9 604.1,1256.2 606,1253.9 613,1248.6 615.5,1245.6 618.7,1240.9 619.9,1233.3 622.2,1225.6 624.9,1221.7 633,1218 634.4,1217.5 637.1,1218 643.8,1222.8 646.1,1218 643.8,1215.5Z"/>
<path fill="#fe9929" fill-rule="evenodd" d="M639.6,1233.3 643.8,1231.2 653.3,1227.6 662.7,1229.9 670,1233.3 672.2,1234.6 675,1233.3 681.6,1226 691.1,1228.3 694.6,1233.3 694.5,1240.9 700.2,1248.6 700.5,1250.4 702.3,1256.2 703.6,1263.9 704.8,1271.5 708.3,1279.2 706.3,1286.8 707.6,1294.5 710,1296.2 711.3,1302.1 711.1,1309.8 710,1311 700.5,1312.1 695,1317.4 691.1,1322.3 688.6,1325.1 681.6,1331.3 672.2,1332.1 662.7,1327 659,1332.7 653.3,1335 643.8,1333.3 643.1,1332.7 637.7,1325.1 634.4,1324.1 626.7,1317.4 626.2,1309.8 624.9,1307.9 616.2,1302.1 617.7,1294.5 615.5,1289.7 606,1292.5 603.4,1286.8 606,1283.5 612.9,1279.2 606,1272.4 605.5,1271.5 605.9,1263.9 606,1263.7 608.7,1263.9 615.5,1266.6 615.9,1263.9 619.7,1256.2 619.5,1248.6 624.8,1240.9 624.9,1240.6 634.4,1239.9ZM704.5,1248.6 710,1247.9 710.3,1248.6 710,1249.3ZM680.2,1340.4 681.6,1336.6 684,1340.4 681.6,1341.1Z"/>
<path fill="#ec7014" fill-rule="evenodd" d="M643,1240.9 643.8,1240.1 645.8,1240.9 653.3,1245.1 662.7,1243.6 669.5,1240.9 672.2,1240.3 674.3,1240.9 681.6,1247.3 691.1,1245.5 692.9,1248.6 691.1,1252.5 687.9,1256.2 691.1,1258.7 695.7,1263.9 692.2,1271.5 694,1279.2 700.5,1285.5 700.8,1286.8 700.5,1287.3 691.1,1293.1 690.4,1294.5 687.3,1302.1 681.6,1309.1 680.7,1309.8 672.2,1313.8 667.2,1317.4 662.7,1319.7 653.3,1318.3 644.2,1317.4 643.8,1317.4 643.8,1317.4 634.4,1318.5 633.1,1317.4 632.5,1309.8 628.2,1302.1 624.9,1299.2 622.2,1294.5 622,1286.8 623.6,1279.2 624.9,1274.2 626.2,1271.5 624.9,1268.5 624.1,1263.9 624.9,1262.6 631.8,1256.2 634.4,1254.7 640.6,1248.6ZM668.9,1325.1 672.2,1321 680.3,1325.1 672.2,1327.4Z"/>
<path fill="#d7301f" fill-rule="evenodd" d="M641.1,1256.2 643.8,1253.5 648.9,1256.2 643.8,1259ZM662.1,1263.9 662.7,1262.6 672.2,1261.7 678.8,1263.9 681.6,1267.1 682.9,1271.5 684.2,1279.2 681.6,1286.8 681.5,1286.8 681.6,1286.9 683.8,1294.5 681.6,1297.5 672.2,1297.3 667.9,1294.5 662.7,1288.7 657,1294.5 653.3,1297 651.1,1294.5 645.6,1286.8 643.8,1283.2 641.7,1279.2 640.5,1271.5 643.8,1269 653.3,1266.7ZM659.9,1302.1 662.7,1299.4 665.4,1302.1 662.7,1304.9Z"/>
</g>
<rect x="253.4" y="864.1" width="809.6" height="809.1" fill="none" stroke="#262626" stroke-width="2.3"/>
<path d="M320.9,864.1v9.5M320.9,1673.2v-9.5M658.2,864.1v9.5M658.2,1673.2v-9.5M995.5,864.1v9.5M995.5,1673.2v-9.5M253.4,1605.8h9.5M1063,1605.8h-9.5M253.4,1437.2h9.5M1063,1437.2h-9.5M253.4,1268.7h9.5M1063,1268.7h-9.5M253.4,1100.1h9.5M1063,1100.1h-9.5M253.4,931.5h9.5M1063,931.5h-9.5" stroke="#262626" stroke-width="2" fill="none"/>
<g stroke="#14f014" stroke-width="6.4" opacity="0.86"><path d="M253.4,1268.7H1063"/><path d="M658.2,863.1V1674.2"/></g>
<text class="pl" x="304.4" y="969.1">C</text>
</g>
<g id="panelD">
<g clip-path="url(#clipD)">
<path fill="#c7e9b4" d="M1538.7,1096.5h2.9v2.9h-2.9zM1530.9,1099.1h2.9v2.9h-2.9zM1502.3,1104.3h2.9v2.9h-2.9zM1530.9,1104.3h2.9v2.9h-2.9zM1494.5,1106.9h2.9v2.9h-2.9zM1455.5,1109.5h2.9v2.9h-2.9zM1481.5,1109.5h2.9v2.9h-2.9zM1528.3,1114.7h2.9v2.9h-2.9zM1520.5,1117.3h2.9v2.9h-2.9zM1536.1,1117.3h2.9v2.9h-2.9zM1497.1,1119.9h2.9v2.9h-2.9zM1510.1,1122.5h2.9v2.9h-2.9zM1546.5,1122.5h2.9v2.9h-2.9zM1502.3,1125.1h2.9v2.9h-2.9zM1494.5,1127.7h2.9v2.9h-2.9zM1523.1,1127.7h2.9v2.9h-2.9zM1525.7,1127.7h2.9v2.9h-2.9zM1530.9,1127.7h2.9v2.9h-2.9zM1523.1,1130.3h2.9v2.9h-2.9zM1478.9,1132.9h2.9v2.9h-2.9zM1520.5,1132.9h2.9v2.9h-2.9zM1528.3,1132.9h2.9v2.9h-2.9zM1530.9,1135.5h2.9v2.9h-2.9zM1468.5,1138.1h2.9v2.9h-2.9zM1543.9,1138.1h2.9v2.9h-2.9zM1575.1,1138.1h2.9v2.9h-2.9zM1484.1,1140.7h2.9v2.9h-2.9zM1507.5,1140.7h2.9v2.9h-2.9zM1517.9,1140.7h2.9v2.9h-2.9zM1528.3,1140.7h2.9v2.9h-2.9zM1491.9,1143.3h2.9v2.9h-2.9zM1497.1,1143.3h2.9v2.9h-2.9zM1510.1,1143.3h2.9v2.9h-2.9zM1530.9,1143.3h2.9v2.9h-2.9zM1484.1,1145.9h2.9v2.9h-2.9zM1512.7,1145.9h2.9v2.9h-2.9zM1517.9,1145.9h2.9v2.9h-2.9zM1541.3,1145.9h2.9v2.9h-2.9zM1551.7,1148.5h2.9v2.9h-2.9zM1520.5,1151.1h2.9v2.9h-2.9zM1525.7,1151.1h2.9v2.9h-2.9zM1530.9,1153.7h2.9v2.9h-2.9zM1541.3,1153.7h2.9v2.9h-2.9zM1543.9,1153.7h2.9v2.9h-2.9zM1481.5,1156.3h2.9v2.9h-2.9zM1515.3,1156.3h2.9v2.9h-2.9zM1520.5,1156.3h2.9v2.9h-2.9zM1559.5,1156.3h2.9v2.9h-2.9zM1463.3,1158.9h2.9v2.9h-2.9zM1486.7,1158.9h2.9v2.9h-2.9zM1494.5,1158.9h2.9v2.9h-2.9zM1504.9,1158.9h2.9v2.9h-2.9zM1569.9,1158.9h2.9v2.9h-2.9zM1465.9,1164.1h2.9v2.9h-2.9zM1484.1,1164.1h2.9v2.9h-2.9zM1541.3,1164.1h2.9v2.9h-2.9zM1546.5,1164.1h2.9v2.9h-2.9zM1559.5,1164.1h2.9v2.9h-2.9zM1478.9,1166.7h2.9v2.9h-2.9zM1546.5,1166.7h2.9v2.9h-2.9zM1549.1,1166.7h2.9v2.9h-2.9zM1564.7,1166.7h2.9v2.9h-2.9zM1447.7,1169.3h2.9v2.9h-2.9zM1507.5,1169.3h2.9v2.9h-2.9zM1525.7,1169.3h2.9v2.9h-2.9zM1541.3,1169.3h2.9v2.9h-2.9zM1559.5,1169.3h2.9v2.9h-2.9zM1546.5,1171.9h2.9v2.9h-2.9zM1567.3,1171.9h2.9v2.9h-2.9zM1481.5,1174.5h2.9v2.9h-2.9zM1504.9,1174.5h2.9v2.9h-2.9zM1465.9,1177.1h2.9v2.9h-2.9zM1476.3,1177.1h2.9v2.9h-2.9zM1549.1,1177.1h2.9v2.9h-2.9zM1458.1,1179.7h2.9v2.9h-2.9zM1564.7,1179.7h2.9v2.9h-2.9zM1442.5,1182.3h2.9v2.9h-2.9zM1471.1,1182.3h2.9v2.9h-2.9zM1478.9,1182.3h2.9v2.9h-2.9zM1554.3,1182.3h2.9v2.9h-2.9zM1564.7,1182.3h2.9v2.9h-2.9zM1471.1,1184.9h2.9v2.9h-2.9zM1476.3,1184.9h2.9v2.9h-2.9zM1564.7,1184.9h2.9v2.9h-2.9zM1434.7,1187.5h2.9v2.9h-2.9zM1442.5,1187.5h2.9v2.9h-2.9zM1452.9,1187.5h2.9v2.9h-2.9zM1476.3,1187.5h2.9v2.9h-2.9zM1559.5,1187.5h2.9v2.9h-2.9zM1562.1,1187.5h2.9v2.9h-2.9zM1567.3,1187.5h2.9v2.9h-2.9zM1538.7,1190.1h2.9v2.9h-2.9zM1559.5,1190.1h2.9v2.9h-2.9zM1460.7,1192.7h2.9v2.9h-2.9zM1463.3,1192.7h2.9v2.9h-2.9zM1465.9,1192.7h2.9v2.9h-2.9zM1468.5,1192.7h2.9v2.9h-2.9zM1556.9,1192.7h2.9v2.9h-2.9zM1564.7,1192.7h2.9v2.9h-2.9zM1575.1,1192.7h2.9v2.9h-2.9zM1445.1,1195.3h2.9v2.9h-2.9zM1465.9,1195.3h2.9v2.9h-2.9zM1447.7,1197.9h2.9v2.9h-2.9zM1471.1,1197.9h2.9v2.9h-2.9zM1569.9,1197.9h2.9v2.9h-2.9zM1580.3,1197.9h2.9v2.9h-2.9zM1455.5,1200.5h2.9v2.9h-2.9zM1551.7,1200.5h2.9v2.9h-2.9zM1572.5,1200.5h2.9v2.9h-2.9zM1447.7,1203.1h2.9v2.9h-2.9zM1460.7,1203.1h2.9v2.9h-2.9zM1473.7,1203.1h2.9v2.9h-2.9zM1564.7,1203.1h2.9v2.9h-2.9zM1564.7,1205.7h2.9v2.9h-2.9zM1567.3,1205.7h2.9v2.9h-2.9zM1450.3,1208.3h2.9v2.9h-2.9zM1559.5,1208.3h2.9v2.9h-2.9zM1429.5,1210.9h2.9v2.9h-2.9zM1562.1,1210.9h2.9v2.9h-2.9zM1564.7,1210.9h2.9v2.9h-2.9zM1473.7,1213.5h2.9v2.9h-2.9zM1562.1,1213.5h2.9v2.9h-2.9zM1452.9,1216.1h2.9v2.9h-2.9zM1481.5,1216.1h2.9v2.9h-2.9zM1567.3,1216.1h2.9v2.9h-2.9zM1452.9,1218.7h2.9v2.9h-2.9zM1452.9,1221.3h2.9v2.9h-2.9zM1463.3,1223.9h2.9v2.9h-2.9zM1554.3,1223.9h2.9v2.9h-2.9zM1559.5,1223.9h2.9v2.9h-2.9zM1575.1,1223.9h2.9v2.9h-2.9zM1582.9,1223.9h2.9v2.9h-2.9zM1450.3,1226.5h2.9v2.9h-2.9zM1455.5,1226.5h2.9v2.9h-2.9zM1458.1,1226.5h2.9v2.9h-2.9zM1463.3,1226.5h2.9v2.9h-2.9zM1556.9,1226.5h2.9v2.9h-2.9zM1452.9,1229.1h2.9v2.9h-2.9zM1572.5,1229.1h2.9v2.9h-2.9zM1577.7,1229.1h2.9v2.9h-2.9zM1437.3,1231.7h2.9v2.9h-2.9zM1447.7,1231.7h2.9v2.9h-2.9zM1450.3,1231.7h2.9v2.9h-2.9zM1455.5,1231.7h2.9v2.9h-2.9zM1575.1,1231.7h2.9v2.9h-2.9zM1580.3,1231.7h2.9v2.9h-2.9zM1585.5,1231.7h2.9v2.9h-2.9zM1447.7,1234.3h2.9v2.9h-2.9zM1567.3,1234.3h2.9v2.9h-2.9zM1572.5,1234.3h2.9v2.9h-2.9zM1447.7,1236.9h2.9v2.9h-2.9zM1463.3,1236.9h2.9v2.9h-2.9zM1559.5,1236.9h2.9v2.9h-2.9zM1575.1,1236.9h2.9v2.9h-2.9zM1450.3,1239.5h2.9v2.9h-2.9zM1455.5,1242.1h2.9v2.9h-2.9zM1593.3,1242.1h2.9v2.9h-2.9zM1460.7,1244.7h2.9v2.9h-2.9zM1577.7,1247.3h2.9v2.9h-2.9zM1447.7,1249.9h2.9v2.9h-2.9zM1452.9,1249.9h2.9v2.9h-2.9zM1455.5,1249.9h2.9v2.9h-2.9zM1554.3,1249.9h2.9v2.9h-2.9zM1562.1,1249.9h2.9v2.9h-2.9zM1567.3,1249.9h2.9v2.9h-2.9zM1580.3,1249.9h2.9v2.9h-2.9zM1437.3,1252.5h2.9v2.9h-2.9zM1562.1,1252.5h2.9v2.9h-2.9zM1567.3,1252.5h2.9v2.9h-2.9zM1569.9,1252.5h2.9v2.9h-2.9zM1585.5,1252.5h2.9v2.9h-2.9zM1593.3,1252.5h2.9v2.9h-2.9zM1437.3,1255.1h2.9v2.9h-2.9zM1442.5,1255.1h2.9v2.9h-2.9zM1432.1,1257.7h2.9v2.9h-2.9zM1455.5,1257.7h2.9v2.9h-2.9zM1567.3,1257.7h2.9v2.9h-2.9zM1450.3,1260.3h2.9v2.9h-2.9zM1588.1,1260.3h2.9v2.9h-2.9zM1595.9,1260.3h2.9v2.9h-2.9zM1601.1,1260.3h2.9v2.9h-2.9zM1437.3,1262.9h2.9v2.9h-2.9zM1450.3,1262.9h2.9v2.9h-2.9zM1458.1,1262.9h2.9v2.9h-2.9zM1564.7,1262.9h2.9v2.9h-2.9zM1452.9,1265.5h2.9v2.9h-2.9zM1575.1,1265.5h2.9v2.9h-2.9zM1577.7,1265.5h2.9v2.9h-2.9zM1580.3,1265.5h2.9v2.9h-2.9zM1442.5,1268.1h2.9v2.9h-2.9zM1442.5,1270.7h2.9v2.9h-2.9zM1445.1,1270.7h2.9v2.9h-2.9zM1572.5,1270.7h2.9v2.9h-2.9zM1575.1,1270.7h2.9v2.9h-2.9zM1593.3,1270.7h2.9v2.9h-2.9zM1603.7,1270.7h2.9v2.9h-2.9zM1432.1,1273.3h2.9v2.9h-2.9zM1458.1,1273.3h2.9v2.9h-2.9zM1559.5,1273.3h2.9v2.9h-2.9zM1575.1,1273.3h2.9v2.9h-2.9zM1567.3,1275.9h2.9v2.9h-2.9zM1580.3,1275.9h2.9v2.9h-2.9zM1439.9,1278.5h2.9v2.9h-2.9zM1460.7,1278.5h2.9v2.9h-2.9zM1450.3,1281.1h2.9v2.9h-2.9zM1572.5,1281.1h2.9v2.9h-2.9zM1582.9,1281.1h2.9v2.9h-2.9zM1455.5,1283.7h2.9v2.9h-2.9zM1567.3,1283.7h2.9v2.9h-2.9zM1582.9,1283.7h2.9v2.9h-2.9zM1575.1,1286.3h2.9v2.9h-2.9zM1437.3,1288.9h2.9v2.9h-2.9zM1447.7,1288.9h2.9v2.9h-2.9zM1452.9,1288.9h2.9v2.9h-2.9zM1580.3,1288.9h2.9v2.9h-2.9zM1450.3,1291.5h2.9v2.9h-2.9zM1458.1,1291.5h2.9v2.9h-2.9zM1450.3,1294.1h2.9v2.9h-2.9zM1572.5,1294.1h2.9v2.9h-2.9zM1455.5,1296.7h2.9v2.9h-2.9zM1554.3,1296.7h2.9v2.9h-2.9zM1588.1,1296.7h2.9v2.9h-2.9zM1452.9,1299.3h2.9v2.9h-2.9zM1465.9,1299.3h2.9v2.9h-2.9zM1585.5,1299.3h2.9v2.9h-2.9zM1439.9,1301.9h2.9v2.9h-2.9zM1575.1,1301.9h2.9v2.9h-2.9zM1580.3,1301.9h2.9v2.9h-2.9zM1585.5,1301.9h2.9v2.9h-2.9zM1452.9,1304.5h2.9v2.9h-2.9zM1577.7,1304.5h2.9v2.9h-2.9zM1585.5,1304.5h2.9v2.9h-2.9zM1590.7,1304.5h2.9v2.9h-2.9zM1471.1,1307.1h2.9v2.9h-2.9zM1556.9,1307.1h2.9v2.9h-2.9zM1580.3,1307.1h2.9v2.9h-2.9zM1556.9,1309.7h2.9v2.9h-2.9zM1564.7,1312.3h2.9v2.9h-2.9zM1588.1,1312.3h2.9v2.9h-2.9zM1458.1,1314.9h2.9v2.9h-2.9zM1471.1,1314.9h2.9v2.9h-2.9zM1551.7,1314.9h2.9v2.9h-2.9zM1567.3,1314.9h2.9v2.9h-2.9zM1572.5,1314.9h2.9v2.9h-2.9zM1593.3,1314.9h2.9v2.9h-2.9zM1458.1,1317.5h2.9v2.9h-2.9zM1450.3,1320.1h2.9v2.9h-2.9zM1603.7,1320.1h2.9v2.9h-2.9zM1569.9,1322.7h2.9v2.9h-2.9zM1458.1,1325.3h2.9v2.9h-2.9zM1476.3,1325.3h2.9v2.9h-2.9zM1543.9,1325.3h2.9v2.9h-2.9zM1546.5,1325.3h2.9v2.9h-2.9zM1577.7,1325.3h2.9v2.9h-2.9zM1447.7,1327.9h2.9v2.9h-2.9zM1460.7,1327.9h2.9v2.9h-2.9zM1471.1,1327.9h2.9v2.9h-2.9zM1554.3,1327.9h2.9v2.9h-2.9zM1564.7,1327.9h2.9v2.9h-2.9zM1476.3,1330.5h2.9v2.9h-2.9zM1536.1,1330.5h2.9v2.9h-2.9zM1551.7,1330.5h2.9v2.9h-2.9zM1564.7,1330.5h2.9v2.9h-2.9zM1458.1,1333.1h2.9v2.9h-2.9zM1468.5,1333.1h2.9v2.9h-2.9zM1478.9,1333.1h2.9v2.9h-2.9zM1533.5,1333.1h2.9v2.9h-2.9zM1546.5,1333.1h2.9v2.9h-2.9zM1559.5,1333.1h2.9v2.9h-2.9zM1564.7,1333.1h2.9v2.9h-2.9zM1471.1,1335.7h2.9v2.9h-2.9zM1476.3,1335.7h2.9v2.9h-2.9zM1541.3,1335.7h2.9v2.9h-2.9zM1551.7,1335.7h2.9v2.9h-2.9zM1450.3,1338.3h2.9v2.9h-2.9zM1484.1,1338.3h2.9v2.9h-2.9zM1533.5,1338.3h2.9v2.9h-2.9zM1559.5,1338.3h2.9v2.9h-2.9zM1447.7,1340.9h2.9v2.9h-2.9zM1484.1,1340.9h2.9v2.9h-2.9zM1507.5,1340.9h2.9v2.9h-2.9zM1575.1,1340.9h2.9v2.9h-2.9zM1595.9,1340.9h2.9v2.9h-2.9zM1484.1,1343.5h2.9v2.9h-2.9zM1502.3,1343.5h2.9v2.9h-2.9zM1536.1,1343.5h2.9v2.9h-2.9zM1551.7,1343.5h2.9v2.9h-2.9zM1465.9,1346.1h2.9v2.9h-2.9zM1504.9,1346.1h2.9v2.9h-2.9zM1538.7,1346.1h2.9v2.9h-2.9zM1556.9,1346.1h2.9v2.9h-2.9zM1471.1,1348.7h2.9v2.9h-2.9zM1473.7,1348.7h2.9v2.9h-2.9zM1484.1,1348.7h2.9v2.9h-2.9zM1533.5,1348.7h2.9v2.9h-2.9zM1536.1,1348.7h2.9v2.9h-2.9zM1549.1,1348.7h2.9v2.9h-2.9zM1476.3,1351.3h2.9v2.9h-2.9zM1484.1,1351.3h2.9v2.9h-2.9zM1489.3,1351.3h2.9v2.9h-2.9zM1499.7,1351.3h2.9v2.9h-2.9zM1504.9,1351.3h2.9v2.9h-2.9zM1510.1,1351.3h2.9v2.9h-2.9zM1530.9,1351.3h2.9v2.9h-2.9zM1543.9,1351.3h2.9v2.9h-2.9zM1546.5,1351.3h2.9v2.9h-2.9zM1551.7,1351.3h2.9v2.9h-2.9zM1559.5,1351.3h2.9v2.9h-2.9zM1575.1,1351.3h2.9v2.9h-2.9zM1486.7,1353.9h2.9v2.9h-2.9zM1497.1,1353.9h2.9v2.9h-2.9zM1507.5,1353.9h2.9v2.9h-2.9zM1530.9,1353.9h2.9v2.9h-2.9zM1536.1,1353.9h2.9v2.9h-2.9zM1541.3,1353.9h2.9v2.9h-2.9zM1554.3,1353.9h2.9v2.9h-2.9zM1491.9,1356.5h2.9v2.9h-2.9zM1499.7,1356.5h2.9v2.9h-2.9zM1517.9,1356.5h2.9v2.9h-2.9zM1520.5,1356.5h2.9v2.9h-2.9zM1525.7,1356.5h2.9v2.9h-2.9zM1533.5,1356.5h2.9v2.9h-2.9zM1559.5,1356.5h2.9v2.9h-2.9zM1510.1,1359.1h2.9v2.9h-2.9zM1512.7,1359.1h2.9v2.9h-2.9zM1517.9,1359.1h2.9v2.9h-2.9zM1468.5,1361.7h2.9v2.9h-2.9zM1489.3,1361.7h2.9v2.9h-2.9zM1502.3,1361.7h2.9v2.9h-2.9zM1523.1,1361.7h2.9v2.9h-2.9zM1577.7,1361.7h2.9v2.9h-2.9zM1465.9,1364.3h2.9v2.9h-2.9zM1481.5,1364.3h2.9v2.9h-2.9zM1486.7,1364.3h2.9v2.9h-2.9zM1559.5,1364.3h2.9v2.9h-2.9zM1564.7,1364.3h2.9v2.9h-2.9zM1481.5,1366.9h2.9v2.9h-2.9zM1541.3,1366.9h2.9v2.9h-2.9zM1476.3,1369.5h2.9v2.9h-2.9zM1510.1,1369.5h2.9v2.9h-2.9zM1515.3,1369.5h2.9v2.9h-2.9zM1491.9,1372.1h2.9v2.9h-2.9zM1533.5,1372.1h2.9v2.9h-2.9zM1551.7,1372.1h2.9v2.9h-2.9zM1478.9,1374.7h2.9v2.9h-2.9zM1515.3,1374.7h2.9v2.9h-2.9zM1530.9,1374.7h2.9v2.9h-2.9zM1491.9,1377.3h2.9v2.9h-2.9zM1520.5,1377.3h2.9v2.9h-2.9zM1549.1,1377.3h2.9v2.9h-2.9zM1507.5,1382.5h2.9v2.9h-2.9zM1559.5,1392.9h2.9v2.9h-2.9z"/>
<path fill="#fff7bc" d="M1502.3,1122.5h2.9v2.9h-2.9zM1484.1,1148.5h2.9v2.9h-2.9zM1481.5,1151.1h2.9v2.9h-2.9zM1502.3,1153.7h2.9v2.9h-2.9zM1528.3,1153.7h2.9v2.9h-2.9zM1536.1,1153.7h2.9v2.9h-2.9zM1484.1,1156.3h2.9v2.9h-2.9zM1481.5,1158.9h2.9v2.9h-2.9zM1502.3,1158.9h2.9v2.9h-2.9zM1525.7,1158.9h2.9v2.9h-2.9zM1497.1,1161.5h2.9v2.9h-2.9zM1507.5,1161.5h2.9v2.9h-2.9zM1510.1,1161.5h2.9v2.9h-2.9zM1515.3,1161.5h2.9v2.9h-2.9zM1523.1,1161.5h2.9v2.9h-2.9zM1525.7,1161.5h2.9v2.9h-2.9zM1510.1,1164.1h2.9v2.9h-2.9zM1517.9,1164.1h2.9v2.9h-2.9zM1523.1,1164.1h2.9v2.9h-2.9zM1538.7,1164.1h2.9v2.9h-2.9zM1551.7,1164.1h2.9v2.9h-2.9zM1494.5,1166.7h2.9v2.9h-2.9zM1491.9,1169.3h2.9v2.9h-2.9zM1489.3,1171.9h2.9v2.9h-2.9zM1497.1,1171.9h2.9v2.9h-2.9zM1520.5,1171.9h2.9v2.9h-2.9zM1494.5,1174.5h2.9v2.9h-2.9zM1517.9,1174.5h2.9v2.9h-2.9zM1562.1,1174.5h2.9v2.9h-2.9zM1541.3,1177.1h2.9v2.9h-2.9zM1538.7,1179.7h2.9v2.9h-2.9zM1562.1,1179.7h2.9v2.9h-2.9zM1515.3,1182.3h2.9v2.9h-2.9zM1538.7,1182.3h2.9v2.9h-2.9zM1543.9,1182.3h2.9v2.9h-2.9zM1546.5,1182.3h2.9v2.9h-2.9zM1504.9,1184.9h2.9v2.9h-2.9zM1549.1,1184.9h2.9v2.9h-2.9zM1473.7,1187.5h2.9v2.9h-2.9zM1473.7,1190.1h2.9v2.9h-2.9zM1476.3,1190.1h2.9v2.9h-2.9zM1494.5,1190.1h2.9v2.9h-2.9zM1549.1,1190.1h2.9v2.9h-2.9zM1476.3,1192.7h2.9v2.9h-2.9zM1549.1,1192.7h2.9v2.9h-2.9zM1478.9,1195.3h2.9v2.9h-2.9zM1554.3,1203.1h2.9v2.9h-2.9zM1551.7,1205.7h2.9v2.9h-2.9zM1554.3,1205.7h2.9v2.9h-2.9zM1549.1,1208.3h2.9v2.9h-2.9zM1554.3,1208.3h2.9v2.9h-2.9zM1549.1,1210.9h2.9v2.9h-2.9zM1460.7,1213.5h2.9v2.9h-2.9zM1478.9,1213.5h2.9v2.9h-2.9zM1549.1,1213.5h2.9v2.9h-2.9zM1460.7,1216.1h2.9v2.9h-2.9zM1564.7,1216.1h2.9v2.9h-2.9zM1471.1,1221.3h2.9v2.9h-2.9zM1473.7,1221.3h2.9v2.9h-2.9zM1543.9,1221.3h2.9v2.9h-2.9zM1559.5,1221.3h2.9v2.9h-2.9zM1455.5,1229.1h2.9v2.9h-2.9zM1554.3,1229.1h2.9v2.9h-2.9zM1471.1,1231.7h2.9v2.9h-2.9zM1463.3,1234.3h2.9v2.9h-2.9zM1468.5,1234.3h2.9v2.9h-2.9zM1562.1,1239.5h2.9v2.9h-2.9zM1569.9,1239.5h2.9v2.9h-2.9zM1567.3,1244.7h2.9v2.9h-2.9zM1455.5,1247.3h2.9v2.9h-2.9zM1468.5,1247.3h2.9v2.9h-2.9zM1463.3,1252.5h2.9v2.9h-2.9zM1460.7,1255.1h2.9v2.9h-2.9zM1567.3,1255.1h2.9v2.9h-2.9zM1450.3,1257.7h2.9v2.9h-2.9zM1575.1,1257.7h2.9v2.9h-2.9zM1460.7,1260.3h2.9v2.9h-2.9zM1562.1,1260.3h2.9v2.9h-2.9zM1460.7,1262.9h2.9v2.9h-2.9zM1455.5,1265.5h2.9v2.9h-2.9zM1567.3,1265.5h2.9v2.9h-2.9zM1460.7,1268.1h2.9v2.9h-2.9zM1567.3,1268.1h2.9v2.9h-2.9zM1577.7,1268.1h2.9v2.9h-2.9zM1463.3,1270.7h2.9v2.9h-2.9zM1468.5,1270.7h2.9v2.9h-2.9zM1556.9,1273.3h2.9v2.9h-2.9zM1577.7,1273.3h2.9v2.9h-2.9zM1455.5,1275.9h2.9v2.9h-2.9zM1460.7,1275.9h2.9v2.9h-2.9zM1569.9,1275.9h2.9v2.9h-2.9zM1569.9,1278.5h2.9v2.9h-2.9zM1460.7,1286.3h2.9v2.9h-2.9zM1463.3,1286.3h2.9v2.9h-2.9zM1465.9,1286.3h2.9v2.9h-2.9zM1569.9,1288.9h2.9v2.9h-2.9zM1465.9,1291.5h2.9v2.9h-2.9zM1463.3,1294.1h2.9v2.9h-2.9zM1465.9,1294.1h2.9v2.9h-2.9zM1468.5,1296.7h2.9v2.9h-2.9zM1471.1,1301.9h2.9v2.9h-2.9zM1549.1,1301.9h2.9v2.9h-2.9zM1554.3,1301.9h2.9v2.9h-2.9zM1460.7,1307.1h2.9v2.9h-2.9zM1476.3,1309.7h2.9v2.9h-2.9zM1551.7,1309.7h2.9v2.9h-2.9zM1559.5,1309.7h2.9v2.9h-2.9zM1476.3,1312.3h2.9v2.9h-2.9zM1460.7,1314.9h2.9v2.9h-2.9zM1494.5,1317.5h2.9v2.9h-2.9zM1533.5,1317.5h2.9v2.9h-2.9zM1551.7,1317.5h2.9v2.9h-2.9zM1549.1,1322.7h2.9v2.9h-2.9zM1460.7,1325.3h2.9v2.9h-2.9zM1481.5,1325.3h2.9v2.9h-2.9zM1549.1,1325.3h2.9v2.9h-2.9zM1528.3,1330.5h2.9v2.9h-2.9zM1489.3,1333.1h2.9v2.9h-2.9zM1515.3,1333.1h2.9v2.9h-2.9zM1520.5,1333.1h2.9v2.9h-2.9zM1520.5,1335.7h2.9v2.9h-2.9zM1528.3,1338.3h2.9v2.9h-2.9zM1491.9,1340.9h2.9v2.9h-2.9zM1523.1,1340.9h2.9v2.9h-2.9zM1510.1,1343.5h2.9v2.9h-2.9zM1520.5,1343.5h2.9v2.9h-2.9zM1484.1,1346.1h2.9v2.9h-2.9zM1525.7,1346.1h2.9v2.9h-2.9zM1517.9,1348.7h2.9v2.9h-2.9zM1525.7,1351.3h2.9v2.9h-2.9zM1541.3,1351.3h2.9v2.9h-2.9zM1517.9,1353.9h2.9v2.9h-2.9z"/>
<path fill="#fee391" d="M1520.5,1140.7h2.9v2.9h-2.9zM1494.5,1148.5h2.9v2.9h-2.9zM1504.9,1148.5h2.9v2.9h-2.9zM1517.9,1148.5h2.9v2.9h-2.9zM1523.1,1148.5h2.9v2.9h-2.9zM1525.7,1148.5h2.9v2.9h-2.9zM1494.5,1153.7h2.9v2.9h-2.9zM1491.9,1156.3h2.9v2.9h-2.9zM1502.3,1156.3h2.9v2.9h-2.9zM1517.9,1156.3h2.9v2.9h-2.9zM1523.1,1156.3h2.9v2.9h-2.9zM1525.7,1156.3h2.9v2.9h-2.9zM1530.9,1156.3h2.9v2.9h-2.9zM1497.1,1158.9h2.9v2.9h-2.9zM1499.7,1158.9h2.9v2.9h-2.9zM1515.3,1158.9h2.9v2.9h-2.9zM1491.9,1161.5h2.9v2.9h-2.9zM1499.7,1161.5h2.9v2.9h-2.9zM1520.5,1161.5h2.9v2.9h-2.9zM1525.7,1164.1h2.9v2.9h-2.9zM1530.9,1164.1h2.9v2.9h-2.9zM1491.9,1166.7h2.9v2.9h-2.9zM1530.9,1166.7h2.9v2.9h-2.9zM1499.7,1169.3h2.9v2.9h-2.9zM1491.9,1171.9h2.9v2.9h-2.9zM1515.3,1171.9h2.9v2.9h-2.9zM1512.7,1174.5h2.9v2.9h-2.9zM1520.5,1174.5h2.9v2.9h-2.9zM1525.7,1174.5h2.9v2.9h-2.9zM1536.1,1174.5h2.9v2.9h-2.9zM1484.1,1177.1h2.9v2.9h-2.9zM1494.5,1177.1h2.9v2.9h-2.9zM1538.7,1177.1h2.9v2.9h-2.9zM1543.9,1177.1h2.9v2.9h-2.9zM1499.7,1179.7h2.9v2.9h-2.9zM1517.9,1179.7h2.9v2.9h-2.9zM1525.7,1179.7h2.9v2.9h-2.9zM1543.9,1179.7h2.9v2.9h-2.9zM1507.5,1182.3h2.9v2.9h-2.9zM1510.1,1182.3h2.9v2.9h-2.9zM1541.3,1182.3h2.9v2.9h-2.9zM1478.9,1184.9h2.9v2.9h-2.9zM1481.5,1184.9h2.9v2.9h-2.9zM1510.1,1184.9h2.9v2.9h-2.9zM1546.5,1184.9h2.9v2.9h-2.9zM1551.7,1184.9h2.9v2.9h-2.9zM1478.9,1187.5h2.9v2.9h-2.9zM1530.9,1187.5h2.9v2.9h-2.9zM1533.5,1187.5h2.9v2.9h-2.9zM1486.7,1190.1h2.9v2.9h-2.9zM1499.7,1190.1h2.9v2.9h-2.9zM1497.1,1192.7h2.9v2.9h-2.9zM1538.7,1192.7h2.9v2.9h-2.9zM1471.1,1195.3h2.9v2.9h-2.9zM1497.1,1195.3h2.9v2.9h-2.9zM1517.9,1195.3h2.9v2.9h-2.9zM1533.5,1195.3h2.9v2.9h-2.9zM1543.9,1195.3h2.9v2.9h-2.9zM1546.5,1195.3h2.9v2.9h-2.9zM1554.3,1195.3h2.9v2.9h-2.9zM1473.7,1197.9h2.9v2.9h-2.9zM1478.9,1197.9h2.9v2.9h-2.9zM1541.3,1197.9h2.9v2.9h-2.9zM1468.5,1203.1h2.9v2.9h-2.9zM1468.5,1205.7h2.9v2.9h-2.9zM1473.7,1205.7h2.9v2.9h-2.9zM1543.9,1208.3h2.9v2.9h-2.9zM1533.5,1210.9h2.9v2.9h-2.9zM1546.5,1218.7h2.9v2.9h-2.9zM1562.1,1221.3h2.9v2.9h-2.9zM1538.7,1223.9h2.9v2.9h-2.9zM1543.9,1223.9h2.9v2.9h-2.9zM1554.3,1226.5h2.9v2.9h-2.9zM1465.9,1229.1h2.9v2.9h-2.9zM1476.3,1229.1h2.9v2.9h-2.9zM1536.1,1229.1h2.9v2.9h-2.9zM1468.5,1231.7h2.9v2.9h-2.9zM1478.9,1231.7h2.9v2.9h-2.9zM1473.7,1234.3h2.9v2.9h-2.9zM1564.7,1234.3h2.9v2.9h-2.9zM1460.7,1236.9h2.9v2.9h-2.9zM1484.1,1236.9h2.9v2.9h-2.9zM1554.3,1236.9h2.9v2.9h-2.9zM1458.1,1239.5h2.9v2.9h-2.9zM1465.9,1239.5h2.9v2.9h-2.9zM1473.7,1239.5h2.9v2.9h-2.9zM1471.1,1242.1h2.9v2.9h-2.9zM1476.3,1242.1h2.9v2.9h-2.9zM1551.7,1242.1h2.9v2.9h-2.9zM1564.7,1242.1h2.9v2.9h-2.9zM1471.1,1244.7h2.9v2.9h-2.9zM1556.9,1244.7h2.9v2.9h-2.9zM1460.7,1247.3h2.9v2.9h-2.9zM1463.3,1247.3h2.9v2.9h-2.9zM1549.1,1247.3h2.9v2.9h-2.9zM1556.9,1247.3h2.9v2.9h-2.9zM1559.5,1247.3h2.9v2.9h-2.9zM1564.7,1249.9h2.9v2.9h-2.9zM1564.7,1252.5h2.9v2.9h-2.9zM1465.9,1255.1h2.9v2.9h-2.9zM1554.3,1255.1h2.9v2.9h-2.9zM1463.3,1257.7h2.9v2.9h-2.9zM1551.7,1257.7h2.9v2.9h-2.9zM1458.1,1260.3h2.9v2.9h-2.9zM1463.3,1260.3h2.9v2.9h-2.9zM1546.5,1260.3h2.9v2.9h-2.9zM1447.7,1262.9h2.9v2.9h-2.9zM1473.7,1262.9h2.9v2.9h-2.9zM1458.1,1265.5h2.9v2.9h-2.9zM1460.7,1265.5h2.9v2.9h-2.9zM1468.5,1265.5h2.9v2.9h-2.9zM1569.9,1268.1h2.9v2.9h-2.9zM1465.9,1270.7h2.9v2.9h-2.9zM1556.9,1270.7h2.9v2.9h-2.9zM1465.9,1275.9h2.9v2.9h-2.9zM1476.3,1275.9h2.9v2.9h-2.9zM1465.9,1278.5h2.9v2.9h-2.9zM1556.9,1278.5h2.9v2.9h-2.9zM1468.5,1281.1h2.9v2.9h-2.9zM1452.9,1286.3h2.9v2.9h-2.9zM1559.5,1286.3h2.9v2.9h-2.9zM1562.1,1286.3h2.9v2.9h-2.9zM1465.9,1288.9h2.9v2.9h-2.9zM1473.7,1288.9h2.9v2.9h-2.9zM1455.5,1291.5h2.9v2.9h-2.9zM1460.7,1294.1h2.9v2.9h-2.9zM1468.5,1294.1h2.9v2.9h-2.9zM1463.3,1299.3h2.9v2.9h-2.9zM1551.7,1299.3h2.9v2.9h-2.9zM1455.5,1301.9h2.9v2.9h-2.9zM1463.3,1301.9h2.9v2.9h-2.9zM1476.3,1301.9h2.9v2.9h-2.9zM1551.7,1301.9h2.9v2.9h-2.9zM1567.3,1301.9h2.9v2.9h-2.9zM1538.7,1307.1h2.9v2.9h-2.9zM1549.1,1307.1h2.9v2.9h-2.9zM1468.5,1309.7h2.9v2.9h-2.9zM1468.5,1312.3h2.9v2.9h-2.9zM1471.1,1312.3h2.9v2.9h-2.9zM1543.9,1312.3h2.9v2.9h-2.9zM1468.5,1314.9h2.9v2.9h-2.9zM1471.1,1317.5h2.9v2.9h-2.9zM1559.5,1317.5h2.9v2.9h-2.9zM1507.5,1320.1h2.9v2.9h-2.9zM1515.3,1320.1h2.9v2.9h-2.9zM1525.7,1320.1h2.9v2.9h-2.9zM1533.5,1320.1h2.9v2.9h-2.9zM1536.1,1320.1h2.9v2.9h-2.9zM1546.5,1320.1h2.9v2.9h-2.9zM1471.1,1322.7h2.9v2.9h-2.9zM1499.7,1322.7h2.9v2.9h-2.9zM1507.5,1322.7h2.9v2.9h-2.9zM1538.7,1322.7h2.9v2.9h-2.9zM1546.5,1322.7h2.9v2.9h-2.9zM1478.9,1325.3h2.9v2.9h-2.9zM1551.7,1325.3h2.9v2.9h-2.9zM1517.9,1327.9h2.9v2.9h-2.9zM1543.9,1327.9h2.9v2.9h-2.9zM1546.5,1327.9h2.9v2.9h-2.9zM1502.3,1330.5h2.9v2.9h-2.9zM1512.7,1330.5h2.9v2.9h-2.9zM1515.3,1330.5h2.9v2.9h-2.9zM1533.5,1330.5h2.9v2.9h-2.9zM1481.5,1333.1h2.9v2.9h-2.9zM1494.5,1333.1h2.9v2.9h-2.9zM1543.9,1333.1h2.9v2.9h-2.9zM1484.1,1335.7h2.9v2.9h-2.9zM1486.7,1335.7h2.9v2.9h-2.9zM1499.7,1335.7h2.9v2.9h-2.9zM1517.9,1335.7h2.9v2.9h-2.9zM1497.1,1338.3h2.9v2.9h-2.9zM1499.7,1338.3h2.9v2.9h-2.9zM1507.5,1338.3h2.9v2.9h-2.9zM1515.3,1338.3h2.9v2.9h-2.9zM1517.9,1338.3h2.9v2.9h-2.9zM1536.1,1338.3h2.9v2.9h-2.9zM1546.5,1338.3h2.9v2.9h-2.9zM1525.7,1340.9h2.9v2.9h-2.9zM1489.3,1343.5h2.9v2.9h-2.9zM1517.9,1346.1h2.9v2.9h-2.9zM1510.1,1348.7h2.9v2.9h-2.9zM1512.7,1348.7h2.9v2.9h-2.9z"/>
<path fill="#fec44f" d="M1510.1,1151.1h2.9v2.9h-2.9zM1517.9,1153.7h2.9v2.9h-2.9zM1528.3,1164.1h2.9v2.9h-2.9zM1486.7,1166.7h2.9v2.9h-2.9zM1497.1,1166.7h2.9v2.9h-2.9zM1512.7,1166.7h2.9v2.9h-2.9zM1515.3,1166.7h2.9v2.9h-2.9zM1528.3,1169.3h2.9v2.9h-2.9zM1533.5,1169.3h2.9v2.9h-2.9zM1494.5,1171.9h2.9v2.9h-2.9zM1502.3,1171.9h2.9v2.9h-2.9zM1538.7,1171.9h2.9v2.9h-2.9zM1489.3,1174.5h2.9v2.9h-2.9zM1497.1,1174.5h2.9v2.9h-2.9zM1512.7,1177.1h2.9v2.9h-2.9zM1533.5,1177.1h2.9v2.9h-2.9zM1494.5,1179.7h2.9v2.9h-2.9zM1528.3,1179.7h2.9v2.9h-2.9zM1502.3,1182.3h2.9v2.9h-2.9zM1512.7,1182.3h2.9v2.9h-2.9zM1520.5,1182.3h2.9v2.9h-2.9zM1484.1,1184.9h2.9v2.9h-2.9zM1486.7,1184.9h2.9v2.9h-2.9zM1497.1,1184.9h2.9v2.9h-2.9zM1512.7,1184.9h2.9v2.9h-2.9zM1533.5,1184.9h2.9v2.9h-2.9zM1549.1,1187.5h2.9v2.9h-2.9zM1507.5,1190.1h2.9v2.9h-2.9zM1520.5,1190.1h2.9v2.9h-2.9zM1530.9,1190.1h2.9v2.9h-2.9zM1484.1,1192.7h2.9v2.9h-2.9zM1515.3,1192.7h2.9v2.9h-2.9zM1489.3,1195.3h2.9v2.9h-2.9zM1528.3,1195.3h2.9v2.9h-2.9zM1476.3,1197.9h2.9v2.9h-2.9zM1484.1,1197.9h2.9v2.9h-2.9zM1494.5,1197.9h2.9v2.9h-2.9zM1497.1,1197.9h2.9v2.9h-2.9zM1549.1,1197.9h2.9v2.9h-2.9zM1533.5,1200.5h2.9v2.9h-2.9zM1476.3,1203.1h2.9v2.9h-2.9zM1476.3,1205.7h2.9v2.9h-2.9zM1533.5,1205.7h2.9v2.9h-2.9zM1536.1,1205.7h2.9v2.9h-2.9zM1473.7,1208.3h2.9v2.9h-2.9zM1486.7,1208.3h2.9v2.9h-2.9zM1489.3,1208.3h2.9v2.9h-2.9zM1494.5,1208.3h2.9v2.9h-2.9zM1491.9,1210.9h2.9v2.9h-2.9zM1541.3,1210.9h2.9v2.9h-2.9zM1546.5,1210.9h2.9v2.9h-2.9zM1465.9,1213.5h2.9v2.9h-2.9zM1476.3,1216.1h2.9v2.9h-2.9zM1543.9,1216.1h2.9v2.9h-2.9zM1549.1,1216.1h2.9v2.9h-2.9zM1533.5,1218.7h2.9v2.9h-2.9zM1468.5,1221.3h2.9v2.9h-2.9zM1476.3,1221.3h2.9v2.9h-2.9zM1554.3,1221.3h2.9v2.9h-2.9zM1541.3,1223.9h2.9v2.9h-2.9zM1478.9,1226.5h2.9v2.9h-2.9zM1546.5,1226.5h2.9v2.9h-2.9zM1562.1,1226.5h2.9v2.9h-2.9zM1471.1,1229.1h2.9v2.9h-2.9zM1478.9,1229.1h2.9v2.9h-2.9zM1556.9,1229.1h2.9v2.9h-2.9zM1465.9,1231.7h2.9v2.9h-2.9zM1481.5,1231.7h2.9v2.9h-2.9zM1484.1,1234.3h2.9v2.9h-2.9zM1554.3,1234.3h2.9v2.9h-2.9zM1549.1,1236.9h2.9v2.9h-2.9zM1556.9,1236.9h2.9v2.9h-2.9zM1567.3,1236.9h2.9v2.9h-2.9zM1481.5,1239.5h2.9v2.9h-2.9zM1538.7,1239.5h2.9v2.9h-2.9zM1551.7,1239.5h2.9v2.9h-2.9zM1554.3,1239.5h2.9v2.9h-2.9zM1564.7,1239.5h2.9v2.9h-2.9zM1536.1,1242.1h2.9v2.9h-2.9zM1549.1,1242.1h2.9v2.9h-2.9zM1554.3,1242.1h2.9v2.9h-2.9zM1468.5,1244.7h2.9v2.9h-2.9zM1473.7,1244.7h2.9v2.9h-2.9zM1559.5,1244.7h2.9v2.9h-2.9zM1471.1,1247.3h2.9v2.9h-2.9zM1476.3,1247.3h2.9v2.9h-2.9zM1549.1,1249.9h2.9v2.9h-2.9zM1556.9,1249.9h2.9v2.9h-2.9zM1577.7,1249.9h2.9v2.9h-2.9zM1559.5,1252.5h2.9v2.9h-2.9zM1476.3,1255.1h2.9v2.9h-2.9zM1554.3,1257.7h2.9v2.9h-2.9zM1551.7,1260.3h2.9v2.9h-2.9zM1559.5,1260.3h2.9v2.9h-2.9zM1564.7,1260.3h2.9v2.9h-2.9zM1465.9,1262.9h2.9v2.9h-2.9zM1463.3,1273.3h2.9v2.9h-2.9zM1468.5,1273.3h2.9v2.9h-2.9zM1562.1,1273.3h2.9v2.9h-2.9zM1450.3,1275.9h2.9v2.9h-2.9zM1478.9,1275.9h2.9v2.9h-2.9zM1562.1,1275.9h2.9v2.9h-2.9zM1572.5,1275.9h2.9v2.9h-2.9zM1468.5,1278.5h2.9v2.9h-2.9zM1471.1,1278.5h2.9v2.9h-2.9zM1554.3,1278.5h2.9v2.9h-2.9zM1559.5,1278.5h2.9v2.9h-2.9zM1564.7,1278.5h2.9v2.9h-2.9zM1455.5,1281.1h2.9v2.9h-2.9zM1463.3,1281.1h2.9v2.9h-2.9zM1471.1,1281.1h2.9v2.9h-2.9zM1556.9,1281.1h2.9v2.9h-2.9zM1559.5,1281.1h2.9v2.9h-2.9zM1465.9,1283.7h2.9v2.9h-2.9zM1471.1,1283.7h2.9v2.9h-2.9zM1551.7,1283.7h2.9v2.9h-2.9zM1528.3,1286.3h2.9v2.9h-2.9zM1551.7,1286.3h2.9v2.9h-2.9zM1556.9,1286.3h2.9v2.9h-2.9zM1567.3,1286.3h2.9v2.9h-2.9zM1554.3,1291.5h2.9v2.9h-2.9zM1562.1,1291.5h2.9v2.9h-2.9zM1471.1,1294.1h2.9v2.9h-2.9zM1549.1,1294.1h2.9v2.9h-2.9zM1551.7,1294.1h2.9v2.9h-2.9zM1562.1,1294.1h2.9v2.9h-2.9zM1569.9,1294.1h2.9v2.9h-2.9zM1460.7,1296.7h2.9v2.9h-2.9zM1541.3,1296.7h2.9v2.9h-2.9zM1473.7,1299.3h2.9v2.9h-2.9zM1541.3,1299.3h2.9v2.9h-2.9zM1559.5,1299.3h2.9v2.9h-2.9zM1468.5,1301.9h2.9v2.9h-2.9zM1478.9,1301.9h2.9v2.9h-2.9zM1468.5,1304.5h2.9v2.9h-2.9zM1536.1,1304.5h2.9v2.9h-2.9zM1481.5,1307.1h2.9v2.9h-2.9zM1484.1,1307.1h2.9v2.9h-2.9zM1520.5,1307.1h2.9v2.9h-2.9zM1546.5,1307.1h2.9v2.9h-2.9zM1471.1,1309.7h2.9v2.9h-2.9zM1494.5,1309.7h2.9v2.9h-2.9zM1533.5,1309.7h2.9v2.9h-2.9zM1543.9,1309.7h2.9v2.9h-2.9zM1551.7,1312.3h2.9v2.9h-2.9zM1481.5,1314.9h2.9v2.9h-2.9zM1504.9,1314.9h2.9v2.9h-2.9zM1530.9,1314.9h2.9v2.9h-2.9zM1491.9,1317.5h2.9v2.9h-2.9zM1504.9,1317.5h2.9v2.9h-2.9zM1528.3,1317.5h2.9v2.9h-2.9zM1546.5,1317.5h2.9v2.9h-2.9zM1476.3,1320.1h2.9v2.9h-2.9zM1486.7,1320.1h2.9v2.9h-2.9zM1504.9,1320.1h2.9v2.9h-2.9zM1520.5,1320.1h2.9v2.9h-2.9zM1551.7,1320.1h2.9v2.9h-2.9zM1473.7,1322.7h2.9v2.9h-2.9zM1486.7,1322.7h2.9v2.9h-2.9zM1520.5,1322.7h2.9v2.9h-2.9zM1528.3,1322.7h2.9v2.9h-2.9zM1541.3,1322.7h2.9v2.9h-2.9zM1484.1,1325.3h2.9v2.9h-2.9zM1502.3,1325.3h2.9v2.9h-2.9zM1504.9,1325.3h2.9v2.9h-2.9zM1515.3,1325.3h2.9v2.9h-2.9zM1528.3,1325.3h2.9v2.9h-2.9zM1530.9,1325.3h2.9v2.9h-2.9zM1489.3,1327.9h2.9v2.9h-2.9zM1538.7,1327.9h2.9v2.9h-2.9zM1510.1,1330.5h2.9v2.9h-2.9zM1520.5,1330.5h2.9v2.9h-2.9zM1523.1,1330.5h2.9v2.9h-2.9zM1507.5,1333.1h2.9v2.9h-2.9zM1497.1,1335.7h2.9v2.9h-2.9zM1533.5,1335.7h2.9v2.9h-2.9zM1510.1,1338.3h2.9v2.9h-2.9zM1533.5,1340.9h2.9v2.9h-2.9zM1499.7,1343.5h2.9v2.9h-2.9zM1523.1,1343.5h2.9v2.9h-2.9zM1523.1,1346.1h2.9v2.9h-2.9z"/>
<path fill="#fe9929" d="M1520.5,1135.5h2.9v2.9h-2.9zM1507.5,1145.9h2.9v2.9h-2.9zM1512.7,1148.5h2.9v2.9h-2.9zM1502.3,1151.1h2.9v2.9h-2.9zM1543.9,1158.9h2.9v2.9h-2.9zM1502.3,1161.5h2.9v2.9h-2.9zM1481.5,1164.1h2.9v2.9h-2.9zM1497.1,1164.1h2.9v2.9h-2.9zM1507.5,1164.1h2.9v2.9h-2.9zM1523.1,1166.7h2.9v2.9h-2.9zM1536.1,1166.7h2.9v2.9h-2.9zM1486.7,1169.3h2.9v2.9h-2.9zM1494.5,1169.3h2.9v2.9h-2.9zM1515.3,1169.3h2.9v2.9h-2.9zM1484.1,1171.9h2.9v2.9h-2.9zM1507.5,1174.5h2.9v2.9h-2.9zM1533.5,1174.5h2.9v2.9h-2.9zM1510.1,1177.1h2.9v2.9h-2.9zM1517.9,1177.1h2.9v2.9h-2.9zM1528.3,1177.1h2.9v2.9h-2.9zM1486.7,1179.7h2.9v2.9h-2.9zM1497.1,1179.7h2.9v2.9h-2.9zM1502.3,1179.7h2.9v2.9h-2.9zM1512.7,1179.7h2.9v2.9h-2.9zM1497.1,1182.3h2.9v2.9h-2.9zM1494.5,1184.9h2.9v2.9h-2.9zM1502.3,1184.9h2.9v2.9h-2.9zM1515.3,1184.9h2.9v2.9h-2.9zM1523.1,1184.9h2.9v2.9h-2.9zM1528.3,1184.9h2.9v2.9h-2.9zM1481.5,1187.5h2.9v2.9h-2.9zM1484.1,1187.5h2.9v2.9h-2.9zM1491.9,1187.5h2.9v2.9h-2.9zM1499.7,1187.5h2.9v2.9h-2.9zM1507.5,1187.5h2.9v2.9h-2.9zM1541.3,1187.5h2.9v2.9h-2.9zM1528.3,1190.1h2.9v2.9h-2.9zM1533.5,1190.1h2.9v2.9h-2.9zM1536.1,1190.1h2.9v2.9h-2.9zM1486.7,1192.7h2.9v2.9h-2.9zM1517.9,1192.7h2.9v2.9h-2.9zM1525.7,1192.7h2.9v2.9h-2.9zM1533.5,1192.7h2.9v2.9h-2.9zM1484.1,1195.3h2.9v2.9h-2.9zM1507.5,1195.3h2.9v2.9h-2.9zM1523.1,1195.3h2.9v2.9h-2.9zM1536.1,1195.3h2.9v2.9h-2.9zM1538.7,1195.3h2.9v2.9h-2.9zM1499.7,1197.9h2.9v2.9h-2.9zM1507.5,1197.9h2.9v2.9h-2.9zM1543.9,1197.9h2.9v2.9h-2.9zM1481.5,1200.5h2.9v2.9h-2.9zM1499.7,1200.5h2.9v2.9h-2.9zM1512.7,1200.5h2.9v2.9h-2.9zM1515.3,1200.5h2.9v2.9h-2.9zM1541.3,1200.5h2.9v2.9h-2.9zM1504.9,1203.1h2.9v2.9h-2.9zM1507.5,1203.1h2.9v2.9h-2.9zM1515.3,1203.1h2.9v2.9h-2.9zM1541.3,1203.1h2.9v2.9h-2.9zM1481.5,1205.7h2.9v2.9h-2.9zM1538.7,1205.7h2.9v2.9h-2.9zM1481.5,1208.3h2.9v2.9h-2.9zM1491.9,1208.3h2.9v2.9h-2.9zM1510.1,1208.3h2.9v2.9h-2.9zM1528.3,1208.3h2.9v2.9h-2.9zM1528.3,1210.9h2.9v2.9h-2.9zM1543.9,1210.9h2.9v2.9h-2.9zM1468.5,1213.5h2.9v2.9h-2.9zM1486.7,1213.5h2.9v2.9h-2.9zM1538.7,1213.5h2.9v2.9h-2.9zM1543.9,1213.5h2.9v2.9h-2.9zM1465.9,1216.1h2.9v2.9h-2.9zM1468.5,1216.1h2.9v2.9h-2.9zM1523.1,1216.1h2.9v2.9h-2.9zM1530.9,1216.1h2.9v2.9h-2.9zM1486.7,1218.7h2.9v2.9h-2.9zM1502.3,1218.7h2.9v2.9h-2.9zM1541.3,1218.7h2.9v2.9h-2.9zM1494.5,1221.3h2.9v2.9h-2.9zM1546.5,1221.3h2.9v2.9h-2.9zM1549.1,1221.3h2.9v2.9h-2.9zM1551.7,1221.3h2.9v2.9h-2.9zM1481.5,1223.9h2.9v2.9h-2.9zM1520.5,1223.9h2.9v2.9h-2.9zM1471.1,1226.5h2.9v2.9h-2.9zM1476.3,1226.5h2.9v2.9h-2.9zM1486.7,1226.5h2.9v2.9h-2.9zM1541.3,1226.5h2.9v2.9h-2.9zM1543.9,1229.1h2.9v2.9h-2.9zM1551.7,1229.1h2.9v2.9h-2.9zM1559.5,1229.1h2.9v2.9h-2.9zM1554.3,1231.7h2.9v2.9h-2.9zM1476.3,1234.3h2.9v2.9h-2.9zM1543.9,1234.3h2.9v2.9h-2.9zM1471.1,1236.9h2.9v2.9h-2.9zM1473.7,1236.9h2.9v2.9h-2.9zM1476.3,1236.9h2.9v2.9h-2.9zM1478.9,1236.9h2.9v2.9h-2.9zM1546.5,1236.9h2.9v2.9h-2.9zM1551.7,1236.9h2.9v2.9h-2.9zM1541.3,1239.5h2.9v2.9h-2.9zM1549.1,1239.5h2.9v2.9h-2.9zM1541.3,1242.1h2.9v2.9h-2.9zM1556.9,1242.1h2.9v2.9h-2.9zM1543.9,1244.7h2.9v2.9h-2.9zM1543.9,1247.3h2.9v2.9h-2.9zM1546.5,1247.3h2.9v2.9h-2.9zM1468.5,1249.9h2.9v2.9h-2.9zM1478.9,1249.9h2.9v2.9h-2.9zM1486.7,1249.9h2.9v2.9h-2.9zM1468.5,1252.5h2.9v2.9h-2.9zM1478.9,1252.5h2.9v2.9h-2.9zM1546.5,1252.5h2.9v2.9h-2.9zM1549.1,1252.5h2.9v2.9h-2.9zM1463.3,1255.1h2.9v2.9h-2.9zM1551.7,1255.1h2.9v2.9h-2.9zM1556.9,1255.1h2.9v2.9h-2.9zM1478.9,1257.7h2.9v2.9h-2.9zM1556.9,1257.7h2.9v2.9h-2.9zM1471.1,1260.3h2.9v2.9h-2.9zM1468.5,1262.9h2.9v2.9h-2.9zM1562.1,1262.9h2.9v2.9h-2.9zM1473.7,1265.5h2.9v2.9h-2.9zM1556.9,1265.5h2.9v2.9h-2.9zM1471.1,1268.1h2.9v2.9h-2.9zM1533.5,1268.1h2.9v2.9h-2.9zM1546.5,1268.1h2.9v2.9h-2.9zM1556.9,1268.1h2.9v2.9h-2.9zM1559.5,1268.1h2.9v2.9h-2.9zM1562.1,1268.1h2.9v2.9h-2.9zM1484.1,1270.7h2.9v2.9h-2.9zM1549.1,1270.7h2.9v2.9h-2.9zM1562.1,1270.7h2.9v2.9h-2.9zM1460.7,1273.3h2.9v2.9h-2.9zM1473.7,1273.3h2.9v2.9h-2.9zM1486.7,1273.3h2.9v2.9h-2.9zM1468.5,1275.9h2.9v2.9h-2.9zM1481.5,1275.9h2.9v2.9h-2.9zM1481.5,1278.5h2.9v2.9h-2.9zM1465.9,1281.1h2.9v2.9h-2.9zM1473.7,1281.1h2.9v2.9h-2.9zM1543.9,1281.1h2.9v2.9h-2.9zM1549.1,1281.1h2.9v2.9h-2.9zM1551.7,1281.1h2.9v2.9h-2.9zM1554.3,1281.1h2.9v2.9h-2.9zM1562.1,1281.1h2.9v2.9h-2.9zM1538.7,1283.7h2.9v2.9h-2.9zM1564.7,1283.7h2.9v2.9h-2.9zM1468.5,1286.3h2.9v2.9h-2.9zM1538.7,1286.3h2.9v2.9h-2.9zM1549.1,1286.3h2.9v2.9h-2.9zM1478.9,1288.9h2.9v2.9h-2.9zM1497.1,1288.9h2.9v2.9h-2.9zM1551.7,1288.9h2.9v2.9h-2.9zM1554.3,1288.9h2.9v2.9h-2.9zM1473.7,1291.5h2.9v2.9h-2.9zM1541.3,1291.5h2.9v2.9h-2.9zM1546.5,1291.5h2.9v2.9h-2.9zM1559.5,1291.5h2.9v2.9h-2.9zM1484.1,1294.1h2.9v2.9h-2.9zM1546.5,1294.1h2.9v2.9h-2.9zM1471.1,1296.7h2.9v2.9h-2.9zM1473.7,1296.7h2.9v2.9h-2.9zM1533.5,1296.7h2.9v2.9h-2.9zM1546.5,1296.7h2.9v2.9h-2.9zM1476.3,1299.3h2.9v2.9h-2.9zM1486.7,1299.3h2.9v2.9h-2.9zM1530.9,1299.3h2.9v2.9h-2.9zM1512.7,1301.9h2.9v2.9h-2.9zM1533.5,1301.9h2.9v2.9h-2.9zM1494.5,1304.5h2.9v2.9h-2.9zM1528.3,1304.5h2.9v2.9h-2.9zM1530.9,1304.5h2.9v2.9h-2.9zM1541.3,1304.5h2.9v2.9h-2.9zM1549.1,1304.5h2.9v2.9h-2.9zM1556.9,1304.5h2.9v2.9h-2.9zM1468.5,1307.1h2.9v2.9h-2.9zM1478.9,1307.1h2.9v2.9h-2.9zM1486.7,1307.1h2.9v2.9h-2.9zM1489.3,1307.1h2.9v2.9h-2.9zM1491.9,1307.1h2.9v2.9h-2.9zM1525.7,1307.1h2.9v2.9h-2.9zM1533.5,1307.1h2.9v2.9h-2.9zM1497.1,1309.7h2.9v2.9h-2.9zM1504.9,1309.7h2.9v2.9h-2.9zM1536.1,1309.7h2.9v2.9h-2.9zM1484.1,1312.3h2.9v2.9h-2.9zM1497.1,1312.3h2.9v2.9h-2.9zM1504.9,1312.3h2.9v2.9h-2.9zM1538.7,1312.3h2.9v2.9h-2.9zM1541.3,1312.3h2.9v2.9h-2.9zM1546.5,1312.3h2.9v2.9h-2.9zM1473.7,1314.9h2.9v2.9h-2.9zM1491.9,1314.9h2.9v2.9h-2.9zM1510.1,1314.9h2.9v2.9h-2.9zM1512.7,1314.9h2.9v2.9h-2.9zM1515.3,1314.9h2.9v2.9h-2.9zM1520.5,1314.9h2.9v2.9h-2.9zM1525.7,1314.9h2.9v2.9h-2.9zM1533.5,1314.9h2.9v2.9h-2.9zM1543.9,1314.9h2.9v2.9h-2.9zM1476.3,1317.5h2.9v2.9h-2.9zM1507.5,1317.5h2.9v2.9h-2.9zM1512.7,1317.5h2.9v2.9h-2.9zM1517.9,1317.5h2.9v2.9h-2.9zM1520.5,1317.5h2.9v2.9h-2.9zM1491.9,1320.1h2.9v2.9h-2.9zM1530.9,1320.1h2.9v2.9h-2.9zM1541.3,1320.1h2.9v2.9h-2.9zM1491.9,1322.7h2.9v2.9h-2.9zM1494.5,1322.7h2.9v2.9h-2.9zM1497.1,1322.7h2.9v2.9h-2.9zM1512.7,1322.7h2.9v2.9h-2.9zM1515.3,1322.7h2.9v2.9h-2.9zM1523.1,1322.7h2.9v2.9h-2.9zM1473.7,1325.3h2.9v2.9h-2.9zM1486.7,1325.3h2.9v2.9h-2.9zM1507.5,1325.3h2.9v2.9h-2.9zM1520.5,1325.3h2.9v2.9h-2.9zM1494.5,1327.9h2.9v2.9h-2.9zM1507.5,1327.9h2.9v2.9h-2.9zM1510.1,1327.9h2.9v2.9h-2.9zM1515.3,1327.9h2.9v2.9h-2.9zM1523.1,1327.9h2.9v2.9h-2.9zM1525.7,1327.9h2.9v2.9h-2.9zM1528.3,1327.9h2.9v2.9h-2.9zM1486.7,1330.5h2.9v2.9h-2.9zM1494.5,1330.5h2.9v2.9h-2.9zM1499.7,1330.5h2.9v2.9h-2.9zM1491.9,1333.1h2.9v2.9h-2.9zM1523.1,1333.1h2.9v2.9h-2.9zM1510.1,1335.7h2.9v2.9h-2.9zM1486.7,1338.3h2.9v2.9h-2.9zM1512.7,1338.3h2.9v2.9h-2.9zM1528.3,1340.9h2.9v2.9h-2.9zM1520.5,1348.7h2.9v2.9h-2.9z"/>
<path fill="#ec7014" d="M1499.7,1164.1h2.9v2.9h-2.9zM1515.3,1164.1h2.9v2.9h-2.9zM1520.5,1164.1h2.9v2.9h-2.9zM1510.1,1169.3h2.9v2.9h-2.9zM1507.5,1171.9h2.9v2.9h-2.9zM1502.3,1174.5h2.9v2.9h-2.9zM1510.1,1174.5h2.9v2.9h-2.9zM1499.7,1177.1h2.9v2.9h-2.9zM1489.3,1182.3h2.9v2.9h-2.9zM1504.9,1182.3h2.9v2.9h-2.9zM1523.1,1182.3h2.9v2.9h-2.9zM1520.5,1184.9h2.9v2.9h-2.9zM1497.1,1187.5h2.9v2.9h-2.9zM1512.7,1187.5h2.9v2.9h-2.9zM1515.3,1187.5h2.9v2.9h-2.9zM1520.5,1187.5h2.9v2.9h-2.9zM1523.1,1187.5h2.9v2.9h-2.9zM1525.7,1187.5h2.9v2.9h-2.9zM1528.3,1187.5h2.9v2.9h-2.9zM1497.1,1190.1h2.9v2.9h-2.9zM1510.1,1190.1h2.9v2.9h-2.9zM1515.3,1190.1h2.9v2.9h-2.9zM1504.9,1192.7h2.9v2.9h-2.9zM1536.1,1192.7h2.9v2.9h-2.9zM1494.5,1195.3h2.9v2.9h-2.9zM1502.3,1195.3h2.9v2.9h-2.9zM1512.7,1195.3h2.9v2.9h-2.9zM1486.7,1197.9h2.9v2.9h-2.9zM1520.5,1197.9h2.9v2.9h-2.9zM1525.7,1197.9h2.9v2.9h-2.9zM1486.7,1200.5h2.9v2.9h-2.9zM1517.9,1200.5h2.9v2.9h-2.9zM1520.5,1200.5h2.9v2.9h-2.9zM1525.7,1200.5h2.9v2.9h-2.9zM1530.9,1200.5h2.9v2.9h-2.9zM1484.1,1203.1h2.9v2.9h-2.9zM1489.3,1203.1h2.9v2.9h-2.9zM1510.1,1203.1h2.9v2.9h-2.9zM1512.7,1203.1h2.9v2.9h-2.9zM1523.1,1203.1h2.9v2.9h-2.9zM1533.5,1203.1h2.9v2.9h-2.9zM1538.7,1203.1h2.9v2.9h-2.9zM1484.1,1205.7h2.9v2.9h-2.9zM1499.7,1205.7h2.9v2.9h-2.9zM1525.7,1205.7h2.9v2.9h-2.9zM1546.5,1205.7h2.9v2.9h-2.9zM1476.3,1208.3h2.9v2.9h-2.9zM1504.9,1208.3h2.9v2.9h-2.9zM1530.9,1208.3h2.9v2.9h-2.9zM1536.1,1208.3h2.9v2.9h-2.9zM1541.3,1208.3h2.9v2.9h-2.9zM1507.5,1210.9h2.9v2.9h-2.9zM1523.1,1210.9h2.9v2.9h-2.9zM1530.9,1210.9h2.9v2.9h-2.9zM1536.1,1210.9h2.9v2.9h-2.9zM1484.1,1213.5h2.9v2.9h-2.9zM1525.7,1213.5h2.9v2.9h-2.9zM1533.5,1213.5h2.9v2.9h-2.9zM1536.1,1213.5h2.9v2.9h-2.9zM1478.9,1216.1h2.9v2.9h-2.9zM1484.1,1216.1h2.9v2.9h-2.9zM1486.7,1216.1h2.9v2.9h-2.9zM1510.1,1216.1h2.9v2.9h-2.9zM1525.7,1216.1h2.9v2.9h-2.9zM1536.1,1216.1h2.9v2.9h-2.9zM1546.5,1216.1h2.9v2.9h-2.9zM1481.5,1218.7h2.9v2.9h-2.9zM1489.3,1218.7h2.9v2.9h-2.9zM1491.9,1218.7h2.9v2.9h-2.9zM1494.5,1218.7h2.9v2.9h-2.9zM1523.1,1218.7h2.9v2.9h-2.9zM1543.9,1218.7h2.9v2.9h-2.9zM1489.3,1221.3h2.9v2.9h-2.9zM1510.1,1221.3h2.9v2.9h-2.9zM1538.7,1221.3h2.9v2.9h-2.9zM1541.3,1221.3h2.9v2.9h-2.9zM1476.3,1223.9h2.9v2.9h-2.9zM1484.1,1223.9h2.9v2.9h-2.9zM1486.7,1223.9h2.9v2.9h-2.9zM1546.5,1223.9h2.9v2.9h-2.9zM1543.9,1226.5h2.9v2.9h-2.9zM1484.1,1229.1h2.9v2.9h-2.9zM1489.3,1229.1h2.9v2.9h-2.9zM1504.9,1229.1h2.9v2.9h-2.9zM1538.7,1229.1h2.9v2.9h-2.9zM1546.5,1229.1h2.9v2.9h-2.9zM1549.1,1229.1h2.9v2.9h-2.9zM1476.3,1231.7h2.9v2.9h-2.9zM1497.1,1231.7h2.9v2.9h-2.9zM1520.5,1231.7h2.9v2.9h-2.9zM1541.3,1231.7h2.9v2.9h-2.9zM1549.1,1231.7h2.9v2.9h-2.9zM1471.1,1234.3h2.9v2.9h-2.9zM1541.3,1234.3h2.9v2.9h-2.9zM1551.7,1234.3h2.9v2.9h-2.9zM1497.1,1236.9h2.9v2.9h-2.9zM1533.5,1236.9h2.9v2.9h-2.9zM1536.1,1236.9h2.9v2.9h-2.9zM1471.1,1239.5h2.9v2.9h-2.9zM1528.3,1239.5h2.9v2.9h-2.9zM1481.5,1242.1h2.9v2.9h-2.9zM1486.7,1242.1h2.9v2.9h-2.9zM1489.3,1242.1h2.9v2.9h-2.9zM1523.1,1242.1h2.9v2.9h-2.9zM1481.5,1244.7h2.9v2.9h-2.9zM1484.1,1244.7h2.9v2.9h-2.9zM1494.5,1244.7h2.9v2.9h-2.9zM1546.5,1244.7h2.9v2.9h-2.9zM1473.7,1247.3h2.9v2.9h-2.9zM1530.9,1247.3h2.9v2.9h-2.9zM1551.7,1247.3h2.9v2.9h-2.9zM1562.1,1247.3h2.9v2.9h-2.9zM1471.1,1249.9h2.9v2.9h-2.9zM1476.3,1249.9h2.9v2.9h-2.9zM1491.9,1249.9h2.9v2.9h-2.9zM1536.1,1249.9h2.9v2.9h-2.9zM1538.7,1249.9h2.9v2.9h-2.9zM1543.9,1249.9h2.9v2.9h-2.9zM1551.7,1249.9h2.9v2.9h-2.9zM1538.7,1252.5h2.9v2.9h-2.9zM1543.9,1252.5h2.9v2.9h-2.9zM1489.3,1255.1h2.9v2.9h-2.9zM1528.3,1255.1h2.9v2.9h-2.9zM1536.1,1255.1h2.9v2.9h-2.9zM1541.3,1255.1h2.9v2.9h-2.9zM1465.9,1257.7h2.9v2.9h-2.9zM1517.9,1257.7h2.9v2.9h-2.9zM1543.9,1257.7h2.9v2.9h-2.9zM1528.3,1260.3h2.9v2.9h-2.9zM1536.1,1260.3h2.9v2.9h-2.9zM1554.3,1260.3h2.9v2.9h-2.9zM1463.3,1262.9h2.9v2.9h-2.9zM1559.5,1262.9h2.9v2.9h-2.9zM1554.3,1265.5h2.9v2.9h-2.9zM1536.1,1268.1h2.9v2.9h-2.9zM1543.9,1268.1h2.9v2.9h-2.9zM1549.1,1268.1h2.9v2.9h-2.9zM1551.7,1268.1h2.9v2.9h-2.9zM1476.3,1270.7h2.9v2.9h-2.9zM1478.9,1270.7h2.9v2.9h-2.9zM1481.5,1270.7h2.9v2.9h-2.9zM1551.7,1270.7h2.9v2.9h-2.9zM1554.3,1270.7h2.9v2.9h-2.9zM1471.1,1273.3h2.9v2.9h-2.9zM1536.1,1273.3h2.9v2.9h-2.9zM1546.5,1273.3h2.9v2.9h-2.9zM1549.1,1273.3h2.9v2.9h-2.9zM1551.7,1273.3h2.9v2.9h-2.9zM1471.1,1275.9h2.9v2.9h-2.9zM1486.7,1275.9h2.9v2.9h-2.9zM1549.1,1275.9h2.9v2.9h-2.9zM1551.7,1275.9h2.9v2.9h-2.9zM1476.3,1278.5h2.9v2.9h-2.9zM1486.7,1278.5h2.9v2.9h-2.9zM1551.7,1278.5h2.9v2.9h-2.9zM1478.9,1281.1h2.9v2.9h-2.9zM1546.5,1281.1h2.9v2.9h-2.9zM1468.5,1283.7h2.9v2.9h-2.9zM1481.5,1283.7h2.9v2.9h-2.9zM1541.3,1283.7h2.9v2.9h-2.9zM1554.3,1283.7h2.9v2.9h-2.9zM1476.3,1286.3h2.9v2.9h-2.9zM1494.5,1286.3h2.9v2.9h-2.9zM1546.5,1286.3h2.9v2.9h-2.9zM1502.3,1288.9h2.9v2.9h-2.9zM1541.3,1288.9h2.9v2.9h-2.9zM1543.9,1288.9h2.9v2.9h-2.9zM1556.9,1288.9h2.9v2.9h-2.9zM1471.1,1291.5h2.9v2.9h-2.9zM1478.9,1294.1h2.9v2.9h-2.9zM1486.7,1294.1h2.9v2.9h-2.9zM1491.9,1294.1h2.9v2.9h-2.9zM1502.3,1294.1h2.9v2.9h-2.9zM1556.9,1294.1h2.9v2.9h-2.9zM1499.7,1296.7h2.9v2.9h-2.9zM1528.3,1296.7h2.9v2.9h-2.9zM1538.7,1296.7h2.9v2.9h-2.9zM1549.1,1296.7h2.9v2.9h-2.9zM1536.1,1299.3h2.9v2.9h-2.9zM1543.9,1299.3h2.9v2.9h-2.9zM1546.5,1299.3h2.9v2.9h-2.9zM1481.5,1301.9h2.9v2.9h-2.9zM1504.9,1301.9h2.9v2.9h-2.9zM1520.5,1301.9h2.9v2.9h-2.9zM1546.5,1301.9h2.9v2.9h-2.9zM1481.5,1304.5h2.9v2.9h-2.9zM1486.7,1304.5h2.9v2.9h-2.9zM1491.9,1304.5h2.9v2.9h-2.9zM1510.1,1304.5h2.9v2.9h-2.9zM1525.7,1304.5h2.9v2.9h-2.9zM1538.7,1304.5h2.9v2.9h-2.9zM1494.5,1307.1h2.9v2.9h-2.9zM1507.5,1307.1h2.9v2.9h-2.9zM1510.1,1307.1h2.9v2.9h-2.9zM1484.1,1309.7h2.9v2.9h-2.9zM1489.3,1309.7h2.9v2.9h-2.9zM1515.3,1309.7h2.9v2.9h-2.9zM1517.9,1309.7h2.9v2.9h-2.9zM1538.7,1309.7h2.9v2.9h-2.9zM1486.7,1312.3h2.9v2.9h-2.9zM1499.7,1312.3h2.9v2.9h-2.9zM1502.3,1312.3h2.9v2.9h-2.9zM1507.5,1312.3h2.9v2.9h-2.9zM1520.5,1312.3h2.9v2.9h-2.9zM1525.7,1312.3h2.9v2.9h-2.9zM1536.1,1312.3h2.9v2.9h-2.9zM1489.3,1314.9h2.9v2.9h-2.9zM1507.5,1314.9h2.9v2.9h-2.9zM1517.9,1314.9h2.9v2.9h-2.9zM1510.1,1317.5h2.9v2.9h-2.9zM1515.3,1317.5h2.9v2.9h-2.9zM1523.1,1317.5h2.9v2.9h-2.9zM1525.7,1317.5h2.9v2.9h-2.9zM1489.3,1320.1h2.9v2.9h-2.9zM1497.1,1320.1h2.9v2.9h-2.9zM1510.1,1320.1h2.9v2.9h-2.9zM1512.7,1320.1h2.9v2.9h-2.9zM1528.3,1320.1h2.9v2.9h-2.9zM1504.9,1322.7h2.9v2.9h-2.9zM1517.9,1322.7h2.9v2.9h-2.9zM1530.9,1322.7h2.9v2.9h-2.9zM1543.9,1322.7h2.9v2.9h-2.9zM1499.7,1325.3h2.9v2.9h-2.9zM1510.1,1325.3h2.9v2.9h-2.9zM1517.9,1325.3h2.9v2.9h-2.9zM1512.7,1327.9h2.9v2.9h-2.9zM1530.9,1327.9h2.9v2.9h-2.9zM1525.7,1330.5h2.9v2.9h-2.9zM1512.7,1333.1h2.9v2.9h-2.9zM1530.9,1333.1h2.9v2.9h-2.9zM1515.3,1340.9h2.9v2.9h-2.9z"/>
<path fill="#d7301f" d="M1510.1,1171.9h2.9v2.9h-2.9zM1530.9,1174.5h2.9v2.9h-2.9zM1502.3,1177.1h2.9v2.9h-2.9zM1510.1,1179.7h2.9v2.9h-2.9zM1536.1,1182.3h2.9v2.9h-2.9zM1489.3,1184.9h2.9v2.9h-2.9zM1507.5,1184.9h2.9v2.9h-2.9zM1517.9,1184.9h2.9v2.9h-2.9zM1525.7,1184.9h2.9v2.9h-2.9zM1491.9,1190.1h2.9v2.9h-2.9zM1502.3,1190.1h2.9v2.9h-2.9zM1504.9,1190.1h2.9v2.9h-2.9zM1517.9,1190.1h2.9v2.9h-2.9zM1478.9,1192.7h2.9v2.9h-2.9zM1510.1,1192.7h2.9v2.9h-2.9zM1512.7,1192.7h2.9v2.9h-2.9zM1525.7,1195.3h2.9v2.9h-2.9zM1491.9,1197.9h2.9v2.9h-2.9zM1502.3,1197.9h2.9v2.9h-2.9zM1510.1,1197.9h2.9v2.9h-2.9zM1517.9,1197.9h2.9v2.9h-2.9zM1523.1,1197.9h2.9v2.9h-2.9zM1530.9,1197.9h2.9v2.9h-2.9zM1536.1,1197.9h2.9v2.9h-2.9zM1491.9,1200.5h2.9v2.9h-2.9zM1494.5,1200.5h2.9v2.9h-2.9zM1497.1,1200.5h2.9v2.9h-2.9zM1507.5,1200.5h2.9v2.9h-2.9zM1536.1,1200.5h2.9v2.9h-2.9zM1494.5,1203.1h2.9v2.9h-2.9zM1517.9,1203.1h2.9v2.9h-2.9zM1525.7,1203.1h2.9v2.9h-2.9zM1536.1,1203.1h2.9v2.9h-2.9zM1471.1,1205.7h2.9v2.9h-2.9zM1486.7,1205.7h2.9v2.9h-2.9zM1507.5,1205.7h2.9v2.9h-2.9zM1523.1,1205.7h2.9v2.9h-2.9zM1530.9,1205.7h2.9v2.9h-2.9zM1543.9,1205.7h2.9v2.9h-2.9zM1497.1,1208.3h2.9v2.9h-2.9zM1499.7,1208.3h2.9v2.9h-2.9zM1507.5,1208.3h2.9v2.9h-2.9zM1512.7,1208.3h2.9v2.9h-2.9zM1515.3,1208.3h2.9v2.9h-2.9zM1517.9,1208.3h2.9v2.9h-2.9zM1523.1,1208.3h2.9v2.9h-2.9zM1525.7,1208.3h2.9v2.9h-2.9zM1484.1,1210.9h2.9v2.9h-2.9zM1486.7,1210.9h2.9v2.9h-2.9zM1497.1,1210.9h2.9v2.9h-2.9zM1499.7,1210.9h2.9v2.9h-2.9zM1515.3,1210.9h2.9v2.9h-2.9zM1517.9,1210.9h2.9v2.9h-2.9zM1520.5,1210.9h2.9v2.9h-2.9zM1512.7,1213.5h2.9v2.9h-2.9zM1520.5,1213.5h2.9v2.9h-2.9zM1523.1,1213.5h2.9v2.9h-2.9zM1530.9,1213.5h2.9v2.9h-2.9zM1491.9,1216.1h2.9v2.9h-2.9zM1507.5,1216.1h2.9v2.9h-2.9zM1520.5,1216.1h2.9v2.9h-2.9zM1528.3,1216.1h2.9v2.9h-2.9zM1538.7,1216.1h2.9v2.9h-2.9zM1478.9,1218.7h2.9v2.9h-2.9zM1484.1,1218.7h2.9v2.9h-2.9zM1528.3,1218.7h2.9v2.9h-2.9zM1486.7,1221.3h2.9v2.9h-2.9zM1533.5,1221.3h2.9v2.9h-2.9zM1489.3,1223.9h2.9v2.9h-2.9zM1497.1,1223.9h2.9v2.9h-2.9zM1502.3,1223.9h2.9v2.9h-2.9zM1512.7,1223.9h2.9v2.9h-2.9zM1530.9,1223.9h2.9v2.9h-2.9zM1481.5,1226.5h2.9v2.9h-2.9zM1484.1,1226.5h2.9v2.9h-2.9zM1528.3,1226.5h2.9v2.9h-2.9zM1536.1,1226.5h2.9v2.9h-2.9zM1549.1,1226.5h2.9v2.9h-2.9zM1491.9,1229.1h2.9v2.9h-2.9zM1494.5,1229.1h2.9v2.9h-2.9zM1517.9,1229.1h2.9v2.9h-2.9zM1541.3,1229.1h2.9v2.9h-2.9zM1484.1,1231.7h2.9v2.9h-2.9zM1486.7,1231.7h2.9v2.9h-2.9zM1489.3,1231.7h2.9v2.9h-2.9zM1499.7,1231.7h2.9v2.9h-2.9zM1510.1,1231.7h2.9v2.9h-2.9zM1517.9,1231.7h2.9v2.9h-2.9zM1528.3,1231.7h2.9v2.9h-2.9zM1533.5,1231.7h2.9v2.9h-2.9zM1536.1,1231.7h2.9v2.9h-2.9zM1551.7,1231.7h2.9v2.9h-2.9zM1478.9,1234.3h2.9v2.9h-2.9zM1481.5,1234.3h2.9v2.9h-2.9zM1515.3,1234.3h2.9v2.9h-2.9zM1517.9,1234.3h2.9v2.9h-2.9zM1536.1,1234.3h2.9v2.9h-2.9zM1549.1,1234.3h2.9v2.9h-2.9zM1458.1,1236.9h2.9v2.9h-2.9zM1468.5,1236.9h2.9v2.9h-2.9zM1486.7,1236.9h2.9v2.9h-2.9zM1489.3,1236.9h2.9v2.9h-2.9zM1502.3,1236.9h2.9v2.9h-2.9zM1517.9,1236.9h2.9v2.9h-2.9zM1528.3,1236.9h2.9v2.9h-2.9zM1538.7,1236.9h2.9v2.9h-2.9zM1478.9,1239.5h2.9v2.9h-2.9zM1489.3,1239.5h2.9v2.9h-2.9zM1510.1,1239.5h2.9v2.9h-2.9zM1533.5,1239.5h2.9v2.9h-2.9zM1556.9,1239.5h2.9v2.9h-2.9zM1478.9,1242.1h2.9v2.9h-2.9zM1484.1,1242.1h2.9v2.9h-2.9zM1520.5,1242.1h2.9v2.9h-2.9zM1525.7,1242.1h2.9v2.9h-2.9zM1528.3,1242.1h2.9v2.9h-2.9zM1530.9,1242.1h2.9v2.9h-2.9zM1533.5,1242.1h2.9v2.9h-2.9zM1546.5,1242.1h2.9v2.9h-2.9zM1541.3,1244.7h2.9v2.9h-2.9zM1549.1,1244.7h2.9v2.9h-2.9zM1491.9,1247.3h2.9v2.9h-2.9zM1554.3,1247.3h2.9v2.9h-2.9zM1465.9,1249.9h2.9v2.9h-2.9zM1481.5,1249.9h2.9v2.9h-2.9zM1484.1,1249.9h2.9v2.9h-2.9zM1471.1,1252.5h2.9v2.9h-2.9zM1476.3,1252.5h2.9v2.9h-2.9zM1486.7,1252.5h2.9v2.9h-2.9zM1494.5,1252.5h2.9v2.9h-2.9zM1556.9,1252.5h2.9v2.9h-2.9zM1478.9,1255.1h2.9v2.9h-2.9zM1484.1,1255.1h2.9v2.9h-2.9zM1538.7,1255.1h2.9v2.9h-2.9zM1543.9,1255.1h2.9v2.9h-2.9zM1473.7,1257.7h2.9v2.9h-2.9zM1476.3,1257.7h2.9v2.9h-2.9zM1489.3,1257.7h2.9v2.9h-2.9zM1494.5,1257.7h2.9v2.9h-2.9zM1525.7,1257.7h2.9v2.9h-2.9zM1538.7,1257.7h2.9v2.9h-2.9zM1481.5,1260.3h2.9v2.9h-2.9zM1538.7,1260.3h2.9v2.9h-2.9zM1543.9,1260.3h2.9v2.9h-2.9zM1549.1,1260.3h2.9v2.9h-2.9zM1556.9,1260.3h2.9v2.9h-2.9zM1476.3,1262.9h2.9v2.9h-2.9zM1538.7,1262.9h2.9v2.9h-2.9zM1543.9,1262.9h2.9v2.9h-2.9zM1486.7,1265.5h2.9v2.9h-2.9zM1494.5,1265.5h2.9v2.9h-2.9zM1536.1,1265.5h2.9v2.9h-2.9zM1546.5,1265.5h2.9v2.9h-2.9zM1551.7,1265.5h2.9v2.9h-2.9zM1468.5,1268.1h2.9v2.9h-2.9zM1473.7,1268.1h2.9v2.9h-2.9zM1502.3,1268.1h2.9v2.9h-2.9zM1538.7,1268.1h2.9v2.9h-2.9zM1541.3,1268.1h2.9v2.9h-2.9zM1471.1,1270.7h2.9v2.9h-2.9zM1473.7,1270.7h2.9v2.9h-2.9zM1491.9,1270.7h2.9v2.9h-2.9zM1533.5,1270.7h2.9v2.9h-2.9zM1538.7,1270.7h2.9v2.9h-2.9zM1543.9,1270.7h2.9v2.9h-2.9zM1546.5,1270.7h2.9v2.9h-2.9zM1559.5,1270.7h2.9v2.9h-2.9zM1489.3,1273.3h2.9v2.9h-2.9zM1528.3,1273.3h2.9v2.9h-2.9zM1554.3,1273.3h2.9v2.9h-2.9zM1473.7,1275.9h2.9v2.9h-2.9zM1484.1,1275.9h2.9v2.9h-2.9zM1502.3,1275.9h2.9v2.9h-2.9zM1528.3,1275.9h2.9v2.9h-2.9zM1541.3,1275.9h2.9v2.9h-2.9zM1554.3,1275.9h2.9v2.9h-2.9zM1484.1,1278.5h2.9v2.9h-2.9zM1491.9,1278.5h2.9v2.9h-2.9zM1515.3,1278.5h2.9v2.9h-2.9zM1536.1,1278.5h2.9v2.9h-2.9zM1543.9,1278.5h2.9v2.9h-2.9zM1546.5,1278.5h2.9v2.9h-2.9zM1549.1,1278.5h2.9v2.9h-2.9zM1476.3,1281.1h2.9v2.9h-2.9zM1481.5,1281.1h2.9v2.9h-2.9zM1484.1,1281.1h2.9v2.9h-2.9zM1489.3,1281.1h2.9v2.9h-2.9zM1491.9,1281.1h2.9v2.9h-2.9zM1536.1,1281.1h2.9v2.9h-2.9zM1491.9,1283.7h2.9v2.9h-2.9zM1497.1,1283.7h2.9v2.9h-2.9zM1515.3,1283.7h2.9v2.9h-2.9zM1530.9,1283.7h2.9v2.9h-2.9zM1533.5,1283.7h2.9v2.9h-2.9zM1536.1,1283.7h2.9v2.9h-2.9zM1543.9,1283.7h2.9v2.9h-2.9zM1546.5,1283.7h2.9v2.9h-2.9zM1549.1,1283.7h2.9v2.9h-2.9zM1491.9,1286.3h2.9v2.9h-2.9zM1515.3,1286.3h2.9v2.9h-2.9zM1536.1,1286.3h2.9v2.9h-2.9zM1484.1,1288.9h2.9v2.9h-2.9zM1507.5,1288.9h2.9v2.9h-2.9zM1525.7,1288.9h2.9v2.9h-2.9zM1536.1,1288.9h2.9v2.9h-2.9zM1549.1,1288.9h2.9v2.9h-2.9zM1484.1,1291.5h2.9v2.9h-2.9zM1486.7,1291.5h2.9v2.9h-2.9zM1491.9,1291.5h2.9v2.9h-2.9zM1507.5,1291.5h2.9v2.9h-2.9zM1515.3,1291.5h2.9v2.9h-2.9zM1536.1,1291.5h2.9v2.9h-2.9zM1549.1,1291.5h2.9v2.9h-2.9zM1481.5,1294.1h2.9v2.9h-2.9zM1528.3,1294.1h2.9v2.9h-2.9zM1536.1,1294.1h2.9v2.9h-2.9zM1538.7,1294.1h2.9v2.9h-2.9zM1543.9,1294.1h2.9v2.9h-2.9zM1476.3,1296.7h2.9v2.9h-2.9zM1478.9,1296.7h2.9v2.9h-2.9zM1481.5,1296.7h2.9v2.9h-2.9zM1486.7,1296.7h2.9v2.9h-2.9zM1494.5,1296.7h2.9v2.9h-2.9zM1525.7,1296.7h2.9v2.9h-2.9zM1536.1,1296.7h2.9v2.9h-2.9zM1491.9,1299.3h2.9v2.9h-2.9zM1499.7,1299.3h2.9v2.9h-2.9zM1504.9,1299.3h2.9v2.9h-2.9zM1507.5,1299.3h2.9v2.9h-2.9zM1517.9,1299.3h2.9v2.9h-2.9zM1520.5,1299.3h2.9v2.9h-2.9zM1549.1,1299.3h2.9v2.9h-2.9zM1486.7,1301.9h2.9v2.9h-2.9zM1489.3,1301.9h2.9v2.9h-2.9zM1515.3,1301.9h2.9v2.9h-2.9zM1530.9,1301.9h2.9v2.9h-2.9zM1484.1,1304.5h2.9v2.9h-2.9zM1515.3,1304.5h2.9v2.9h-2.9zM1533.5,1304.5h2.9v2.9h-2.9zM1543.9,1304.5h2.9v2.9h-2.9zM1499.7,1307.1h2.9v2.9h-2.9zM1504.9,1307.1h2.9v2.9h-2.9zM1517.9,1307.1h2.9v2.9h-2.9zM1523.1,1307.1h2.9v2.9h-2.9zM1473.7,1309.7h2.9v2.9h-2.9zM1499.7,1309.7h2.9v2.9h-2.9zM1502.3,1309.7h2.9v2.9h-2.9zM1530.9,1309.7h2.9v2.9h-2.9zM1478.9,1312.3h2.9v2.9h-2.9zM1494.5,1312.3h2.9v2.9h-2.9zM1510.1,1312.3h2.9v2.9h-2.9zM1515.3,1312.3h2.9v2.9h-2.9zM1530.9,1312.3h2.9v2.9h-2.9zM1554.3,1312.3h2.9v2.9h-2.9zM1523.1,1314.9h2.9v2.9h-2.9zM1536.1,1314.9h2.9v2.9h-2.9zM1538.7,1314.9h2.9v2.9h-2.9zM1546.5,1314.9h2.9v2.9h-2.9zM1489.3,1317.5h2.9v2.9h-2.9zM1502.3,1317.5h2.9v2.9h-2.9zM1536.1,1317.5h2.9v2.9h-2.9zM1499.7,1320.1h2.9v2.9h-2.9zM1517.9,1320.1h2.9v2.9h-2.9zM1512.7,1325.3h2.9v2.9h-2.9zM1525.7,1325.3h2.9v2.9h-2.9zM1504.9,1327.9h2.9v2.9h-2.9zM1507.5,1330.5h2.9v2.9h-2.9zM1499.7,1333.1h2.9v2.9h-2.9zM1528.3,1333.1h2.9v2.9h-2.9z"/>
<path fill="#b30000" d="M1499.7,1184.9h2.9v2.9h-2.9zM1504.9,1187.5h2.9v2.9h-2.9zM1510.1,1187.5h2.9v2.9h-2.9zM1517.9,1187.5h2.9v2.9h-2.9zM1494.5,1192.7h2.9v2.9h-2.9zM1499.7,1192.7h2.9v2.9h-2.9zM1486.7,1195.3h2.9v2.9h-2.9zM1515.3,1195.3h2.9v2.9h-2.9zM1489.3,1197.9h2.9v2.9h-2.9zM1504.9,1197.9h2.9v2.9h-2.9zM1512.7,1197.9h2.9v2.9h-2.9zM1510.1,1200.5h2.9v2.9h-2.9zM1523.1,1200.5h2.9v2.9h-2.9zM1486.7,1203.1h2.9v2.9h-2.9zM1499.7,1203.1h2.9v2.9h-2.9zM1520.5,1203.1h2.9v2.9h-2.9zM1497.1,1205.7h2.9v2.9h-2.9zM1502.3,1205.7h2.9v2.9h-2.9zM1512.7,1205.7h2.9v2.9h-2.9zM1494.5,1210.9h2.9v2.9h-2.9zM1504.9,1210.9h2.9v2.9h-2.9zM1510.1,1210.9h2.9v2.9h-2.9zM1525.7,1210.9h2.9v2.9h-2.9zM1538.7,1210.9h2.9v2.9h-2.9zM1491.9,1213.5h2.9v2.9h-2.9zM1499.7,1213.5h2.9v2.9h-2.9zM1489.3,1216.1h2.9v2.9h-2.9zM1494.5,1216.1h2.9v2.9h-2.9zM1502.3,1216.1h2.9v2.9h-2.9zM1504.9,1216.1h2.9v2.9h-2.9zM1517.9,1216.1h2.9v2.9h-2.9zM1541.3,1216.1h2.9v2.9h-2.9zM1504.9,1218.7h2.9v2.9h-2.9zM1512.7,1218.7h2.9v2.9h-2.9zM1520.5,1218.7h2.9v2.9h-2.9zM1536.1,1218.7h2.9v2.9h-2.9zM1538.7,1218.7h2.9v2.9h-2.9zM1502.3,1221.3h2.9v2.9h-2.9zM1504.9,1221.3h2.9v2.9h-2.9zM1512.7,1221.3h2.9v2.9h-2.9zM1520.5,1221.3h2.9v2.9h-2.9zM1523.1,1221.3h2.9v2.9h-2.9zM1528.3,1221.3h2.9v2.9h-2.9zM1491.9,1223.9h2.9v2.9h-2.9zM1494.5,1223.9h2.9v2.9h-2.9zM1499.7,1223.9h2.9v2.9h-2.9zM1525.7,1223.9h2.9v2.9h-2.9zM1528.3,1223.9h2.9v2.9h-2.9zM1536.1,1223.9h2.9v2.9h-2.9zM1491.9,1226.5h2.9v2.9h-2.9zM1502.3,1226.5h2.9v2.9h-2.9zM1515.3,1226.5h2.9v2.9h-2.9zM1523.1,1226.5h2.9v2.9h-2.9zM1530.9,1226.5h2.9v2.9h-2.9zM1533.5,1226.5h2.9v2.9h-2.9zM1481.5,1229.1h2.9v2.9h-2.9zM1491.9,1231.7h2.9v2.9h-2.9zM1504.9,1231.7h2.9v2.9h-2.9zM1523.1,1231.7h2.9v2.9h-2.9zM1530.9,1231.7h2.9v2.9h-2.9zM1538.7,1231.7h2.9v2.9h-2.9zM1543.9,1231.7h2.9v2.9h-2.9zM1491.9,1234.3h2.9v2.9h-2.9zM1497.1,1234.3h2.9v2.9h-2.9zM1512.7,1234.3h2.9v2.9h-2.9zM1530.9,1234.3h2.9v2.9h-2.9zM1533.5,1234.3h2.9v2.9h-2.9zM1481.5,1236.9h2.9v2.9h-2.9zM1499.7,1236.9h2.9v2.9h-2.9zM1504.9,1236.9h2.9v2.9h-2.9zM1515.3,1236.9h2.9v2.9h-2.9zM1525.7,1236.9h2.9v2.9h-2.9zM1530.9,1236.9h2.9v2.9h-2.9zM1541.3,1236.9h2.9v2.9h-2.9zM1484.1,1239.5h2.9v2.9h-2.9zM1497.1,1239.5h2.9v2.9h-2.9zM1507.5,1239.5h2.9v2.9h-2.9zM1517.9,1239.5h2.9v2.9h-2.9zM1520.5,1239.5h2.9v2.9h-2.9zM1510.1,1242.1h2.9v2.9h-2.9zM1515.3,1242.1h2.9v2.9h-2.9zM1517.9,1242.1h2.9v2.9h-2.9zM1538.7,1242.1h2.9v2.9h-2.9zM1543.9,1242.1h2.9v2.9h-2.9zM1478.9,1244.7h2.9v2.9h-2.9zM1491.9,1244.7h2.9v2.9h-2.9zM1497.1,1244.7h2.9v2.9h-2.9zM1515.3,1244.7h2.9v2.9h-2.9zM1525.7,1244.7h2.9v2.9h-2.9zM1538.7,1244.7h2.9v2.9h-2.9zM1478.9,1247.3h2.9v2.9h-2.9zM1489.3,1247.3h2.9v2.9h-2.9zM1497.1,1247.3h2.9v2.9h-2.9zM1499.7,1247.3h2.9v2.9h-2.9zM1525.7,1247.3h2.9v2.9h-2.9zM1533.5,1247.3h2.9v2.9h-2.9zM1536.1,1247.3h2.9v2.9h-2.9zM1541.3,1247.3h2.9v2.9h-2.9zM1489.3,1249.9h2.9v2.9h-2.9zM1494.5,1249.9h2.9v2.9h-2.9zM1530.9,1249.9h2.9v2.9h-2.9zM1541.3,1249.9h2.9v2.9h-2.9zM1489.3,1252.5h2.9v2.9h-2.9zM1541.3,1252.5h2.9v2.9h-2.9zM1481.5,1255.1h2.9v2.9h-2.9zM1502.3,1255.1h2.9v2.9h-2.9zM1530.9,1255.1h2.9v2.9h-2.9zM1546.5,1255.1h2.9v2.9h-2.9zM1549.1,1255.1h2.9v2.9h-2.9zM1468.5,1257.7h2.9v2.9h-2.9zM1471.1,1257.7h2.9v2.9h-2.9zM1481.5,1257.7h2.9v2.9h-2.9zM1523.1,1257.7h2.9v2.9h-2.9zM1530.9,1257.7h2.9v2.9h-2.9zM1541.3,1257.7h2.9v2.9h-2.9zM1546.5,1257.7h2.9v2.9h-2.9zM1478.9,1260.3h2.9v2.9h-2.9zM1484.1,1260.3h2.9v2.9h-2.9zM1491.9,1260.3h2.9v2.9h-2.9zM1510.1,1260.3h2.9v2.9h-2.9zM1517.9,1260.3h2.9v2.9h-2.9zM1523.1,1260.3h2.9v2.9h-2.9zM1533.5,1260.3h2.9v2.9h-2.9zM1541.3,1260.3h2.9v2.9h-2.9zM1481.5,1262.9h2.9v2.9h-2.9zM1486.7,1262.9h2.9v2.9h-2.9zM1491.9,1262.9h2.9v2.9h-2.9zM1502.3,1262.9h2.9v2.9h-2.9zM1536.1,1262.9h2.9v2.9h-2.9zM1541.3,1262.9h2.9v2.9h-2.9zM1546.5,1262.9h2.9v2.9h-2.9zM1478.9,1265.5h2.9v2.9h-2.9zM1481.5,1265.5h2.9v2.9h-2.9zM1491.9,1265.5h2.9v2.9h-2.9zM1525.7,1265.5h2.9v2.9h-2.9zM1530.9,1265.5h2.9v2.9h-2.9zM1533.5,1265.5h2.9v2.9h-2.9zM1538.7,1265.5h2.9v2.9h-2.9zM1481.5,1268.1h2.9v2.9h-2.9zM1484.1,1268.1h2.9v2.9h-2.9zM1486.7,1268.1h2.9v2.9h-2.9zM1489.3,1268.1h2.9v2.9h-2.9zM1491.9,1268.1h2.9v2.9h-2.9zM1497.1,1268.1h2.9v2.9h-2.9zM1525.7,1268.1h2.9v2.9h-2.9zM1486.7,1270.7h2.9v2.9h-2.9zM1507.5,1270.7h2.9v2.9h-2.9zM1523.1,1270.7h2.9v2.9h-2.9zM1525.7,1270.7h2.9v2.9h-2.9zM1541.3,1270.7h2.9v2.9h-2.9zM1478.9,1273.3h2.9v2.9h-2.9zM1481.5,1273.3h2.9v2.9h-2.9zM1497.1,1273.3h2.9v2.9h-2.9zM1504.9,1273.3h2.9v2.9h-2.9zM1523.1,1273.3h2.9v2.9h-2.9zM1530.9,1273.3h2.9v2.9h-2.9zM1533.5,1273.3h2.9v2.9h-2.9zM1538.7,1273.3h2.9v2.9h-2.9zM1543.9,1273.3h2.9v2.9h-2.9zM1523.1,1275.9h2.9v2.9h-2.9zM1543.9,1275.9h2.9v2.9h-2.9zM1478.9,1278.5h2.9v2.9h-2.9zM1489.3,1278.5h2.9v2.9h-2.9zM1494.5,1278.5h2.9v2.9h-2.9zM1497.1,1278.5h2.9v2.9h-2.9zM1528.3,1278.5h2.9v2.9h-2.9zM1528.3,1281.1h2.9v2.9h-2.9zM1538.7,1281.1h2.9v2.9h-2.9zM1517.9,1283.7h2.9v2.9h-2.9zM1523.1,1283.7h2.9v2.9h-2.9zM1481.5,1286.3h2.9v2.9h-2.9zM1484.1,1286.3h2.9v2.9h-2.9zM1486.7,1286.3h2.9v2.9h-2.9zM1523.1,1286.3h2.9v2.9h-2.9zM1530.9,1286.3h2.9v2.9h-2.9zM1541.3,1286.3h2.9v2.9h-2.9zM1491.9,1288.9h2.9v2.9h-2.9zM1515.3,1288.9h2.9v2.9h-2.9zM1517.9,1288.9h2.9v2.9h-2.9zM1520.5,1288.9h2.9v2.9h-2.9zM1533.5,1288.9h2.9v2.9h-2.9zM1538.7,1288.9h2.9v2.9h-2.9zM1546.5,1288.9h2.9v2.9h-2.9zM1489.3,1291.5h2.9v2.9h-2.9zM1494.5,1291.5h2.9v2.9h-2.9zM1528.3,1291.5h2.9v2.9h-2.9zM1489.3,1294.1h2.9v2.9h-2.9zM1499.7,1294.1h2.9v2.9h-2.9zM1523.1,1294.1h2.9v2.9h-2.9zM1525.7,1294.1h2.9v2.9h-2.9zM1530.9,1294.1h2.9v2.9h-2.9zM1533.5,1294.1h2.9v2.9h-2.9zM1541.3,1294.1h2.9v2.9h-2.9zM1489.3,1296.7h2.9v2.9h-2.9zM1504.9,1296.7h2.9v2.9h-2.9zM1510.1,1296.7h2.9v2.9h-2.9zM1512.7,1296.7h2.9v2.9h-2.9zM1523.1,1296.7h2.9v2.9h-2.9zM1481.5,1299.3h2.9v2.9h-2.9zM1484.1,1299.3h2.9v2.9h-2.9zM1489.3,1299.3h2.9v2.9h-2.9zM1494.5,1299.3h2.9v2.9h-2.9zM1497.1,1299.3h2.9v2.9h-2.9zM1512.7,1299.3h2.9v2.9h-2.9zM1491.9,1301.9h2.9v2.9h-2.9zM1497.1,1301.9h2.9v2.9h-2.9zM1499.7,1301.9h2.9v2.9h-2.9zM1507.5,1301.9h2.9v2.9h-2.9zM1510.1,1301.9h2.9v2.9h-2.9zM1523.1,1301.9h2.9v2.9h-2.9zM1525.7,1301.9h2.9v2.9h-2.9zM1499.7,1304.5h2.9v2.9h-2.9zM1502.3,1304.5h2.9v2.9h-2.9zM1507.5,1304.5h2.9v2.9h-2.9zM1523.1,1304.5h2.9v2.9h-2.9zM1497.1,1307.1h2.9v2.9h-2.9zM1502.3,1307.1h2.9v2.9h-2.9zM1515.3,1307.1h2.9v2.9h-2.9zM1530.9,1307.1h2.9v2.9h-2.9zM1491.9,1309.7h2.9v2.9h-2.9zM1507.5,1309.7h2.9v2.9h-2.9zM1510.1,1309.7h2.9v2.9h-2.9zM1528.3,1309.7h2.9v2.9h-2.9zM1512.7,1312.3h2.9v2.9h-2.9zM1523.1,1312.3h2.9v2.9h-2.9zM1528.3,1312.3h2.9v2.9h-2.9zM1499.7,1314.9h2.9v2.9h-2.9zM1528.3,1314.9h2.9v2.9h-2.9zM1510.1,1322.7h2.9v2.9h-2.9z"/>
<path fill="#7f0000" d="M1502.3,1192.7h2.9v2.9h-2.9zM1515.3,1197.9h2.9v2.9h-2.9zM1502.3,1200.5h2.9v2.9h-2.9zM1497.1,1203.1h2.9v2.9h-2.9zM1502.3,1203.1h2.9v2.9h-2.9zM1528.3,1203.1h2.9v2.9h-2.9zM1494.5,1205.7h2.9v2.9h-2.9zM1504.9,1205.7h2.9v2.9h-2.9zM1510.1,1205.7h2.9v2.9h-2.9zM1515.3,1205.7h2.9v2.9h-2.9zM1517.9,1205.7h2.9v2.9h-2.9zM1520.5,1205.7h2.9v2.9h-2.9zM1502.3,1208.3h2.9v2.9h-2.9zM1520.5,1208.3h2.9v2.9h-2.9zM1533.5,1208.3h2.9v2.9h-2.9zM1489.3,1210.9h2.9v2.9h-2.9zM1502.3,1210.9h2.9v2.9h-2.9zM1512.7,1210.9h2.9v2.9h-2.9zM1502.3,1213.5h2.9v2.9h-2.9zM1504.9,1213.5h2.9v2.9h-2.9zM1507.5,1213.5h2.9v2.9h-2.9zM1510.1,1213.5h2.9v2.9h-2.9zM1515.3,1213.5h2.9v2.9h-2.9zM1517.9,1213.5h2.9v2.9h-2.9zM1528.3,1213.5h2.9v2.9h-2.9zM1497.1,1216.1h2.9v2.9h-2.9zM1499.7,1216.1h2.9v2.9h-2.9zM1512.7,1216.1h2.9v2.9h-2.9zM1515.3,1216.1h2.9v2.9h-2.9zM1497.1,1218.7h2.9v2.9h-2.9zM1499.7,1218.7h2.9v2.9h-2.9zM1507.5,1218.7h2.9v2.9h-2.9zM1510.1,1218.7h2.9v2.9h-2.9zM1515.3,1218.7h2.9v2.9h-2.9zM1517.9,1218.7h2.9v2.9h-2.9zM1525.7,1218.7h2.9v2.9h-2.9zM1491.9,1221.3h2.9v2.9h-2.9zM1497.1,1221.3h2.9v2.9h-2.9zM1499.7,1221.3h2.9v2.9h-2.9zM1507.5,1221.3h2.9v2.9h-2.9zM1515.3,1221.3h2.9v2.9h-2.9zM1517.9,1221.3h2.9v2.9h-2.9zM1525.7,1221.3h2.9v2.9h-2.9zM1530.9,1221.3h2.9v2.9h-2.9zM1536.1,1221.3h2.9v2.9h-2.9zM1504.9,1223.9h2.9v2.9h-2.9zM1507.5,1223.9h2.9v2.9h-2.9zM1510.1,1223.9h2.9v2.9h-2.9zM1515.3,1223.9h2.9v2.9h-2.9zM1517.9,1223.9h2.9v2.9h-2.9zM1523.1,1223.9h2.9v2.9h-2.9zM1533.5,1223.9h2.9v2.9h-2.9zM1489.3,1226.5h2.9v2.9h-2.9zM1494.5,1226.5h2.9v2.9h-2.9zM1497.1,1226.5h2.9v2.9h-2.9zM1499.7,1226.5h2.9v2.9h-2.9zM1504.9,1226.5h2.9v2.9h-2.9zM1507.5,1226.5h2.9v2.9h-2.9zM1510.1,1226.5h2.9v2.9h-2.9zM1512.7,1226.5h2.9v2.9h-2.9zM1517.9,1226.5h2.9v2.9h-2.9zM1520.5,1226.5h2.9v2.9h-2.9zM1525.7,1226.5h2.9v2.9h-2.9zM1538.7,1226.5h2.9v2.9h-2.9zM1486.7,1229.1h2.9v2.9h-2.9zM1497.1,1229.1h2.9v2.9h-2.9zM1499.7,1229.1h2.9v2.9h-2.9zM1502.3,1229.1h2.9v2.9h-2.9zM1507.5,1229.1h2.9v2.9h-2.9zM1510.1,1229.1h2.9v2.9h-2.9zM1512.7,1229.1h2.9v2.9h-2.9zM1515.3,1229.1h2.9v2.9h-2.9zM1520.5,1229.1h2.9v2.9h-2.9zM1523.1,1229.1h2.9v2.9h-2.9zM1525.7,1229.1h2.9v2.9h-2.9zM1528.3,1229.1h2.9v2.9h-2.9zM1530.9,1229.1h2.9v2.9h-2.9zM1533.5,1229.1h2.9v2.9h-2.9zM1494.5,1231.7h2.9v2.9h-2.9zM1502.3,1231.7h2.9v2.9h-2.9zM1507.5,1231.7h2.9v2.9h-2.9zM1512.7,1231.7h2.9v2.9h-2.9zM1515.3,1231.7h2.9v2.9h-2.9zM1525.7,1231.7h2.9v2.9h-2.9zM1489.3,1234.3h2.9v2.9h-2.9zM1494.5,1234.3h2.9v2.9h-2.9zM1499.7,1234.3h2.9v2.9h-2.9zM1502.3,1234.3h2.9v2.9h-2.9zM1504.9,1234.3h2.9v2.9h-2.9zM1507.5,1234.3h2.9v2.9h-2.9zM1510.1,1234.3h2.9v2.9h-2.9zM1520.5,1234.3h2.9v2.9h-2.9zM1523.1,1234.3h2.9v2.9h-2.9zM1525.7,1234.3h2.9v2.9h-2.9zM1528.3,1234.3h2.9v2.9h-2.9zM1538.7,1234.3h2.9v2.9h-2.9zM1491.9,1236.9h2.9v2.9h-2.9zM1494.5,1236.9h2.9v2.9h-2.9zM1507.5,1236.9h2.9v2.9h-2.9zM1510.1,1236.9h2.9v2.9h-2.9zM1512.7,1236.9h2.9v2.9h-2.9zM1520.5,1236.9h2.9v2.9h-2.9zM1523.1,1236.9h2.9v2.9h-2.9zM1486.7,1239.5h2.9v2.9h-2.9zM1491.9,1239.5h2.9v2.9h-2.9zM1494.5,1239.5h2.9v2.9h-2.9zM1499.7,1239.5h2.9v2.9h-2.9zM1502.3,1239.5h2.9v2.9h-2.9zM1504.9,1239.5h2.9v2.9h-2.9zM1512.7,1239.5h2.9v2.9h-2.9zM1515.3,1239.5h2.9v2.9h-2.9zM1523.1,1239.5h2.9v2.9h-2.9zM1525.7,1239.5h2.9v2.9h-2.9zM1530.9,1239.5h2.9v2.9h-2.9zM1536.1,1239.5h2.9v2.9h-2.9zM1543.9,1239.5h2.9v2.9h-2.9zM1491.9,1242.1h2.9v2.9h-2.9zM1494.5,1242.1h2.9v2.9h-2.9zM1497.1,1242.1h2.9v2.9h-2.9zM1499.7,1242.1h2.9v2.9h-2.9zM1502.3,1242.1h2.9v2.9h-2.9zM1504.9,1242.1h2.9v2.9h-2.9zM1507.5,1242.1h2.9v2.9h-2.9zM1512.7,1242.1h2.9v2.9h-2.9zM1476.3,1244.7h2.9v2.9h-2.9zM1486.7,1244.7h2.9v2.9h-2.9zM1489.3,1244.7h2.9v2.9h-2.9zM1499.7,1244.7h2.9v2.9h-2.9zM1502.3,1244.7h2.9v2.9h-2.9zM1504.9,1244.7h2.9v2.9h-2.9zM1507.5,1244.7h2.9v2.9h-2.9zM1510.1,1244.7h2.9v2.9h-2.9zM1512.7,1244.7h2.9v2.9h-2.9zM1517.9,1244.7h2.9v2.9h-2.9zM1520.5,1244.7h2.9v2.9h-2.9zM1523.1,1244.7h2.9v2.9h-2.9zM1528.3,1244.7h2.9v2.9h-2.9zM1530.9,1244.7h2.9v2.9h-2.9zM1533.5,1244.7h2.9v2.9h-2.9zM1536.1,1244.7h2.9v2.9h-2.9zM1484.1,1247.3h2.9v2.9h-2.9zM1486.7,1247.3h2.9v2.9h-2.9zM1494.5,1247.3h2.9v2.9h-2.9zM1502.3,1247.3h2.9v2.9h-2.9zM1504.9,1247.3h2.9v2.9h-2.9zM1507.5,1247.3h2.9v2.9h-2.9zM1510.1,1247.3h2.9v2.9h-2.9zM1512.7,1247.3h2.9v2.9h-2.9zM1515.3,1247.3h2.9v2.9h-2.9zM1517.9,1247.3h2.9v2.9h-2.9zM1520.5,1247.3h2.9v2.9h-2.9zM1523.1,1247.3h2.9v2.9h-2.9zM1528.3,1247.3h2.9v2.9h-2.9zM1538.7,1247.3h2.9v2.9h-2.9zM1497.1,1249.9h2.9v2.9h-2.9zM1499.7,1249.9h2.9v2.9h-2.9zM1502.3,1249.9h2.9v2.9h-2.9zM1504.9,1249.9h2.9v2.9h-2.9zM1507.5,1249.9h2.9v2.9h-2.9zM1510.1,1249.9h2.9v2.9h-2.9zM1512.7,1249.9h2.9v2.9h-2.9zM1515.3,1249.9h2.9v2.9h-2.9zM1517.9,1249.9h2.9v2.9h-2.9zM1520.5,1249.9h2.9v2.9h-2.9zM1523.1,1249.9h2.9v2.9h-2.9zM1525.7,1249.9h2.9v2.9h-2.9zM1528.3,1249.9h2.9v2.9h-2.9zM1533.5,1249.9h2.9v2.9h-2.9zM1481.5,1252.5h2.9v2.9h-2.9zM1484.1,1252.5h2.9v2.9h-2.9zM1491.9,1252.5h2.9v2.9h-2.9zM1497.1,1252.5h2.9v2.9h-2.9zM1499.7,1252.5h2.9v2.9h-2.9zM1502.3,1252.5h2.9v2.9h-2.9zM1504.9,1252.5h2.9v2.9h-2.9zM1507.5,1252.5h2.9v2.9h-2.9zM1510.1,1252.5h2.9v2.9h-2.9zM1512.7,1252.5h2.9v2.9h-2.9zM1515.3,1252.5h2.9v2.9h-2.9zM1517.9,1252.5h2.9v2.9h-2.9zM1520.5,1252.5h2.9v2.9h-2.9zM1523.1,1252.5h2.9v2.9h-2.9zM1525.7,1252.5h2.9v2.9h-2.9zM1528.3,1252.5h2.9v2.9h-2.9zM1530.9,1252.5h2.9v2.9h-2.9zM1533.5,1252.5h2.9v2.9h-2.9zM1536.1,1252.5h2.9v2.9h-2.9zM1486.7,1255.1h2.9v2.9h-2.9zM1491.9,1255.1h2.9v2.9h-2.9zM1494.5,1255.1h2.9v2.9h-2.9zM1497.1,1255.1h2.9v2.9h-2.9zM1499.7,1255.1h2.9v2.9h-2.9zM1504.9,1255.1h2.9v2.9h-2.9zM1507.5,1255.1h2.9v2.9h-2.9zM1510.1,1255.1h2.9v2.9h-2.9zM1512.7,1255.1h2.9v2.9h-2.9zM1515.3,1255.1h2.9v2.9h-2.9zM1517.9,1255.1h2.9v2.9h-2.9zM1520.5,1255.1h2.9v2.9h-2.9zM1523.1,1255.1h2.9v2.9h-2.9zM1525.7,1255.1h2.9v2.9h-2.9zM1533.5,1255.1h2.9v2.9h-2.9zM1484.1,1257.7h2.9v2.9h-2.9zM1486.7,1257.7h2.9v2.9h-2.9zM1491.9,1257.7h2.9v2.9h-2.9zM1497.1,1257.7h2.9v2.9h-2.9zM1499.7,1257.7h2.9v2.9h-2.9zM1502.3,1257.7h2.9v2.9h-2.9zM1504.9,1257.7h2.9v2.9h-2.9zM1507.5,1257.7h2.9v2.9h-2.9zM1510.1,1257.7h2.9v2.9h-2.9zM1512.7,1257.7h2.9v2.9h-2.9zM1515.3,1257.7h2.9v2.9h-2.9zM1520.5,1257.7h2.9v2.9h-2.9zM1528.3,1257.7h2.9v2.9h-2.9zM1533.5,1257.7h2.9v2.9h-2.9zM1536.1,1257.7h2.9v2.9h-2.9zM1486.7,1260.3h2.9v2.9h-2.9zM1489.3,1260.3h2.9v2.9h-2.9zM1494.5,1260.3h2.9v2.9h-2.9zM1497.1,1260.3h2.9v2.9h-2.9zM1499.7,1260.3h2.9v2.9h-2.9zM1502.3,1260.3h2.9v2.9h-2.9zM1504.9,1260.3h2.9v2.9h-2.9zM1507.5,1260.3h2.9v2.9h-2.9zM1512.7,1260.3h2.9v2.9h-2.9zM1515.3,1260.3h2.9v2.9h-2.9zM1520.5,1260.3h2.9v2.9h-2.9zM1525.7,1260.3h2.9v2.9h-2.9zM1530.9,1260.3h2.9v2.9h-2.9zM1478.9,1262.9h2.9v2.9h-2.9zM1484.1,1262.9h2.9v2.9h-2.9zM1489.3,1262.9h2.9v2.9h-2.9zM1494.5,1262.9h2.9v2.9h-2.9zM1497.1,1262.9h2.9v2.9h-2.9zM1499.7,1262.9h2.9v2.9h-2.9zM1504.9,1262.9h2.9v2.9h-2.9zM1507.5,1262.9h2.9v2.9h-2.9zM1510.1,1262.9h2.9v2.9h-2.9zM1512.7,1262.9h2.9v2.9h-2.9zM1515.3,1262.9h2.9v2.9h-2.9zM1517.9,1262.9h2.9v2.9h-2.9zM1520.5,1262.9h2.9v2.9h-2.9zM1523.1,1262.9h2.9v2.9h-2.9zM1525.7,1262.9h2.9v2.9h-2.9zM1528.3,1262.9h2.9v2.9h-2.9zM1530.9,1262.9h2.9v2.9h-2.9zM1533.5,1262.9h2.9v2.9h-2.9zM1549.1,1262.9h2.9v2.9h-2.9zM1476.3,1265.5h2.9v2.9h-2.9zM1484.1,1265.5h2.9v2.9h-2.9zM1489.3,1265.5h2.9v2.9h-2.9zM1497.1,1265.5h2.9v2.9h-2.9zM1499.7,1265.5h2.9v2.9h-2.9zM1502.3,1265.5h2.9v2.9h-2.9zM1504.9,1265.5h2.9v2.9h-2.9zM1507.5,1265.5h2.9v2.9h-2.9zM1510.1,1265.5h2.9v2.9h-2.9zM1512.7,1265.5h2.9v2.9h-2.9zM1515.3,1265.5h2.9v2.9h-2.9zM1517.9,1265.5h2.9v2.9h-2.9zM1520.5,1265.5h2.9v2.9h-2.9zM1523.1,1265.5h2.9v2.9h-2.9zM1528.3,1265.5h2.9v2.9h-2.9zM1541.3,1265.5h2.9v2.9h-2.9zM1543.9,1265.5h2.9v2.9h-2.9zM1549.1,1265.5h2.9v2.9h-2.9zM1478.9,1268.1h2.9v2.9h-2.9zM1494.5,1268.1h2.9v2.9h-2.9zM1499.7,1268.1h2.9v2.9h-2.9zM1504.9,1268.1h2.9v2.9h-2.9zM1507.5,1268.1h2.9v2.9h-2.9zM1510.1,1268.1h2.9v2.9h-2.9zM1512.7,1268.1h2.9v2.9h-2.9zM1515.3,1268.1h2.9v2.9h-2.9zM1517.9,1268.1h2.9v2.9h-2.9zM1520.5,1268.1h2.9v2.9h-2.9zM1523.1,1268.1h2.9v2.9h-2.9zM1528.3,1268.1h2.9v2.9h-2.9zM1530.9,1268.1h2.9v2.9h-2.9zM1489.3,1270.7h2.9v2.9h-2.9zM1494.5,1270.7h2.9v2.9h-2.9zM1497.1,1270.7h2.9v2.9h-2.9zM1499.7,1270.7h2.9v2.9h-2.9zM1502.3,1270.7h2.9v2.9h-2.9zM1504.9,1270.7h2.9v2.9h-2.9zM1510.1,1270.7h2.9v2.9h-2.9zM1512.7,1270.7h2.9v2.9h-2.9zM1515.3,1270.7h2.9v2.9h-2.9zM1517.9,1270.7h2.9v2.9h-2.9zM1520.5,1270.7h2.9v2.9h-2.9zM1528.3,1270.7h2.9v2.9h-2.9zM1530.9,1270.7h2.9v2.9h-2.9zM1536.1,1270.7h2.9v2.9h-2.9zM1484.1,1273.3h2.9v2.9h-2.9zM1491.9,1273.3h2.9v2.9h-2.9zM1494.5,1273.3h2.9v2.9h-2.9zM1499.7,1273.3h2.9v2.9h-2.9zM1502.3,1273.3h2.9v2.9h-2.9zM1507.5,1273.3h2.9v2.9h-2.9zM1510.1,1273.3h2.9v2.9h-2.9zM1512.7,1273.3h2.9v2.9h-2.9zM1515.3,1273.3h2.9v2.9h-2.9zM1517.9,1273.3h2.9v2.9h-2.9zM1520.5,1273.3h2.9v2.9h-2.9zM1525.7,1273.3h2.9v2.9h-2.9zM1541.3,1273.3h2.9v2.9h-2.9zM1489.3,1275.9h2.9v2.9h-2.9zM1491.9,1275.9h2.9v2.9h-2.9zM1494.5,1275.9h2.9v2.9h-2.9zM1497.1,1275.9h2.9v2.9h-2.9zM1499.7,1275.9h2.9v2.9h-2.9zM1504.9,1275.9h2.9v2.9h-2.9zM1507.5,1275.9h2.9v2.9h-2.9zM1510.1,1275.9h2.9v2.9h-2.9zM1512.7,1275.9h2.9v2.9h-2.9zM1515.3,1275.9h2.9v2.9h-2.9zM1517.9,1275.9h2.9v2.9h-2.9zM1520.5,1275.9h2.9v2.9h-2.9zM1525.7,1275.9h2.9v2.9h-2.9zM1530.9,1275.9h2.9v2.9h-2.9zM1533.5,1275.9h2.9v2.9h-2.9zM1536.1,1275.9h2.9v2.9h-2.9zM1538.7,1275.9h2.9v2.9h-2.9zM1473.7,1278.5h2.9v2.9h-2.9zM1499.7,1278.5h2.9v2.9h-2.9zM1502.3,1278.5h2.9v2.9h-2.9zM1504.9,1278.5h2.9v2.9h-2.9zM1507.5,1278.5h2.9v2.9h-2.9zM1510.1,1278.5h2.9v2.9h-2.9zM1512.7,1278.5h2.9v2.9h-2.9zM1517.9,1278.5h2.9v2.9h-2.9zM1520.5,1278.5h2.9v2.9h-2.9zM1523.1,1278.5h2.9v2.9h-2.9zM1525.7,1278.5h2.9v2.9h-2.9zM1530.9,1278.5h2.9v2.9h-2.9zM1533.5,1278.5h2.9v2.9h-2.9zM1541.3,1278.5h2.9v2.9h-2.9zM1486.7,1281.1h2.9v2.9h-2.9zM1494.5,1281.1h2.9v2.9h-2.9zM1497.1,1281.1h2.9v2.9h-2.9zM1499.7,1281.1h2.9v2.9h-2.9zM1502.3,1281.1h2.9v2.9h-2.9zM1504.9,1281.1h2.9v2.9h-2.9zM1507.5,1281.1h2.9v2.9h-2.9zM1510.1,1281.1h2.9v2.9h-2.9zM1512.7,1281.1h2.9v2.9h-2.9zM1515.3,1281.1h2.9v2.9h-2.9zM1517.9,1281.1h2.9v2.9h-2.9zM1520.5,1281.1h2.9v2.9h-2.9zM1523.1,1281.1h2.9v2.9h-2.9zM1525.7,1281.1h2.9v2.9h-2.9zM1530.9,1281.1h2.9v2.9h-2.9zM1533.5,1281.1h2.9v2.9h-2.9zM1541.3,1281.1h2.9v2.9h-2.9zM1478.9,1283.7h2.9v2.9h-2.9zM1484.1,1283.7h2.9v2.9h-2.9zM1486.7,1283.7h2.9v2.9h-2.9zM1489.3,1283.7h2.9v2.9h-2.9zM1494.5,1283.7h2.9v2.9h-2.9zM1499.7,1283.7h2.9v2.9h-2.9zM1502.3,1283.7h2.9v2.9h-2.9zM1504.9,1283.7h2.9v2.9h-2.9zM1507.5,1283.7h2.9v2.9h-2.9zM1510.1,1283.7h2.9v2.9h-2.9zM1512.7,1283.7h2.9v2.9h-2.9zM1520.5,1283.7h2.9v2.9h-2.9zM1525.7,1283.7h2.9v2.9h-2.9zM1528.3,1283.7h2.9v2.9h-2.9zM1478.9,1286.3h2.9v2.9h-2.9zM1489.3,1286.3h2.9v2.9h-2.9zM1497.1,1286.3h2.9v2.9h-2.9zM1499.7,1286.3h2.9v2.9h-2.9zM1502.3,1286.3h2.9v2.9h-2.9zM1504.9,1286.3h2.9v2.9h-2.9zM1507.5,1286.3h2.9v2.9h-2.9zM1510.1,1286.3h2.9v2.9h-2.9zM1512.7,1286.3h2.9v2.9h-2.9zM1517.9,1286.3h2.9v2.9h-2.9zM1520.5,1286.3h2.9v2.9h-2.9zM1525.7,1286.3h2.9v2.9h-2.9zM1533.5,1286.3h2.9v2.9h-2.9zM1543.9,1286.3h2.9v2.9h-2.9zM1489.3,1288.9h2.9v2.9h-2.9zM1494.5,1288.9h2.9v2.9h-2.9zM1499.7,1288.9h2.9v2.9h-2.9zM1504.9,1288.9h2.9v2.9h-2.9zM1510.1,1288.9h2.9v2.9h-2.9zM1512.7,1288.9h2.9v2.9h-2.9zM1523.1,1288.9h2.9v2.9h-2.9zM1528.3,1288.9h2.9v2.9h-2.9zM1530.9,1288.9h2.9v2.9h-2.9zM1481.5,1291.5h2.9v2.9h-2.9zM1497.1,1291.5h2.9v2.9h-2.9zM1499.7,1291.5h2.9v2.9h-2.9zM1502.3,1291.5h2.9v2.9h-2.9zM1504.9,1291.5h2.9v2.9h-2.9zM1510.1,1291.5h2.9v2.9h-2.9zM1512.7,1291.5h2.9v2.9h-2.9zM1517.9,1291.5h2.9v2.9h-2.9zM1520.5,1291.5h2.9v2.9h-2.9zM1523.1,1291.5h2.9v2.9h-2.9zM1525.7,1291.5h2.9v2.9h-2.9zM1530.9,1291.5h2.9v2.9h-2.9zM1533.5,1291.5h2.9v2.9h-2.9zM1543.9,1291.5h2.9v2.9h-2.9zM1476.3,1294.1h2.9v2.9h-2.9zM1494.5,1294.1h2.9v2.9h-2.9zM1497.1,1294.1h2.9v2.9h-2.9zM1504.9,1294.1h2.9v2.9h-2.9zM1507.5,1294.1h2.9v2.9h-2.9zM1510.1,1294.1h2.9v2.9h-2.9zM1512.7,1294.1h2.9v2.9h-2.9zM1515.3,1294.1h2.9v2.9h-2.9zM1517.9,1294.1h2.9v2.9h-2.9zM1520.5,1294.1h2.9v2.9h-2.9zM1484.1,1296.7h2.9v2.9h-2.9zM1491.9,1296.7h2.9v2.9h-2.9zM1497.1,1296.7h2.9v2.9h-2.9zM1502.3,1296.7h2.9v2.9h-2.9zM1507.5,1296.7h2.9v2.9h-2.9zM1515.3,1296.7h2.9v2.9h-2.9zM1517.9,1296.7h2.9v2.9h-2.9zM1520.5,1296.7h2.9v2.9h-2.9zM1530.9,1296.7h2.9v2.9h-2.9zM1543.9,1296.7h2.9v2.9h-2.9zM1502.3,1299.3h2.9v2.9h-2.9zM1510.1,1299.3h2.9v2.9h-2.9zM1515.3,1299.3h2.9v2.9h-2.9zM1523.1,1299.3h2.9v2.9h-2.9zM1525.7,1299.3h2.9v2.9h-2.9zM1528.3,1299.3h2.9v2.9h-2.9zM1538.7,1299.3h2.9v2.9h-2.9zM1484.1,1301.9h2.9v2.9h-2.9zM1494.5,1301.9h2.9v2.9h-2.9zM1502.3,1301.9h2.9v2.9h-2.9zM1517.9,1301.9h2.9v2.9h-2.9zM1528.3,1301.9h2.9v2.9h-2.9zM1536.1,1301.9h2.9v2.9h-2.9zM1541.3,1301.9h2.9v2.9h-2.9zM1497.1,1304.5h2.9v2.9h-2.9zM1504.9,1304.5h2.9v2.9h-2.9zM1512.7,1304.5h2.9v2.9h-2.9zM1517.9,1304.5h2.9v2.9h-2.9zM1520.5,1304.5h2.9v2.9h-2.9zM1512.7,1307.1h2.9v2.9h-2.9zM1536.1,1307.1h2.9v2.9h-2.9zM1512.7,1309.7h2.9v2.9h-2.9zM1525.7,1309.7h2.9v2.9h-2.9zM1517.9,1312.3h2.9v2.9h-2.9z"/>
</g>
<rect x="1106.9" y="864.1" width="810.2" height="809.1" fill="none" stroke="#262626" stroke-width="2.3"/>
<path d="M1174.4,864.1v9.5M1174.4,1673.2v-9.5M1512,864.1v9.5M1512,1673.2v-9.5M1849.6,864.1v9.5M1849.6,1673.2v-9.5M1106.9,1605.8h9.5M1917.1,1605.8h-9.5M1106.9,1437.2h9.5M1917.1,1437.2h-9.5M1106.9,1268.7h9.5M1917.1,1268.7h-9.5M1106.9,1100.1h9.5M1917.1,1100.1h-9.5M1106.9,931.5h9.5M1917.1,931.5h-9.5" stroke="#262626" stroke-width="2" fill="none"/>
<g stroke="#14f014" stroke-width="6.4" opacity="0.86"><path d="M1106.9,1268.7H1917.1"/><path d="M1512,863.1V1674.2"/></g>
<text class="pl" x="1157.9" y="969.1">D</text>
</g>
<text class="lab" text-anchor="end" x="227.3" y="109.2">1</text>
<text class="lab" text-anchor="end" x="227.3" y="277.8">0.5</text>
<text class="lab" text-anchor="end" x="227.3" y="446.4">0</text>
<text class="lab" text-anchor="end" x="227.3" y="614.9">-0.5</text>
<text class="lab" text-anchor="end" x="227.3" y="783.5">-1</text>
<text class="lab" text-anchor="middle" transform="translate(69.5 414.8) rotate(-90)"><tspan font-style="italic">ζ</tspan>/f</text>
<text class="lab" text-anchor="end" x="227.3" y="960">1</text>
<text class="lab" text-anchor="end" x="227.3" y="1128.6">0.5</text>
<text class="lab" text-anchor="end" x="227.3" y="1297.2">0</text>
<text class="lab" text-anchor="end" x="227.3" y="1465.7">-0.5</text>
<text class="lab" text-anchor="end" x="227.3" y="1634.3">-1</text>
<text class="lab" text-anchor="middle" transform="translate(69.5 1265.7) rotate(-90)"><tspan font-style="italic">ζ</tspan>/f</text>
<text class="lab" text-anchor="middle" x="320.9" y="1774.5">-1</text>
<text class="lab" text-anchor="middle" x="658.2" y="1774.5">0</text>
<text class="lab" text-anchor="middle" x="995.5" y="1774.5">1</text>
<text class="lab" text-anchor="middle" x="658.2" y="1869">w (m/s)</text>
<text class="lab" x="866.9" y="1906.5" style="font-size:97px">×</text>
<text class="lab" x="927.9" y="1894">10<tspan class="sup" dx="3" dy="-40">-3</tspan></text>
<text class="lab" text-anchor="middle" x="1174.4" y="1774.5">-1</text>
<text class="lab" text-anchor="middle" x="1512" y="1774.5">0</text>
<text class="lab" text-anchor="middle" x="1849.6" y="1774.5">1</text>
<text class="lab" text-anchor="middle" x="1512" y="1869">w (m/s)</text>
<text class="lab" x="1721" y="1906.5" style="font-size:97px">×</text>
<text class="lab" x="1782" y="1894">10<tspan class="sup" dx="3" dy="-40">-3</tspan></text>
<g id="colorbar">
<rect x="1995.9" y="397" width="72.3" height="51.1" fill="#7f0000"/>
<rect x="1995.9" y="447.5" width="72.3" height="51.1" fill="#b30000"/>
<rect x="1995.9" y="497.9" width="72.3" height="51.1" fill="#d7301f"/>
<rect x="1995.9" y="548.4" width="72.3" height="51.1" fill="#ec7014"/>
<rect x="1995.9" y="598.8" width="72.3" height="51.1" fill="#fe9929"/>
<rect x="1995.9" y="649.3" width="72.3" height="51.1" fill="#fec44f"/>
<rect x="1995.9" y="699.7" width="72.3" height="51.1" fill="#fee391"/>
<rect x="1995.9" y="750.2" width="72.3" height="51.1" fill="#fff7bc"/>
<rect x="1995.9" y="800.7" width="72.3" height="51.1" fill="#c7e9b4"/>
<rect x="1995.9" y="851.1" width="72.3" height="51.1" fill="#7fcdbb"/>
<rect x="1995.9" y="901.6" width="72.3" height="51.1" fill="#41b6c4"/>
<rect x="1995.9" y="952" width="72.3" height="51.1" fill="#1d91c0"/>
<rect x="1995.9" y="1002.5" width="72.3" height="51.1" fill="#225ea8"/>
<rect x="1995.9" y="1052.9" width="72.3" height="51.1" fill="#253494"/>
<rect x="1995.9" y="1103.4" width="72.3" height="51.1" fill="#081d58"/>
<rect x="1995.9" y="1153.8" width="72.3" height="51.1" fill="#4d004b"/>
<rect x="1995.9" y="397.3" width="72.3" height="807.3" fill="none" stroke="#262626" stroke-width="2"/>
<path d="M2068.2,1204.6h-7M2068.2,1083.1h-4M2068.2,1012h-4M2068.2,961.6h-4M2068.2,922.5h-4M2068.2,890.5h-4M2068.2,863.5h-4M2068.2,840.1h-4M2068.2,819.4h-4M2068.2,800.9h-7M2068.2,679.4h-4M2068.2,608.4h-4M2068.2,557.9h-4M2068.2,518.8h-4M2068.2,486.8h-4M2068.2,459.8h-4M2068.2,436.4h-4M2068.2,415.8h-4M2068.2,397.3h-7" stroke="#262626" stroke-width="2" fill="none"/>
<text class="lab" x="2098" y="439.3" letter-spacing="-1.5">10<tspan class="sup" dx="-2" dy="-41">4</tspan></text>
<text class="lab" x="2098" y="842.9" letter-spacing="-1.5">10<tspan class="sup" dx="-2" dy="-41">3</tspan></text>
<text class="lab" x="2098" y="1246.6" letter-spacing="-1.5">10<tspan class="sup" dx="-2" dy="-41">2</tspan></text>
</g>
</svg></body></html>
